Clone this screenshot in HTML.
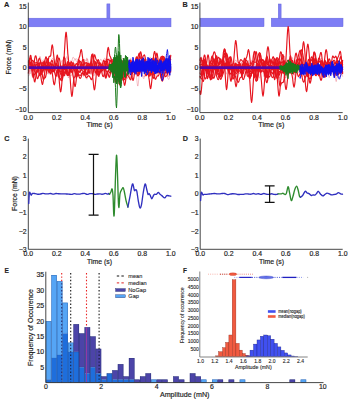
<!DOCTYPE html><html><head><meta charset="utf-8"><style>html,body{margin:0;padding:0;background:#fff;}svg{display:block;}</style></head><body><svg width="349" height="400" viewBox="0 0 349 400" font-family='"Liberation Sans", sans-serif'>
<rect width="349" height="400" fill="#fff"/>
<rect x="106.9" y="3.9" width="3.0" height="14.4" fill="#7d7df5" stroke="#6464dc" stroke-width="0.5"/>
<rect x="28.5" y="18.2" width="142.5" height="8.6" fill="#7d7df5" stroke="#6464dc" stroke-width="0.5"/>
<polyline points="28.3,75.8 28.8,75.9 29.3,74.8 29.8,72.6 30.3,70.2 30.8,68.5 31.3,67.6 31.8,67.4 32.3,67.8 32.8,68.6 33.3,69.3 33.8,69.8 34.3,69.6 34.8,68.7 35.3,67.7 35.8,67.1 36.3,66.3 36.8,64.9 37.3,63.3 37.8,62.7 38.3,63.7 38.8,65.5 39.3,66.3 39.8,65.9 40.3,64.9 40.8,63.7 41.3,62.7 41.8,62.3 42.3,63.2 42.8,65.3 43.3,67.9 43.8,70.2 44.3,71.9 44.8,72.3 45.3,71 45.8,68.5 46.3,66.9 46.8,67.5 47.3,70 47.8,72.6 48.3,74.1 48.8,73.9 49.3,71.6 49.8,68 50.3,65.2 50.8,64.6 51.3,65.6 51.8,66.3 52.3,66 52.8,65.7 53.3,66.1 53.8,67.2 54.3,68.4 54.8,69.7 55.3,70.9 55.8,71.1 56.3,69.5 56.8,66.8 57.3,64.1 57.8,62.8 58.3,62.8 58.8,63.2 59.3,63.6 59.8,64.2 60.3,65.8 60.8,68.7 61.3,72.4 61.8,76.3 62.3,79.1 62.8,79.4 63.3,76.7 63.8,72 64.3,67.6 64.8,65.6 65.3,66 65.8,67 66.3,67.3 66.8,66.9 67.3,66.4 67.8,66.1 68.3,66.4 68.8,67.6 69.3,69.2 69.8,70.6 70.3,71.3 70.8,71.2 71.3,70.2 71.8,68.5 72.3,67.2 72.8,67.3 73.3,69.2 73.8,72.4 74.3,75.8 74.8,78 75.3,78.4 75.8,77.6 76.3,76.2 76.8,74.6 77.3,72.8 77.8,70.9 78.3,69.3 78.8,68.2 79.3,67.4 79.8,65.9 80.3,64 80.8,63.3 81.3,64.7 81.8,67.1 82.3,68.8 82.8,69.3 83.3,69.3 83.8,70.1 84.3,71.6 84.8,72.9 85.3,72.8 85.8,70.7 86.3,67.7 86.8,65.7 87.3,65.7 87.8,67.5 88.3,69.8 88.8,71.3 89.3,71.9 89.8,72.3 90.3,72.9 90.8,73.6 91.3,73.2 91.8,71.6 92.3,70 92.8,69.2 93.3,68.8 93.8,68.5 94.3,69.1 94.8,71.1 95.3,73.4 95.8,74.4 96.3,73.6 96.8,71.5 97.3,69.9 97.8,69.3 98.3,69.6 98.8,70.5 99.3,71.7 99.8,72.9 100.3,73.1 100.8,71.7 101.3,69.6 101.8,68.1 102.3,68 102.8,68.7 103.3,69.2 103.8,69 104.3,68.3 104.8,67.4 105.3,65.9 105.8,64.1 106.3,62.8 106.8,63.4 107.3,65.7 107.8,67.8 108.3,67.8 108.8,65.9 109.3,63.6 109.8,62 110.3,60.8 110.8,60 111.3,59.9 111.8,60.8 112.3,62.2 112.8,63.3 113.3,63.4 113.8,61.9 114.3,59.3 114.8,57.3 115.3,58 115.8,61.9 116.3,67.3 116.8,71 117.3,72.1 117.8,71.7 118.3,72 118.8,73.7 119.3,75.7 119.8,76.2 120.3,74.5 120.8,72.4 121.3,71.9 121.8,73.2 122.3,75.4 122.8,77.1 123.3,77.7 123.8,77 124.3,75 124.8,72.5 125.3,71 125.8,71.5 126.3,73.3 126.8,75.2 127.3,75.6 127.8,74.5 128.3,72.1 128.8,69.1 129.3,65.9 129.8,63.6 130.3,63.1 130.8,64.4 131.3,66.4 131.8,68.7 132.3,70.8 132.8,71.6 133.3,70.7 133.8,68.8 134.3,67.3 134.8,66.6 135.3,67 135.8,69.2 136.3,73.7 136.8,79.4 137.3,84.2 137.8,86.1 138.3,83.9 138.8,78.6 139.3,73.6 139.8,71.2 140.3,70.5 140.8,69.5 141.3,67.7 141.8,66.2 142.3,65.6 142.8,65.2 143.3,64.5 143.8,64.1 144.3,64.8 144.8,66.5 145.3,68 145.8,68.7 146.3,69 146.8,69.5 147.3,70.3 147.8,70.4 148.3,69 148.8,66 149.3,62.9 149.8,61.5 150.3,62.9 150.8,66.3 151.3,70.1 151.8,72.6 152.3,73 152.8,72.3 153.3,71.7 153.8,71 154.3,69.4 154.8,66.7 155.3,64 155.8,62.6 156.3,62.9 156.8,64.7 157.3,67.4 157.8,68.8 158.3,67.5 158.8,63.9 159.3,60.6 159.8,59.6 160.3,60.9 160.8,63.2 161.3,65.3 161.8,66.2 162.3,65.5 162.8,63.7 163.3,62.7 163.8,63.4 164.3,65.3 164.8,66.4 165.3,65.6 165.8,64.4 166.3,64.6 166.8,66.7 167.3,69.1 167.8,70.1 168.3,69.5 168.8,68.6 169.3,68.7 169.8,69.7 170.3,71.3 170.8,72.9" fill="none" stroke="#e03048" stroke-width="0.9" stroke-opacity="0.35" stroke-linejoin="round" />
<polyline points="28.3,64.9 28.8,69 29.3,72.2 29.8,73.5 30.3,73.5 30.8,72.8 31.3,70.9 31.8,67.6 32.3,63.8 32.8,61.4 33.3,61.5 33.8,63.5 34.3,66.2 34.8,69.1 35.3,71.9 35.8,74.3 36.3,75.2 36.8,73.9 37.3,71 37.8,68.6 38.3,68.2 38.8,69.6 39.3,71.3 39.8,71.5 40.3,69.9 40.8,67.7 41.3,66.4 41.8,66.9 42.3,68.6 42.8,70.3 43.3,70.6 43.8,69.7 44.3,68.4 44.8,66.6 45.3,64.2 45.8,62.6 46.3,62.9 46.8,64.6 47.3,65.5 47.8,64.2 48.3,61.9 48.8,61.1 49.3,62.9 49.8,66.6 50.3,70.2 50.8,71.9 51.3,71.4 51.8,69.7 52.3,68.2 52.8,67.9 53.3,69.1 53.8,71 54.3,72.4 54.8,73 55.3,73.3 55.8,74 56.3,75.1 56.8,75.9 57.3,76 57.8,74.9 58.3,73.2 58.8,72.3 59.3,72.5 59.8,73 60.3,72.5 60.8,70.7 61.3,68.3 61.8,66.3 62.3,65.7 62.8,66.4 63.3,67.7 63.8,68.5 64.3,68.4 64.8,67.7 65.3,67.2 65.8,67.7 66.3,68.9 66.8,69.7 67.3,69.4 67.8,68.7 68.3,69 68.8,70.7 69.3,72.9 69.8,74.7 70.3,75.8 70.8,76.1 71.3,75.5 71.8,74.4 72.3,74.1 72.8,75.4 73.3,76.9 73.8,77 74.3,75.9 74.8,74.3 75.3,72.9 75.8,71.8 76.3,71.2 76.8,71.5 77.3,73.1 77.8,74.9 78.3,75.2 78.8,73 79.3,69.6 79.8,67 80.3,65.9 80.8,65.3 81.3,64.8 81.8,65.1 82.3,67.5 82.8,71.8 83.3,75.6 83.8,76.6 84.3,74.5 84.8,71.9 85.3,71 85.8,72.1 86.3,73.2 86.8,73.6 87.3,73.7 87.8,73.9 88.3,73.5 88.8,72.6 89.3,72.3 89.8,73.3 90.3,74.4 90.8,73.8 91.3,71 91.8,68.3 92.3,68.1 92.8,71 93.3,74.6 93.8,76.2 94.3,75.3 94.8,73.3 95.3,71.9 95.8,71.4 96.3,70.4 96.8,67.7 97.3,63.9 97.8,61 98.3,61.1 98.8,64.1 99.3,68.1 99.8,71.2 100.3,72.8 100.8,73.1 101.3,72.4 101.8,71 102.3,69.4 102.8,68.6 103.3,69.3 103.8,71 104.3,72.8 104.8,73.6 105.3,73.1 105.8,72.2 106.3,71.8 106.8,72.6 107.3,74.2 107.8,75.7 108.3,76.8 108.8,77.3 109.3,77.2 109.8,76 110.3,73.9 110.8,72 111.3,71.4 111.8,72.1 112.3,73.2 112.8,73.8 113.3,73.7 113.8,73.1 114.3,72.5 114.8,71.5 115.3,70.4 115.8,69.5 116.3,69.4 116.8,69.9 117.3,70.4 117.8,70.1 118.3,68.7 118.8,67.2 119.3,66.6 119.8,66.9 120.3,67.3 120.8,67.1 121.3,66.5 121.8,66.6 122.3,67.2 122.8,66.7 123.3,64.8 123.8,62.9 124.3,63.2 124.8,65.7 125.3,68.8 125.8,71.8 126.3,74.6 126.8,77.1 127.3,78.5 127.8,78.2 128.3,75.9 128.8,72 129.3,67.5 129.8,63.3 130.3,60 130.8,58.4 131.3,59.9 131.8,64 132.3,68.7 132.8,71.3 133.3,70.8 133.8,68.4 134.3,66.1 134.8,65 135.3,65.1 135.8,65.3 136.3,64.5 136.8,62.8 137.3,61.4 137.8,61.6 138.3,63.7 138.8,67 139.3,70.4 139.8,72.8 140.3,73.2 140.8,72.2 141.3,71.7 141.8,72.7 142.3,74.8 142.8,76.8 143.3,78.2 143.8,78.7 144.3,77.1 144.8,73.6 145.3,70 145.8,68.1 146.3,68.6 146.8,70.4 147.3,72.3 147.8,72.6 148.3,69.9 148.8,64.9 149.3,59.9 149.8,57.2 150.3,57.2 150.8,59.1 151.3,61.5 151.8,63.3 152.3,63.6 152.8,62.4 153.3,60.6 153.8,59.9 154.3,60.8 154.8,61.8 155.3,61.8 155.8,61.4 156.3,62 156.8,63.8 157.3,65.9 157.8,67 158.3,66.7 158.8,66.7 159.3,68.3 159.8,70.9 160.3,72.9 160.8,73.4 161.3,72.6 161.8,70.4 162.3,67.5 162.8,65.2 163.3,64.1 163.8,64 164.3,64.3 164.8,65.2 165.3,67.2 165.8,69.4 166.3,70.7 166.8,70.5 167.3,69.4 167.8,68.5 168.3,68.6 168.8,69 169.3,68.9 169.8,68.2 170.3,67.1 170.8,65.1" fill="none" stroke="#e03048" stroke-width="0.9" stroke-opacity="0.35" stroke-linejoin="round" />
<polyline points="28.3,71.3 28.8,67.3 29.3,63.2 29.8,61.2 30.3,62.8 30.8,67.4 31.3,72.5 31.8,75.7 32.3,76.5 32.8,76 33.3,75.5 33.8,75.1 34.3,74.4 34.8,73.1 35.3,71.6 35.8,70.6 36.3,70.6 36.8,71.5 37.3,72.6 37.8,72.6 38.3,70.1 38.8,65 39.3,59.5 39.8,56.4 40.3,56.7 40.8,59.1 41.3,61.7 41.8,63.7 42.3,65.4 42.8,67 43.3,68.4 43.8,69.5 44.3,70.2 44.8,70.2 45.3,68.9 45.8,66.5 46.3,64.3 46.8,63.7 47.3,64.4 47.8,65.6 48.3,66.7 48.8,67.2 49.3,66.6 49.8,65.2 50.3,63.9 50.8,63.4 51.3,64.1 51.8,65.6 52.3,67.1 52.8,68.5 53.3,70.1 53.8,71.5 54.3,71.4 54.8,69.4 55.3,66.5 55.8,64.8 56.3,65.1 56.8,66.7 57.3,68.2 57.8,69.5 58.3,70.9 58.8,73 59.3,75.5 59.8,77.4 60.3,77.6 60.8,75.7 61.3,72.2 61.8,68.4 62.3,65.9 62.8,66.3 63.3,69.3 63.8,73 64.3,75.4 64.8,76 65.3,75.3 65.8,74.5 66.3,73.9 66.8,72.6 67.3,70.5 67.8,68 68.3,66 68.8,64.5 69.3,63.4 69.8,62.4 70.3,62.2 70.8,63 71.3,65.2 71.8,67.9 72.3,70.1 72.8,70.9 73.3,70.6 73.8,69.6 74.3,68.7 74.8,68.8 75.3,70.6 75.8,73.2 76.3,74.7 76.8,74.3 77.3,72.9 77.8,71.6 78.3,70.5 78.8,69.6 79.3,68.5 79.8,66.7 80.3,64.2 80.8,62.3 81.3,62.7 81.8,65.4 82.3,68.5 82.8,70.5 83.3,71.4 83.8,72.1 84.3,72.9 84.8,74 85.3,75.4 85.8,77.2 86.3,78.8 86.8,79.3 87.3,78.1 87.8,75.9 88.3,74.1 88.8,73.3 89.3,72.5 89.8,70.6 90.3,68.4 90.8,67.3 91.3,67.8 91.8,69.1 92.3,70.5 92.8,71.3 93.3,70.9 93.8,68.6 94.3,65.6 94.8,63.5 95.3,63.1 95.8,63.8 96.3,64.3 96.8,63.7 97.3,62.1 97.8,61 98.3,61.6 98.8,63.4 99.3,64.8 99.8,65.9 100.3,67.5 100.8,69.9 101.3,71.5 101.8,70.8 102.3,68.2 102.8,65.2 103.3,63.2 103.8,62.8 104.3,63 104.8,62.4 105.3,60.6 105.8,59.1 106.3,59 106.8,60.2 107.3,61.7 107.8,63.4 108.3,64.8 108.8,65.6 109.3,65.7 109.8,65.8 110.3,66.4 110.8,67.3 111.3,68.3 111.8,69.2 112.3,70 112.8,70.2 113.3,69.7 113.8,69.2 114.3,69.1 114.8,69.3 115.3,69.6 115.8,69.4 116.3,67.9 116.8,64.4 117.3,59.8 117.8,56.5 118.3,56.2 118.8,58.4 119.3,61 119.8,62.7 120.3,63.6 120.8,64.1 121.3,64.3 121.8,63.9 122.3,63.4 122.8,63.5 123.3,64.4 123.8,65.3 124.3,65.5 124.8,65.6 125.3,66.6 125.8,68.5 126.3,70.3 126.8,70.2 127.3,68.3 127.8,66.1 128.3,64.8 128.8,64.9 129.3,66 129.8,67.5 130.3,68.3 130.8,68.3 131.3,67.9 131.8,68 132.3,68.4 132.8,68.8 133.3,69 133.8,69 134.3,69.3 134.8,69 135.3,67.5 135.8,65.3 136.3,63.9 136.8,63.9 137.3,64.7 137.8,65.7 138.3,66.8 138.8,68 139.3,69 139.8,69.8 140.3,70 140.8,69.8 141.3,69.3 141.8,68.3 142.3,66.5 142.8,64 143.3,61.4 143.8,59.4 144.3,58.1 144.8,57.9 145.3,59 145.8,60.6 146.3,61.5 146.8,61.4 147.3,62 147.8,64.3 148.3,67.1 148.8,68 149.3,66.5 149.8,64.4 150.3,63.3 150.8,63.2 151.3,63.7 151.8,64.6 152.3,66.2 152.8,68.5 153.3,70.2 153.8,70.6 154.3,69.9 154.8,69.3 155.3,69.7 155.8,70.8 156.3,72.5 156.8,74.1 157.3,74.7 157.8,73.3 158.3,70.2 158.8,66.6 159.3,64.1 159.8,63.2 160.3,63.3 160.8,63.8 161.3,64 161.8,64.1 162.3,64.8 162.8,66.3 163.3,67.8 163.8,68.7 164.3,68.8 164.8,68.2 165.3,67.6 165.8,67.4 166.3,67.5 166.8,67.3 167.3,66.3 167.8,64.4 168.3,61.8 168.8,59.4 169.3,58.2 169.8,58.9 170.3,61.5 170.8,64.6" fill="none" stroke="#e03048" stroke-width="0.9" stroke-opacity="0.35" stroke-linejoin="round" />
<polyline points="28.3,63.6 28.8,61.7 29.3,61.8 29.8,63.1 30.3,64.6 30.8,66.6 31.3,69 31.8,71.3 32.3,72.7 32.8,73.4 33.3,74.2 33.8,75 34.3,74.6 34.8,72.8 35.3,70.4 35.8,68.4 36.3,67.6 36.8,68.1 37.3,69.6 37.8,71.2 38.3,71.7 38.8,71.3 39.3,70.5 39.8,70.1 40.3,69.7 40.8,68.6 41.3,66.7 41.8,64.3 42.3,61.9 42.8,60.2 43.3,59.9 43.8,60.3 44.3,60.1 44.8,59.9 45.3,61 45.8,63.8 46.3,66.8 46.8,68.9 47.3,69.5 47.8,69.4 48.3,69.5 48.8,70.4 49.3,71.7 49.8,72.5 50.3,72 50.8,70.3 51.3,67.7 51.8,65.4 52.3,64.1 52.8,64.1 53.3,65 53.8,66.2 54.3,67 54.8,67.3 55.3,67.1 55.8,66.9 56.3,67.1 56.8,68.3 57.3,69.9 57.8,70.9 58.3,71 58.8,70.4 59.3,70.3 59.8,71.6 60.3,74.4 60.8,77 61.3,77.5 61.8,75.3 62.3,71.7 62.8,68.9 63.3,67.9 63.8,67.7 64.3,66.6 64.8,64.4 65.3,62.1 65.8,59.7 66.3,57.6 66.8,56.6 67.3,57.6 67.8,60.3 68.3,63.6 68.8,66.8 69.3,69.5 69.8,71.1 70.3,71.4 70.8,70 71.3,67.7 71.8,65.3 72.3,64.5 72.8,65.1 73.3,66.1 73.8,66.3 74.3,66.4 74.8,67.6 75.3,70.3 75.8,73 76.3,74.2 76.8,73.5 77.3,71.9 77.8,70.9 78.3,70.5 78.8,70.1 79.3,69.6 79.8,69.9 80.3,71.4 80.8,73.2 81.3,74.2 81.8,73.9 82.3,73.2 82.8,72.6 83.3,72.1 83.8,71.5 84.3,71.1 84.8,70.9 85.3,71 85.8,71.5 86.3,72.7 86.8,73.8 87.3,73.8 87.8,72.4 88.3,70.1 88.8,67.3 89.3,65 89.8,63.5 90.3,62.2 90.8,60.7 91.3,59.3 91.8,59.2 92.3,60.6 92.8,63.2 93.3,65.8 93.8,68.1 94.3,69.9 94.8,71.4 95.3,72.9 95.8,74.1 96.3,74.1 96.8,72.2 97.3,68.9 97.8,66.1 98.3,65.2 98.8,66.2 99.3,67.7 99.8,68.2 100.3,67.3 100.8,65.5 101.3,64.3 101.8,65.3 102.3,68.5 102.8,72.5 103.3,75.1 103.8,75 104.3,72.8 104.8,70.2 105.3,68.6 105.8,67.5 106.3,66.7 106.8,66.6 107.3,67.3 107.8,67.9 108.3,67.2 108.8,64.8 109.3,61.7 109.8,59.1 110.3,57.7 110.8,58.1 111.3,60.6 111.8,64.1 112.3,67.2 112.8,68.5 113.3,68.3 113.8,67.5 114.3,67.1 114.8,66.7 115.3,65.6 115.8,63.9 116.3,62.4 116.8,61.8 117.3,62.6 117.8,65.3 118.3,69.3 118.8,73 119.3,74.5 119.8,73.6 120.3,71.3 120.8,68.9 121.3,67.5 121.8,67 122.3,67 122.8,67.3 123.3,68.1 123.8,68.8 124.3,68.8 124.8,68.4 125.3,68.2 125.8,68.6 126.3,69.1 126.8,69 127.3,68.2 127.8,67.2 128.3,65.9 128.8,64.2 129.3,62.2 129.8,60.9 130.3,61 130.8,62.1 131.3,63.1 131.8,63 132.3,62.2 132.8,61.6 133.3,62.4 133.8,64.3 134.3,66.1 134.8,66.2 135.3,64.5 135.8,62.1 136.3,60.2 136.8,59.4 137.3,60.2 137.8,63 138.3,67.3 138.8,71.4 139.3,73.1 139.8,71.6 140.3,68.4 140.8,64.9 141.3,61.9 141.8,59.9 142.3,59.6 142.8,61.1 143.3,63.6 143.8,65.9 144.3,67.2 144.8,67.6 145.3,67.5 145.8,67.4 146.3,67.9 146.8,69 147.3,69.6 147.8,69 148.3,67.5 148.8,66.4 149.3,66.3 149.8,67 150.3,67.7 150.8,67.9 151.3,68.4 151.8,69.8 152.3,71.9 152.8,72.9 153.3,71.4 153.8,68.1 154.3,65.4 154.8,64.6 155.3,64.8 155.8,64.3 156.3,63.1 156.8,62.9 157.3,64.4 157.8,65.8 158.3,65 158.8,61.8 159.3,58.6 159.8,57.8 160.3,59.5 160.8,62.5 161.3,65.3 161.8,67.2 162.3,68 162.8,67.4 163.3,66 163.8,65.1 164.3,65.8 164.8,68 165.3,70.7 165.8,72.9 166.3,74.4 166.8,75.7 167.3,77 167.8,78.3 168.3,79.2 168.8,79.5 169.3,78.3 169.8,75.1 170.3,70.8 170.8,67.4" fill="none" stroke="#e03048" stroke-width="0.9" stroke-opacity="0.35" stroke-linejoin="round" />
<polyline points="28.3,69.8 28.8,71.2 29.3,71.6 29.8,70.6 30.3,68.6 30.8,67.5 31.3,68.2 31.8,70.3 32.3,71.9 32.8,71.3 33.3,67.9 33.8,63.5 34.3,61 34.8,61.5 35.3,63.4 35.8,64.7 36.3,64.9 36.8,64.6 37.3,64.6 37.8,65.5 38.3,67.6 38.8,70.6 39.3,73.6 39.8,75.7 40.3,76.3 40.8,75.7 41.3,74.2 41.8,72.7 42.3,71.8 42.8,72 43.3,72.6 43.8,71.8 44.3,68.9 44.8,65 45.3,62.1 45.8,61.5 46.3,62.7 46.8,64.7 47.3,66.7 47.8,68.3 48.3,68.8 48.8,67.5 49.3,65.2 49.8,64.2 50.3,65.4 50.8,67.6 51.3,69.7 51.8,71.2 52.3,71.6 52.8,70.2 53.3,67.3 53.8,64.1 54.3,61.8 54.8,61.1 55.3,62.6 55.8,66.1 56.3,70.1 56.8,72.4 57.3,72.3 57.8,70.7 58.3,69.4 58.8,69.3 59.3,70.3 59.8,71.3 60.3,71.5 60.8,70.6 61.3,68.9 61.8,67.7 62.3,67.6 62.8,68.3 63.3,68.3 63.8,66.3 64.3,62.8 64.8,59.3 65.3,58.1 65.8,60 66.3,64.3 66.8,68.9 67.3,72.3 67.8,74 68.3,73.9 68.8,72.4 69.3,70.5 69.8,69.3 70.3,68.8 70.8,68.1 71.3,65.9 71.8,62.6 72.3,59.4 72.8,57.5 73.3,57.3 73.8,58.1 74.3,58.7 74.8,58.9 75.3,59 75.8,59.1 76.3,59 76.8,58.8 77.3,59.1 77.8,60.5 78.3,62.9 78.8,65.9 79.3,68.8 79.8,71 80.3,71.9 80.8,71.4 81.3,70 81.8,68.4 82.3,66.5 82.8,64.3 83.3,62 83.8,61.2 84.3,62.2 84.8,64.1 85.3,65.7 85.8,66.6 86.3,66.8 86.8,65.8 87.3,64.2 87.8,63.1 88.3,63.3 88.8,64 89.3,64.4 89.8,64.7 90.3,65.1 90.8,65.4 91.3,65.3 91.8,65.3 92.3,66 92.8,66.8 93.3,67 93.8,66.5 94.3,66.2 94.8,66.7 95.3,67.9 95.8,69.5 96.3,71.4 96.8,73.6 97.3,75.2 97.8,75 98.3,73.2 98.8,70.9 99.3,69.4 99.8,68.4 100.3,67 100.8,64.8 101.3,62.9 101.8,62.8 102.3,63.9 102.8,64.9 103.3,64.5 103.8,63.5 104.3,63.3 104.8,64.3 105.3,65.6 105.8,66 106.3,65.7 106.8,65.7 107.3,66.8 107.8,68 108.3,68 108.8,67.2 109.3,67.2 109.8,68.7 110.3,71.1 110.8,73.3 111.3,74.2 111.8,73 112.3,70.3 112.8,67 113.3,64 113.8,61.7 114.3,60.2 114.8,59.3 115.3,59.5 115.8,60.7 116.3,62.7 116.8,64.8 117.3,66.9 117.8,69.1 118.3,71.3 118.8,73.2 119.3,74.3 119.8,74.5 120.3,74.4 120.8,74.5 121.3,74.2 121.8,73.2 122.3,71.9 122.8,71.1 123.3,70.9 123.8,70.6 124.3,69.9 124.8,68.8 125.3,67.8 125.8,67.4 126.3,67.3 126.8,67.2 127.3,67.3 127.8,67.8 128.3,69 128.8,71.4 129.3,74.5 129.8,76.8 130.3,77.7 130.8,77.2 131.3,75.8 131.8,74 132.3,72.1 132.8,70.5 133.3,69.2 133.8,67.9 134.3,66.5 134.8,65 135.3,64.4 135.8,65.5 136.3,67.5 136.8,68.9 137.3,69.1 137.8,68.3 138.3,67.7 138.8,67.3 139.3,67.2 139.8,67.4 140.3,68.5 140.8,70 141.3,71 141.8,70.2 142.3,68.3 142.8,66.9 143.3,67.2 143.8,68.3 144.3,68.5 144.8,66.9 145.3,64.1 145.8,61.2 146.3,59.4 146.8,59.1 147.3,60.5 147.8,63.3 148.3,66.6 148.8,69.3 149.3,71.1 149.8,72.1 150.3,72.7 150.8,72.5 151.3,71.7 151.8,70.9 152.3,70.4 152.8,70.3 153.3,70.5 153.8,71.2 154.3,71.8 154.8,71.6 155.3,70.8 155.8,70.4 156.3,70.6 156.8,70.8 157.3,70 157.8,68.3 158.3,66.2 158.8,64.5 159.3,63.7 159.8,64.4 160.3,66.9 160.8,70.8 161.3,74.7 161.8,77.1 162.3,77.1 162.8,75.6 163.3,74 163.8,73.5 164.3,73.9 164.8,74.6 165.3,75.1 165.8,75.4 166.3,75.7 166.8,76.3 167.3,76.6 167.8,75.9 168.3,73.7 168.8,70.9 169.3,69.2 169.8,69.4 170.3,71.1 170.8,72.7" fill="none" stroke="#e03048" stroke-width="0.9" stroke-opacity="0.35" stroke-linejoin="round" />
<polyline points="28.3,62 28.8,61.6 29.3,61.7 29.8,63 30.3,64.6 30.8,65.4 31.3,65.7 31.8,66.4 32.3,67.1 32.8,68 33.3,69.4 33.8,70.9 34.3,71.3 34.8,70.1 35.3,67.7 35.8,65.4 36.3,64.7 36.8,65.3 37.3,65.9 37.8,65.2 38.3,63.9 38.8,63.6 39.3,65 39.8,67.4 40.3,70 40.8,72.1 41.3,73.6 41.8,74.2 42.3,74 42.8,74.3 43.3,75.7 43.8,77.4 44.3,78.1 44.8,77.3 45.3,75.9 45.8,75 46.3,74.7 46.8,74.4 47.3,73.7 47.8,72.5 48.3,71.1 48.8,69.7 49.3,68.5 49.8,67.3 50.3,66.2 50.8,65 51.3,63.9 51.8,63.3 52.3,63.6 52.8,64.5 53.3,65.4 53.8,65.9 54.3,65.4 54.8,63.8 55.3,61.7 55.8,60 56.3,59.3 56.8,60.1 57.3,62.3 57.8,64.8 58.3,66.1 58.8,65.8 59.3,65.1 59.8,65.3 60.3,66.8 60.8,68.5 61.3,69.8 61.8,70.8 62.3,72.2 62.8,73.7 63.3,74.6 63.8,74.3 64.3,73 64.8,71.7 65.3,70.8 65.8,70.5 66.3,71 66.8,72.3 67.3,74.1 67.8,75.3 68.3,74.8 68.8,72.7 69.3,69.4 69.8,65.5 70.3,62.1 70.8,60.5 71.3,61.4 71.8,63.5 72.3,64.7 72.8,64.1 73.3,62.4 73.8,60.9 74.3,59.9 74.8,59.4 75.3,59.4 75.8,60.1 76.3,61.3 76.8,62.3 77.3,62.9 77.8,62.9 78.3,62.5 78.8,61.9 79.3,61.6 79.8,61.8 80.3,62.5 80.8,63.1 81.3,63.7 81.8,65.2 82.3,67.6 82.8,69.6 83.3,69 83.8,66.1 84.3,63.2 84.8,62.3 85.3,63.2 85.8,64 86.3,63.5 86.8,62.3 87.3,62.1 87.8,63.4 88.3,65.6 88.8,68.1 89.3,70.5 89.8,72.5 90.3,73.5 90.8,73.2 91.3,71.6 91.8,70 92.3,68.7 92.8,66.9 93.3,64.2 93.8,61.6 94.3,60.4 94.8,60.9 95.3,62.7 95.8,64.6 96.3,66.1 96.8,66.7 97.3,66.3 97.8,65.4 98.3,65 98.8,65.6 99.3,67 99.8,68.6 100.3,70 100.8,71.1 101.3,71.6 101.8,71.2 102.3,69.9 102.8,67.4 103.3,63.8 103.8,60.4 104.3,58.5 104.8,58.2 105.3,58.6 105.8,59.4 106.3,60.7 106.8,62 107.3,62.3 107.8,61.4 108.3,60.4 108.8,60.2 109.3,61.3 109.8,63.2 110.3,64.5 110.8,64.8 111.3,64.3 111.8,63.8 112.3,63.6 112.8,64.1 113.3,66 113.8,69.1 114.3,71.7 114.8,72.7 115.3,72.4 115.8,71.9 116.3,71.8 116.8,71.8 117.3,71.1 117.8,69.5 118.3,68.3 118.8,68.5 119.3,69.8 119.8,70.8 120.3,71 120.8,71 121.3,71.2 121.8,71.1 122.3,70.1 122.8,68.7 123.3,67.8 123.8,67.9 124.3,68.9 124.8,69.9 125.3,69.9 125.8,68.4 126.3,66.2 126.8,64.4 127.3,63.9 127.8,64.6 128.3,65.4 128.8,65.2 129.3,64.6 129.8,65.7 130.3,69 130.8,72.7 131.3,75.3 131.8,76.4 132.3,76.7 132.8,76.3 133.3,75.3 133.8,73.4 134.3,71 134.8,68.7 135.3,66.8 135.8,65.5 136.3,65.3 136.8,65.9 137.3,66 137.8,65.4 138.3,64.7 138.8,65 139.3,65.5 139.8,64.7 140.3,62.3 140.8,59.8 141.3,59 141.8,61 142.3,64.7 142.8,67.8 143.3,68.3 143.8,66.2 144.3,63.8 144.8,63.8 145.3,67 145.8,71.3 146.3,74.2 146.8,75.1 147.3,74.9 147.8,73.8 148.3,72.2 148.8,70.7 149.3,69.9 149.8,69.8 150.3,70.5 150.8,71.9 151.3,73.6 151.8,74.5 152.3,74.2 152.8,73.2 153.3,71.8 153.8,70.2 154.3,68.8 154.8,68 155.3,67.2 155.8,66 156.3,64.9 156.8,65.5 157.3,67.8 157.8,69.4 158.3,68.1 158.8,64.5 159.3,61.5 159.8,60.9 160.3,62.7 160.8,65.3 161.3,67.3 161.8,68.3 162.3,68.4 162.8,67.9 163.3,67.5 163.8,68.3 164.3,70.6 164.8,72.9 165.3,74.5 165.8,74.8 166.3,73.6 166.8,70.7 167.3,67.3 167.8,64.6 168.3,63.9 168.8,65.4 169.3,68.2 169.8,70.8 170.3,72.1 170.8,71.9" fill="none" stroke="#e03048" stroke-width="0.9" stroke-opacity="0.35" stroke-linejoin="round" />
<polyline points="28.3,68.2 28.8,68.2 29.3,67.4 29.8,66 30.3,65 30.8,65.1 31.3,66.3 31.8,67.3 32.3,66.8 32.8,65.2 33.3,63.7 33.8,63.5 34.3,64.8 34.8,67.1 35.3,68.9 35.8,69.4 36.3,68.4 36.8,67 37.3,66.5 37.8,67.6 38.3,70.4 38.8,72.9 39.3,72.6 39.8,69.1 40.3,64.7 40.8,62.3 41.3,62.7 41.8,64.2 42.3,64.8 42.8,64 43.3,63.1 43.8,62.9 44.3,63.6 44.8,64.3 45.3,64.5 45.8,64.3 46.3,64.6 46.8,66.4 47.3,68.9 47.8,70.5 48.3,70.2 48.8,68.9 49.3,67.6 49.8,66.6 50.3,65.1 50.8,63.1 51.3,61 51.8,59.4 52.3,58.5 52.8,58.3 53.3,58.9 53.8,60.4 54.3,62.6 54.8,65.1 55.3,67.4 55.8,70 56.3,73 56.8,75.7 57.3,76.8 57.8,75.8 58.3,73.5 58.8,71 59.3,68.7 59.8,67.4 60.3,67.8 60.8,70 61.3,72.7 61.8,74.6 62.3,75 62.8,74.3 63.3,73.7 63.8,73.7 64.3,73.6 64.8,72.4 65.3,69.5 65.8,66 66.3,64.4 66.8,66.4 67.3,71.1 67.8,75.8 68.3,77.9 68.8,76.9 69.3,74.4 69.8,71.9 70.3,70.1 70.8,68.5 71.3,67.2 71.8,67 72.3,68.1 72.8,69.7 73.3,71.1 73.8,72.7 74.3,74.8 74.8,76.5 75.3,75.9 75.8,72.3 76.3,67.3 76.8,63.8 77.3,63.3 77.8,65 78.3,67.6 78.8,69.8 79.3,70.6 79.8,70 80.3,68.9 80.8,68.4 81.3,68.5 81.8,68.5 82.3,68 82.8,66.9 83.3,65.6 83.8,64.5 84.3,64.3 84.8,64.8 85.3,65 85.8,63.4 86.3,60.2 86.8,57.9 87.3,58.9 87.8,62.9 88.3,67.7 88.8,70.8 89.3,71.6 89.8,71.1 90.3,71 90.8,72 91.3,73.5 91.8,74.3 92.3,73.7 92.8,72.3 93.3,70.7 93.8,69.6 94.3,69.6 94.8,70.3 95.3,69.9 95.8,67.1 96.3,63.4 96.8,61.6 97.3,62.8 97.8,65 98.3,66.1 98.8,65.2 99.3,63 99.8,60.8 100.3,59.6 100.8,59.3 101.3,59.6 101.8,60.3 102.3,61.7 102.8,63.7 103.3,66 103.8,68.2 104.3,70.2 104.8,71.9 105.3,73.6 105.8,74.6 106.3,73.1 106.8,68.6 107.3,62.8 107.8,58.9 108.3,58.5 108.8,61 109.3,64.6 109.8,67.9 110.3,70.6 110.8,72.4 111.3,73.1 111.8,72.9 112.3,72 112.8,70.7 113.3,68.8 113.8,67 114.3,66.1 114.8,66.4 115.3,67.5 115.8,68.7 116.3,69.4 116.8,69 117.3,67.4 117.8,65.5 118.3,65 118.8,66.7 119.3,69.4 119.8,71.2 120.3,71.4 120.8,70.6 121.3,69.6 121.8,68.5 122.3,67.5 122.8,66.6 123.3,65.4 123.8,64.2 124.3,63.7 124.8,64.2 125.3,65.1 125.8,66 126.3,67.2 126.8,69 127.3,70.7 127.8,71.5 128.3,71.1 128.8,70.5 129.3,71.2 129.8,74 130.3,77.9 130.8,80.3 131.3,79.4 131.8,75.6 132.3,70.8 132.8,67.5 133.3,66.7 133.8,67.8 134.3,69.5 134.8,70.9 135.3,71.5 135.8,71 136.3,69 136.8,66.6 137.3,64.9 137.8,64.6 138.3,65.2 138.8,65.7 139.3,65.4 139.8,64.9 140.3,65.1 140.8,66.2 141.3,67.1 141.8,66.7 142.3,65.5 142.8,63.9 143.3,62.2 143.8,60.5 144.3,59.6 144.8,59.2 145.3,59.1 145.8,59.4 146.3,61.4 146.8,65.2 147.3,69.6 147.8,72.6 148.3,73 148.8,71.9 149.3,71.5 149.8,72.9 150.3,75.1 150.8,75.9 151.3,74.1 151.8,69.4 152.3,63.2 152.8,58.3 153.3,57.5 153.8,61.9 154.3,69.5 154.8,76.4 155.3,79.1 155.8,76.7 156.3,71.3 156.8,66.1 157.3,62.9 157.8,61.7 158.3,61.7 158.8,62.7 159.3,65 159.8,67.6 160.3,68.7 160.8,67.1 161.3,64.2 161.8,62.8 162.3,64 162.8,66.5 163.3,68.2 163.8,68.5 164.3,68 164.8,67.1 165.3,66.3 165.8,65.7 166.3,65.6 166.8,66.2 167.3,67.2 167.8,67.7 168.3,67.6 168.8,67.4 169.3,67.9 169.8,69.2 170.3,70.5 170.8,71" fill="none" stroke="#e03048" stroke-width="0.9" stroke-opacity="0.35" stroke-linejoin="round" />
<polyline points="28.3,70.1 28.8,66.5 29.3,62.8 29.8,59.9 30.3,58.7 30.8,59.3 31.3,60.9 31.8,62.1 32.3,62.8 32.8,63.9 33.3,66.2 33.8,69.4 34.3,72.3 34.8,74.1 35.3,75 35.8,75.3 36.3,74.7 36.8,73.2 37.3,71.5 37.8,71.1 38.3,72.4 38.8,74.1 39.3,74.5 39.8,73.2 40.3,70.9 40.8,68.6 41.3,67 41.8,66.2 42.3,65.9 42.8,65.5 43.3,64.8 43.8,64 44.3,63.4 44.8,63.2 45.3,63.2 45.8,62.7 46.3,61.6 46.8,60.4 47.3,59.9 47.8,60.2 48.3,61 48.8,62.4 49.3,64.6 49.8,67 50.3,68.7 50.8,69.4 51.3,69.9 51.8,70.1 52.3,69.2 52.8,67.2 53.3,65.7 53.8,65.9 54.3,66.8 54.8,67.2 55.3,67.5 55.8,69 56.3,71.8 56.8,74.2 57.3,75.1 57.8,74.9 58.3,74.2 58.8,72.6 59.3,70.3 59.8,68 60.3,66.4 60.8,64.5 61.3,62.3 61.8,60.6 62.3,60.4 62.8,61.3 63.3,62.6 63.8,64.3 64.3,66.2 64.8,68.1 65.3,69.1 65.8,69 66.3,68.4 66.8,68.8 67.3,70.6 67.8,73.3 68.3,75.4 68.8,75.9 69.3,74.3 69.8,71.2 70.3,68.1 70.8,66.1 71.3,65.5 71.8,66.1 72.3,67.4 72.8,68.5 73.3,68.7 73.8,67.8 74.3,66.9 74.8,67.2 75.3,68.8 75.8,70.3 76.3,70.7 76.8,69.9 77.3,68.8 77.8,67.7 78.3,66.7 78.8,65.5 79.3,64.8 79.8,64.9 80.3,65.7 80.8,67.1 81.3,68.6 81.8,69.7 82.3,69.6 82.8,67.8 83.3,64.5 83.8,61.2 84.3,59.4 84.8,59.3 85.3,60.1 85.8,60.7 86.3,60.6 86.8,59.7 87.3,59 87.8,59.7 88.3,62 88.8,64.9 89.3,67.9 89.8,70.7 90.3,72.6 90.8,71.9 91.3,68.2 91.8,63.5 92.3,59.8 92.8,58.2 93.3,58.8 93.8,61 94.3,63.7 94.8,65.6 95.3,66.4 95.8,66.8 96.3,67.7 96.8,69 97.3,69.9 97.8,70.4 98.3,71 98.8,71.9 99.3,73 99.8,73.3 100.3,72.2 100.8,70.4 101.3,68.7 101.8,67.5 102.3,67.2 102.8,67.9 103.3,68.8 103.8,69.1 104.3,68.7 104.8,68.4 105.3,68.2 105.8,67.1 106.3,65.3 106.8,64.1 107.3,64.3 107.8,65.2 108.3,66 108.8,66.6 109.3,67.8 109.8,69.3 110.3,70.5 110.8,71.1 111.3,70.9 111.8,70.3 112.3,69.9 112.8,70 113.3,70.3 113.8,70.1 114.3,68.9 114.8,67.3 115.3,66.9 115.8,68.2 116.3,70 116.8,69.9 117.3,67.1 117.8,63.4 118.3,61.5 118.8,62.5 119.3,65.1 119.8,67.4 120.3,67.7 120.8,65.7 121.3,62.6 121.8,60 122.3,58.6 122.8,58.1 123.3,58.7 123.8,60.8 124.3,63.9 124.8,66.1 125.3,65.8 125.8,63.4 126.3,61.5 126.8,61.5 127.3,62.9 127.8,63.8 128.3,63.4 128.8,62.1 129.3,60.9 129.8,60.5 130.3,60.6 130.8,61.2 131.3,62.3 131.8,63.5 132.3,63.8 132.8,63.1 133.3,62.4 133.8,62.5 134.3,62.7 134.8,62.9 135.3,64 135.8,66.5 136.3,69.5 136.8,71.6 137.3,72 137.8,70.5 138.3,67.1 138.8,62.4 139.3,58 139.8,56.1 140.3,58 140.8,63 141.3,68.6 141.8,73 142.3,75.3 142.8,76.1 143.3,76.2 143.8,76.1 144.3,76.4 144.8,76.9 145.3,76.4 145.8,74 146.3,69.9 146.8,65.8 147.3,63.3 147.8,62.9 148.3,63.7 148.8,64 149.3,63.2 149.8,62.3 150.3,63.3 150.8,66.5 151.3,70.3 151.8,73 152.3,73.6 152.8,72.3 153.3,70 153.8,68.3 154.3,67.8 154.8,68.2 155.3,69.2 155.8,70.2 156.3,70.6 156.8,70.1 157.3,68.5 157.8,66.2 158.3,64.1 158.8,63.3 159.3,64.3 159.8,66.9 160.3,70 160.8,72.2 161.3,72.4 161.8,71.2 162.3,69.6 162.8,68.5 163.3,67.9 163.8,67.5 164.3,67.2 164.8,67 165.3,66.9 165.8,66.7 166.3,66.7 166.8,68.2 167.3,71.5 167.8,75.1 168.3,76.8 168.8,76.2 169.3,74.4 169.8,72.7 170.3,71 170.8,69" fill="none" stroke="#e03048" stroke-width="0.9" stroke-opacity="0.35" stroke-linejoin="round" />
<polyline points="28.3,65.5 28.8,63.4 29.3,62.3 29.8,62.6 30.3,63.7 30.8,65.1 31.3,66.2 31.8,66.9 32.3,67.7 32.8,69.6 33.3,73.1 33.8,77.5 34.3,81.1 34.8,82 35.3,80.1 35.8,76.8 36.3,73.8 36.8,72.1 37.3,71.5 37.8,71 38.3,69.6 38.8,67.4 39.3,65.7 39.8,66.6 40.3,70.7 40.8,76.1 41.3,79.6 41.8,82.7 42.3,84.4 42.4,84.5 42.8,83.7 43.3,80.9 43.8,79 44.3,78 44.8,77.9 45.3,77.8 45.8,76.3 46.3,73.4 46.8,69.9 47.3,67.1 47.8,65.9 48.3,66.7 48.8,68.9 49.3,71.3 49.8,72.2 50.3,70.8 50.8,67.8 51.3,64.8 51.8,63.6 52.3,64.2 52.8,65.7 53.3,66.8 53.8,67 54.3,66.6 54.8,66.2 55.3,65.9 55.8,65.6 56.3,64.9 56.8,63.7 57.3,62.1 57.8,60.4 58.3,58.9 58.8,58 59.3,58.4 59.8,60.5 60.3,64.2 60.8,68.8 61.3,73.3 61.8,76.3 62.3,77 62.8,75.2 63.3,70.8 63.8,63.3 64.3,53.8 64.8,45.8 65.3,37.9 65.8,32.9 66.1,32.2 66.3,32.8 66.8,37.6 67.3,45.4 67.8,53.6 68.3,58.1 68.8,62.7 69.3,68.5 69.8,74.4 70.3,80.6 70.8,87.5 71.3,93.4 71.8,96.3 71.9,96.4 72.3,95.1 72.8,90.2 73.3,83.6 73.8,78.8 74.3,77.4 74.8,76.9 75.3,76.4 75.8,75.2 76.3,73 76.8,70 77.3,66.8 77.8,63.7 78.3,61.1 78.8,59.8 79.3,60.3 79.8,62.4 80.3,65.2 80.8,67.7 81.3,69.4 81.8,70.3 82.3,70.8 82.8,71.2 83.3,71.5 83.8,71.7 84.3,71.5 84.8,71.1 85.3,71.1 85.8,71.9 86.3,73.2 86.8,74.3 87.3,74.5 87.8,73.6 88.3,71.8 88.8,69.6 89.3,67.5 89.8,65.9 90.3,65.1 90.8,65.5 91.3,66.7 91.8,67.9 92.3,67.8 92.8,65.6 93.3,61.5 93.8,57.4 94.3,54.9 94.8,54.9 95.3,56.6 95.8,58.6 96.3,59.9 96.8,60.5 97.3,61.1 97.8,62 98.3,63 98.8,63.6 99.3,63.5 99.8,63.5 100.3,64.2 100.8,66.1 101.3,68.9 101.8,72.1 102.3,74.7 102.8,76.3 103.3,76.6 103.8,75.9 104.3,74.5 104.8,72.6 105.3,70.6 105.8,68.2 106.3,64.3 106.8,57.9 107.3,52.2 107.8,48.6 108.2,47.4 108.3,47.4 108.8,49.2 109.3,53.2 109.8,55.9 110.3,56.6 110.8,57.7 111.3,59.2 111.8,60.4 112.3,61.1 112.8,61.4 113.3,61.4 113.8,61.5 114.3,62 114.8,63.4 115.3,65.4 115.8,67.2 116.3,68.3 116.8,69.1 117.3,70.5 117.8,73.2 118.3,77.1 118.8,81.2 119.3,84.2 119.8,84.8 120.3,82.6 120.8,78.8 121.3,75 121.8,72.7 122.3,72.6 122.8,74.3 123.3,76.7 123.8,78.7 124.3,79.6 124.8,79.4 125.3,78.4 125.8,77.1 126.3,75.6 126.8,74.1 127.3,72.8 127.8,72 128.3,71.6 128.8,71.1 129.3,70.2 129.8,69.3 130.3,69.1 130.8,69.8 131.3,71.3 131.8,72.6 132.3,72.8 132.8,71.4 133.3,68.7 133.8,65.7 134.3,63.4 134.8,62.6 135.3,63.5 135.8,65.9 136.3,69.3 136.8,72.7 137.3,75 137.8,76 138.3,75.7 138.8,74.8 139.3,73.5 139.8,72.1 140.3,70.5 140.8,68.5 141.3,65.8 141.8,62.8 142.3,60.2 142.8,58.8 143.3,58.7 143.8,59.8 144.3,61.5 144.8,63.4 145.3,64.8 145.8,65.3 146.3,65.4 146.8,65.9 147.3,67.5 147.8,70.3 148.3,73.8 148.8,77.3 149.3,80.5 149.8,85.2 150.3,88.2 150.6,88.6 150.8,88.3 151.3,85.4 151.8,80.8 152.3,76.3 152.8,72.5 153.3,69.7 153.8,67.8 154.3,66.8 154.8,66.5 155.3,66.4 155.8,66.7 156.3,67.2 156.8,68.3 157.3,69.8 157.8,70.9 158.3,71 158.8,69.5 159.3,66.5 159.8,62.6 160.3,59.2 160.8,57.2 161.3,56.6 161.8,56.9 162.3,57.2 162.8,57.5 163.3,57.7 163.8,58.2 164.3,58.9 164.8,60 165.3,61.8 165.8,64.4 166.3,67.5 166.8,70.2 167.3,72.2 167.8,73.1 168.3,72.8 168.8,71.1 169.3,67.9 169.8,63.7 170.3,59.1 170.8,54.9" fill="none" stroke="#e6141e" stroke-width="1.15" stroke-linejoin="round" />
<polyline points="28.3,60.4 28.8,60.8 29.3,61.6 29.8,62.2 30.3,62.6 30.8,63.4 31.3,65.3 31.8,67.9 32.3,70.3 32.8,70.9 33.3,69.1 33.8,65.5 34.3,61.2 34.8,57.8 35.3,56 35.8,55.8 36.3,57.3 36.8,60.1 37.3,63.4 37.8,66 38.3,67.1 38.8,66.5 39.3,64.8 39.8,62.9 40.3,62 40.8,62.5 41.3,64.1 41.8,66.1 42.3,67 42.8,66.4 43.3,64.3 43.8,62 44.3,60.9 44.8,61.8 45.3,64.6 45.8,67.9 46.3,70.2 46.8,70.1 47.3,67.8 47.8,64 48.3,60.1 48.8,57.3 49.3,56.2 49.8,56.3 50.3,56.3 50.8,55.3 51.3,50.3 51.8,46.2 52.2,44.9 52.3,45 52.8,47 53.3,51.5 53.8,56.2 54.3,60.5 54.8,64.8 55.3,66.3 55.8,64.3 56.3,60.3 56.8,56.5 57.3,55 57.8,57.2 58.3,63.3 58.8,72.5 59.3,81.6 59.8,87.1 60.3,91 60.6,91.9 60.8,91.7 61.3,89 61.8,83.8 62.3,76.3 62.8,66.6 63.3,60.3 63.8,57.3 64.3,56.9 64.8,58.6 65.3,62 65.8,66.2 66.3,70.2 66.8,73 67.3,74.5 67.8,74.9 68.3,74.5 68.8,73.5 69.3,71.9 69.8,70.4 70.3,69.5 70.8,69.8 71.3,71.1 71.8,72.6 72.3,73 72.8,71.6 73.3,69 73.8,66.9 74.3,66.7 74.8,68.9 75.3,72.4 75.8,75.6 76.3,77.3 76.8,77.1 77.3,75.5 77.8,73.2 78.3,71.5 78.8,71.1 79.3,71.8 79.8,72.5 80.3,71.9 80.8,69.4 81.3,66 81.8,62.8 82.3,60.7 82.8,59.6 83.3,59.5 83.8,60.4 84.3,62.4 84.8,65.5 85.3,69.2 85.8,72.6 86.3,74.7 86.8,74.9 87.3,73.5 87.8,71.1 88.3,68.7 88.8,66.7 89.3,65.1 89.8,63.9 90.3,63.1 90.8,63.3 91.3,65.3 91.8,69 92.3,73.4 92.8,77.8 93.3,82.8 93.8,87.4 94.3,89.8 94.4,89.8 94.8,88.9 95.3,85.2 95.8,80.1 96.3,74 96.8,70.5 97.3,70.6 97.8,73.2 98.3,75.9 98.8,76.5 99.3,74.6 99.8,70.9 100.3,67.3 100.8,65.5 101.3,65.5 101.8,66.4 102.3,66.8 102.8,66.3 103.3,66 103.8,67.1 104.3,70.1 104.8,74 105.3,77.2 105.8,78.2 106.3,77.2 106.8,75 107.3,72.8 107.8,71.1 108.3,70.5 108.8,70.8 109.3,71.9 109.8,72.9 110.3,73 110.8,71.8 111.3,69.9 111.8,68.4 112.3,67.9 112.8,68.5 113.3,69.2 113.8,69.5 114.3,69.2 114.8,68.5 115.3,67.9 115.8,67.5 116.3,67.3 116.8,67.2 117.3,66.7 117.8,66 118.3,65.4 118.8,65.4 119.3,66.7 119.8,69.1 120.3,72.1 120.8,74.9 121.3,76.8 121.8,77.3 122.3,76.8 122.8,75.6 123.3,74 123.8,72 124.3,69.8 124.8,67.6 125.3,65.5 125.8,63.8 126.3,62.7 126.8,62.3 127.3,62.3 127.8,62.8 128.3,63.7 128.8,64.9 129.3,66.1 129.8,66.5 130.3,65.9 130.8,64.4 131.3,62.8 131.8,62.1 132.3,62.6 132.8,64.2 133.3,65.9 133.8,67 134.3,66.9 134.8,65.4 135.3,62.9 135.8,60.4 136.3,58.9 136.8,58.8 137.3,59.3 137.8,58.5 138.3,56.1 138.8,53.8 139.2,53.2 139.3,53.3 139.8,54.8 140.3,57.4 140.8,58.6 141.3,58.2 141.8,57.6 142.3,57.9 142.8,59 143.3,60.2 143.8,61.3 144.3,62.8 144.8,64.8 145.3,66.8 145.8,68.3 146.3,68.8 146.8,68.1 147.3,66.6 147.8,64.7 148.3,63 148.8,62.1 149.3,62.3 149.8,63.3 150.3,64.5 150.8,65.5 151.3,66.3 151.8,67.3 152.3,68.8 152.8,70.9 153.3,73.2 153.8,75.3 154.3,77 154.8,78.4 155.3,79.2 155.8,79.1 156.3,77.9 156.8,76.6 157.3,75.8 157.8,75.8 158.3,75.9 158.8,75 159.3,72.9 159.8,70.1 160.3,67.7 160.8,66.2 161.3,65.4 161.8,64.5 162.3,63.1 162.8,61.6 163.3,61 163.8,62 164.3,64.2 164.8,66.8 165.3,69 165.8,70.6 166.3,71.6 166.8,71.8 167.3,71.4 167.8,70.6 168.3,70.2 168.8,70.3 169.3,70.5 169.8,70.5 170.3,70 170.8,69" fill="none" stroke="#e6141e" stroke-width="1.15" stroke-linejoin="round" />
<polyline points="28.3,73.6 28.8,69.6 29.3,67 29.8,66 30.3,66.1 30.8,66.6 31.3,67 31.8,67.5 32.3,68 32.8,68.2 33.3,67.7 33.8,66.3 34.3,64.7 34.8,64.1 35.3,65.5 35.8,68.9 36.3,73.1 36.8,76.7 37.3,78.6 37.8,78.6 38.3,77.2 38.8,75.4 39.3,73.9 39.8,73.2 40.3,73 40.8,72.6 41.3,71.4 41.8,69.4 42.3,67.1 42.8,65.3 43.3,64.9 43.8,66.1 44.3,68 44.8,69.5 45.3,69.8 45.8,69 46.3,67.5 46.8,66.5 47.3,66.8 47.8,68.7 48.3,71.1 48.8,72.4 49.3,71.9 49.8,70.2 50.3,69 50.8,69.1 51.3,70.3 51.8,71.4 52.3,71.8 52.8,71.2 53.3,70.4 53.8,70.2 54.3,71.1 54.8,73 55.3,75.1 55.8,76.3 56.3,76 56.8,74.6 57.3,73 57.8,71.5 58.3,70.5 58.8,70 59.3,70.3 59.8,71.4 60.3,73 60.8,74.3 61.3,74.9 61.8,74.4 62.3,72.3 62.8,69.2 63.3,66 63.8,64.2 64.3,64.4 64.8,66.2 65.3,68 65.8,68.5 66.3,67.1 66.8,64.7 67.3,62.5 67.8,61.6 68.3,61.8 68.8,62.7 69.3,63.3 69.8,63.4 70.3,63.4 70.8,64.1 71.3,65.8 71.8,68.4 72.3,71.5 72.8,74.4 73.3,77 73.8,79.6 74.3,83.6 74.8,86.2 75,86.6 75.3,86.2 75.8,83.5 76.3,79.2 76.8,73.9 77.3,68.9 77.8,64.5 78.3,61 78.8,58.9 79.3,57.2 79.8,56 80.3,53.2 80.8,50.2 81.2,49.5 81.3,49.6 81.8,51.5 82.3,55.3 82.8,59.1 83.3,63.2 83.8,67.3 84.3,70.7 84.8,73.4 85.3,75.5 85.8,76.9 86.3,77.6 86.8,77.5 87.3,76.9 87.8,76.2 88.3,75.8 88.8,75.7 89.3,76.1 89.8,76.8 90.3,77.8 90.8,78.9 91.3,79.7 91.8,79.5 92.3,77.9 92.8,75.2 93.3,72.1 93.8,69 94.3,66.1 94.8,63.4 95.3,61.8 95.8,61.9 96.3,63.8 96.8,66.2 97.3,68 97.8,68.9 98.3,69 98.8,69 99.3,68.9 99.8,68.5 100.3,67.8 100.8,67.2 101.3,66.7 101.8,66.1 102.3,64.9 102.8,63 103.3,61.1 103.8,60.2 104.3,61 104.8,63.6 105.3,66.9 105.8,69.7 106.3,71.3 106.8,72 107.3,72.3 107.8,72.3 108.3,71.5 108.8,69.8 109.3,67.9 109.8,66.3 110.3,65.4 110.8,64.6 111.3,63.7 111.8,62.6 112.3,61.9 112.8,61.6 113.3,61.4 113.8,61.3 114.3,61.2 114.8,61.3 115.3,61.8 115.8,62.8 116.3,63.9 116.8,64.5 117.3,63.4 117.8,60.5 118.3,57 118.8,54.8 119.3,55.4 119.8,58.8 120.3,63.9 120.8,69.2 121.3,73.6 121.8,76.4 122.3,77.3 122.8,77.2 123.3,78.3 123.8,82 124.3,84.7 124.6,85.3 124.8,85.2 125.3,83.1 125.8,79.3 126.3,76.8 126.8,75.4 127.3,73.7 127.8,71.3 128.3,69 128.8,67.3 129.3,66.1 129.8,65.5 130.3,65.9 130.8,67 131.3,68.3 131.8,69.3 132.3,69.7 132.8,69.7 133.3,69.5 133.8,68.7 134.3,67.1 134.8,64.5 135.3,61.5 135.8,58.7 136.3,57 136.8,56.9 137.3,58.4 137.8,60.6 138.3,61.9 138.8,61 139.3,58.1 139.8,54.5 140.3,52.1 140.8,51.9 141.3,53.9 141.8,57.2 142.3,60.8 142.8,64.1 143.3,66.8 143.8,68.7 144.3,69.9 144.8,70.5 145.3,70.8 145.8,70.9 146.3,71 146.8,71.2 147.3,71.4 147.8,71.5 148.3,71.4 148.8,71.5 149.3,72.4 149.8,73.7 150.3,74.9 150.8,75 151.3,73.8 151.8,71.4 152.3,68.2 152.8,63.9 153.3,58.6 153.8,54.1 154.3,51.8 154.6,51.5 154.8,51.8 155.3,54 155.8,57.5 156.3,62 156.8,67 157.3,71.1 157.8,73 158.3,72.4 158.8,70.8 159.3,69.9 159.8,71.1 160.3,73.9 160.8,76.9 161.3,78.4 161.8,77.7 162.3,75.2 162.8,71.8 163.3,68.3 163.8,65.3 164.3,63.4 164.8,63.4 165.3,65.4 165.8,68.6 166.3,71.5 166.8,73.2 167.3,73.2 167.8,71.8 168.3,69.8 168.8,68 169.3,67.1 169.8,67.6 170.3,69.6 170.8,72.1" fill="none" stroke="#e6141e" stroke-width="1.15" stroke-linejoin="round" />
<polyline points="28.3,67.2 28.8,66.2 29.3,62.7 29.8,58.4 30.3,55.5 30.8,55.4 31.3,57.9 31.8,61.5 32.3,64.8 32.8,67 33.3,68.3 33.8,69.2 34.3,69.5 34.8,68.6 35.3,66.5 35.8,64.7 36,64.3 36.3,64.4 36.8,65.2 37.3,65.2 37.8,63.6 38.3,61.2 38.8,59.2 39.3,58.2 39.8,58.6 40.3,60.2 40.8,62.7 41.3,66 41.8,69.2 42.3,71.3 42.8,71.8 43.3,70.5 43.8,68.1 44.3,64.9 44.8,61.5 45.3,58.6 45.8,56.9 46.3,57.1 46.8,59.1 47.3,62 47.8,64.6 48.3,66 48.8,66.3 49.3,65.8 49.8,65 50.3,64.1 50.8,62.7 51.3,61.2 51.8,60.2 52.3,60.6 52.8,62.5 53.3,65.1 53.8,66.9 54.3,67.3 54.8,66.4 55.3,65.3 55.8,64.6 56.3,64.7 56.8,64.9 57.3,65.2 57.8,65.5 58.3,66.4 58.8,67.5 59.3,68 59.8,67.4 60.3,66.2 60.8,65.5 61.3,66.5 61.8,68.9 62.3,71.4 62.8,72.6 63.3,72.2 63.8,70.8 64.3,69.5 64.8,69 65.3,69.5 65.8,70.6 66.3,72.4 66.8,74.2 67.3,75.5 67.8,75.5 68.3,74.1 68.8,71.9 69.3,69.2 69.8,66.6 70.3,64.2 70.8,62.3 71.3,61.7 71.8,62.5 72.3,64.4 72.8,66.6 73.3,68.1 73.8,68.9 74.3,69.9 74.8,71.3 75.3,73.1 75.8,74.2 76.3,73.8 76.8,71.7 77.3,69.1 77.8,67.4 78.3,67.1 78.8,67.7 79.3,68.2 79.8,67.6 80.3,66.1 80.8,64.6 81.3,63.9 81.8,64.2 82.3,64.8 82.8,65.1 83.3,64.7 83.8,64.1 84.3,63.7 84.8,63.5 85.3,63.2 85.8,62.7 86.3,62.5 86.8,63.4 87.3,65.6 87.8,68.6 88.3,71.2 88.8,72.8 89.3,73.2 89.8,71.8 90.3,67.9 90.8,62.2 91.3,56.9 91.8,54.6 92,54.4 92.3,54.8 92.8,56.7 93.3,58.8 93.8,60.4 94.3,61.3 94.8,61.8 95.3,62.6 95.8,64.4 96.3,67.2 96.8,69.6 97.3,70.4 97.8,69.4 98.3,67.2 98.8,64.9 99.3,63.2 99.8,62.6 100.3,63 100.8,63.8 101.3,64.4 101.8,64.9 102.3,65.3 102.8,66.1 103.3,67.3 103.8,68.6 104.3,69.7 104.8,69.6 105.3,67.9 105.8,64.9 106.3,61.9 106.8,60.4 107.3,61 107.8,63.2 108.3,65.5 108.8,66.8 109.3,66.6 109.8,65.5 110.3,64.4 110.8,64.2 111.3,65.5 111.8,67.9 112.3,70.7 112.8,73.2 113.3,74.4 113.8,74.1 114.3,72.5 114.8,70.7 115.3,69.6 115.8,69.7 116.3,71 116.8,72.8 117.3,74.5 117.8,75.4 118.3,75.7 118.8,75.9 119.3,76.5 119.8,77.3 120.3,77.4 120.8,75.8 121.3,72.3 121.8,67.5 122.3,63.2 122.8,60.8 123.3,61 123.8,63.6 124.3,67.4 124.8,70.7 125.3,72.3 125.8,71.9 126.3,70.2 126.8,68.2 127.3,66.5 127.8,65.3 128.3,64.8 128.8,65.1 129.3,66.3 129.8,68 130.3,69.9 130.8,71.4 131.3,73 131.8,75.3 132.3,78.1 132.8,80.2 133,80.4 133.3,80.1 133.8,78 134.3,75 134.8,71.9 135.3,68.2 135.8,63.8 136.3,59.8 136.8,57.5 137.3,57.1 137.8,58.2 138.3,60 138.8,61.9 139.3,63.4 139.8,64 140.3,64 140.8,63.5 141.3,62.8 141.8,61.4 142.3,59.1 142.8,57 143.3,55.9 143.8,55.4 144.3,54.8 144.3,54.8 144.8,55.7 145.3,58.2 145.8,61.5 146.3,63.6 146.8,64.7 147.3,65.9 147.8,68.1 148.3,71.1 148.8,74.1 149.3,76 149.8,76.2 150.3,74.5 150.8,71.5 151.3,67.6 151.8,63.6 152.3,60.2 152.8,58.4 153.3,58.8 153.8,60.7 154.3,62.7 154.8,63.2 155.3,61.4 155.8,58 156.3,54.7 156.8,53.1 157.3,54.2 157.8,57.9 158.3,63.2 158.8,68.2 159.3,71.3 159.8,71.5 160.3,69 160.8,64.9 161.3,60.4 161.8,57.2 162.3,56 162.8,56.9 163.3,59 163.8,61.2 164.3,62.8 164.8,63.1 165.3,62.1 165.8,60.5 166.3,59.2 166.8,59.2 167.3,61 167.8,63.8 168.3,66.3 168.8,67.6 169.3,67.4 169.8,66 170.3,64.5 170.8,63.6" fill="none" stroke="#e6141e" stroke-width="1.15" stroke-linejoin="round" />
<polyline points="28.3,63.2 28.8,61.9 29.3,59.9 29.8,58.4 30.3,58.1 30.8,59.3 31.3,61.3 31.8,63.3 32.3,64.8 32.8,65.7 33.3,66.7 33.8,68.1 34.3,70.1 34.8,71.9 35.3,72.8 35.8,72.6 36.3,71.8 36.8,70.7 37.3,69.5 37.8,68 38.3,66.6 38.8,65.8 39.3,65.9 39.8,66.8 40.3,67.8 40.8,68.7 41.3,69.7 41.8,71.5 42.3,74.5 42.8,77.8 43.3,79.7 43.8,78.9 44.3,75.6 44.8,71.4 45.3,67.7 45.8,65.6 46.3,65 46.8,65.6 47.3,67.1 47.8,68.9 48.3,70.6 48.8,71.3 49.3,71 49.8,70.3 50.3,69.7 50.8,69.6 51.3,70.1 51.8,71.1 52.3,73.3 52.8,76.8 53.3,80.8 53.8,83.9 54.3,84.8 54.8,83.3 55.3,80 55.8,76.2 56.3,72.9 56.8,70.8 57.3,69.9 57.8,70.3 58.3,71.9 58.8,74.5 59.3,77.2 59.8,79.1 60.3,79.7 60.8,79.2 61.3,78.3 61.8,77.4 62.3,76.4 62.8,75 63.3,73.3 63.8,72.2 64.3,72.1 64.8,72.7 65.3,73.3 65.8,72.9 66.3,71.3 66.8,69 67.3,66.5 67.8,64.9 68.3,64.4 68.8,65.3 69.3,67.1 69.8,69.1 70.3,70.4 70.8,70.3 71.3,69 71.8,67.1 72.3,65.4 72.8,64.4 73.3,64.5 73.8,65.4 74.3,66.6 74.8,67.6 75.3,68.5 75.8,69.6 76.3,71.3 76.8,73.4 77.3,75.1 77.8,75.9 78.3,75.7 78.8,75.2 79.3,75 79.8,75.2 80.3,75.4 80.8,75.1 81.3,74.2 81.8,73.1 82.3,72.6 82.8,73 83.3,74.1 83.8,75.1 84.3,75.2 84.8,74 85.3,71.9 85.8,69.3 86.3,66.9 86.8,65.1 87.3,63.9 87.8,63.3 88.3,63.4 88.8,64.2 89.3,65.2 89.8,65.9 90.3,65.9 90.8,65.4 91.3,64.8 91.8,64.9 92.3,66.1 92.8,67.8 93.3,69.1 93.8,69.3 94.3,68.6 94.8,67.7 95.3,66.9 95.8,66.3 96.3,65.3 96.8,63.6 97.3,61.6 97.8,59.9 98.3,59.6 98.8,60.9 99.3,63.2 99.8,65.4 100.3,66.9 100.8,67.8 101.3,68.2 101.8,68.2 102.3,67.6 102.8,66.9 103.3,66.9 103.8,68.3 104.3,71.2 104.8,74.5 105.3,76.9 105.8,77.1 106.3,75.6 106.8,73.6 107.3,72.4 107.8,72.7 108.3,74.4 108.8,76.3 109.3,77.3 109.8,76.5 110.3,74 110.8,70.6 111.3,67.3 111.8,65.2 112.3,64.6 112.8,65.3 113.3,66.3 113.8,66.7 114.3,66 114.8,64.4 115.3,62.5 115.8,61.3 116.3,61.1 116.8,62.1 117.3,64 117.8,66 118.3,67.7 118.8,68.5 119.3,68.5 119.8,68.2 120.3,68.2 120.8,69.2 121.3,71.4 121.8,74.3 122.3,77.4 122.8,79.6 123.3,80.3 123.8,79 124.3,75.8 124.8,71.2 125.3,66.4 125.8,62.5 126.3,60.4 126.8,60.1 127.3,61.2 127.8,62.7 128.3,63.9 128.8,64.1 129.3,63.5 129.8,62.4 130.3,61.9 130.8,62.4 131.3,64.3 131.8,67.1 132.3,69.9 132.8,71.7 133.3,72 133.8,70.9 134.3,69.4 134.8,68.4 135.3,68.6 135.8,69.7 136.3,70.9 136.8,71.6 137.3,71.8 137.8,71.9 138.3,72 138.8,71.7 139.3,70.7 139.8,69.2 140.3,68 140.8,67.6 141.3,67.9 141.8,68.2 142.3,68.2 142.8,67.9 143.3,67.9 143.8,68.8 144.3,70.5 144.8,72.7 145.3,74.4 145.8,75.4 146.3,75.6 146.8,75.1 147.3,73.6 147.8,71 148.3,67.9 148.8,65.4 149.3,64.7 149.8,65.5 150.3,66.8 150.8,67.2 151.3,66.3 151.8,64.5 152.3,62.5 152.8,60.8 153.3,59.9 153.8,60 154.3,60.6 154.8,61 155.3,60.9 155.8,60.6 156.3,60.6 156.8,61.5 157.3,62.9 157.8,63.8 158.3,63.6 158.8,62.3 159.3,60.7 159.8,59.6 160.3,59.6 160.8,60.5 161.3,61.8 161.8,63.1 162.3,64.4 162.8,66.2 163.3,68.7 163.8,71.6 164.3,74.3 164.8,76 165.3,76.6 165.8,76.4 166.3,76 166.8,75.6 167.3,74.8 167.8,72.9 168.3,69.7 168.8,66.2 169.3,63.8 169.8,63.7 170.3,65.7 170.8,68.5" fill="none" stroke="#e6141e" stroke-width="1.15" stroke-linejoin="round" />
<polyline points="28.3,67.9 28.8,66 29.3,64.3 29.8,62.8 30.3,62 30.8,62.5 31.3,64.8 31.8,68.8 32.3,73.3 32.8,76.7 33.3,77.8 33.8,76.8 34.3,74.9 34.8,73.7 35.3,73.5 35.8,73.9 36.3,73.5 36.8,71.8 37.3,69.2 37.8,66.3 38.3,63.9 38.8,62.9 39.3,63.7 39.8,66.5 40.3,70.2 40.8,73.2 41.3,74.4 41.8,73.7 42.3,71.9 42.8,69.9 43.3,67.8 43.8,66 44.3,64.7 44.8,64.2 45.3,64.2 45.8,64 46.3,62.8 46.8,60.9 47.3,59.2 47.8,58.8 48.3,60.3 48.8,63.8 49.3,68.2 49.8,72 50.3,74 50.8,73.8 51.3,72.3 51.8,70.4 52.3,69.3 52.8,69.2 53.3,69.9 53.8,70.6 54.3,70.5 54.8,69.2 55.3,67.1 55.8,64.8 56.3,63.5 56.8,63.9 57.3,66.5 57.8,70.4 58.3,74.3 58.8,77 59.3,78.1 59.8,78.3 60.3,78.7 60.8,79.7 61.3,80.7 61.8,80.7 62.3,79.3 62.8,77.2 63.3,75.2 63.8,73.8 64.3,72.9 64.8,72.3 65.3,71.7 65.8,70.8 66.3,69.1 66.8,66.7 67.3,64.3 67.8,62.7 68.3,62.2 68.8,62.7 69.3,63.7 69.8,64.6 70.3,65.5 70.8,66 71.3,65.9 71.8,65 72.3,63.7 72.8,62.7 73.3,62.7 73.8,63.6 74.3,65 74.8,66.2 75.3,67.1 75.8,67.7 76.3,68.1 76.8,68.6 77.3,69.5 77.8,71.2 78.3,73.4 78.8,75.6 79.3,77.3 79.8,78.1 80.3,78.3 80.8,77.8 81.3,76.6 81.8,75 82.3,73.3 82.8,72.5 83.3,72.8 83.8,73.7 84.3,74 84.8,72.7 85.3,69.9 85.8,67.1 86.3,65.3 86.8,65 87.3,65.4 87.8,65.8 88.3,65.6 88.8,65.2 89.3,65 89.8,65.4 90.3,65.9 90.8,65.4 91.3,63.1 91.8,59.2 92.3,55.4 92.8,53.9 93.3,55.8 93.8,60.4 94.3,65.8 94.8,70.2 95.3,72.6 95.8,72.8 96.3,71.3 96.8,69.1 97.3,67.9 97.8,68.5 98.3,70.8 98.8,73.4 99.3,74.7 99.8,73.9 100.3,71.6 100.8,69.2 101.3,68 101.8,68.1 102.3,68.8 102.8,69 103.3,67.9 103.8,65.8 104.3,63.4 104.8,61.9 105.3,61.2 105.8,61.4 106.3,62.2 106.8,63.6 107.3,65.2 107.8,66.2 108.3,66.2 108.8,65.4 109.3,63.9 109.8,62.3 110.3,60.8 110.8,60.2 111.3,60.6 111.8,61.9 112.3,63.6 112.8,65.7 113.3,68.4 113.8,71.8 114.3,75.5 114.8,78.9 115.3,81.3 115.8,82.2 116.3,81.3 116.8,78.9 117.3,75.7 117.8,72.9 118.3,71.7 118.8,72.4 119.3,74.2 119.8,76.1 120.3,76.5 120.8,75 121.3,72.3 121.8,69.9 122.3,69.1 122.8,70.1 123.3,71.9 123.8,73.8 124.3,75.4 124.8,76.7 125.3,77.5 125.8,77.4 126.3,76.4 126.8,75.3 127.3,74.9 127.8,75.3 128.3,76 128.8,76.8 129.3,77.6 129.8,78.7 130.3,79.6 130.8,79.4 131.3,77.9 131.8,75.7 132.3,73.7 132.8,72.3 133.3,71.4 133.8,70.5 134.3,69.1 134.8,67.4 135.3,65.5 135.8,64.1 136.3,63.9 136.8,65.2 137.3,67.8 137.8,70.8 138.3,73.2 138.8,74.4 139.3,74.1 139.8,72.6 140.3,70.4 140.8,68 141.3,65.9 141.8,64.2 142.3,63.1 142.8,62.7 143.3,63 143.8,63.4 144.3,63.4 144.8,63.3 145.3,63.6 145.8,64.9 146.3,67 146.8,68.5 147.3,68.6 147.8,67.4 148.3,65.8 148.8,64.9 149.3,65.1 149.8,66.2 150.3,67.6 150.8,68.9 151.3,69.6 151.8,69.5 152.3,68.7 152.8,67.4 153.3,65.7 153.8,63.5 154.3,61.1 154.8,58.9 155.3,57.5 155.8,57.3 156.3,58.2 156.8,59.9 157.3,61.5 157.8,62.4 158.3,62.8 158.8,63.3 159.3,64.5 159.8,66.2 160.3,67.4 160.8,67.1 161.3,65.3 161.8,62.5 162.3,59.7 162.8,57.7 163.3,56.6 163.8,56.6 164.3,57.5 164.8,59.5 165.3,62.2 165.8,64.9 166.3,66.5 166.8,66.6 167.3,66.1 167.8,66.1 168.3,67.6 168.8,70 169.3,71.9 169.8,72.3 170.3,71.1 170.8,69.3" fill="none" stroke="#e6141e" stroke-width="1.15" stroke-linejoin="round" />
<polyline points="28.3,62.3 28.8,61.3 29.3,61.4 29.8,62.3 30.3,63.2 30.8,63.2 31.3,62.2 31.8,61 32.3,60.3 32.8,60.5 33.3,61.2 33.8,61.9 34.3,62.6 34.8,63 35.3,63.1 35.8,62.8 36.3,62.5 36.8,62.7 37.3,63.6 37.8,65.5 38.3,68.4 38.8,71.9 39.3,74.8 39.8,75.7 40.3,74.3 40.8,71.2 41.3,67.8 41.8,65.1 42.3,63.4 42.8,62.5 43.3,62.1 43.8,62 44.3,62.2 44.8,63.1 45.3,64.7 45.8,66.7 46.3,68.3 46.8,68.8 47.3,67.9 47.8,66.3 48.3,64.6 48.8,63.5 49.3,62.9 49.8,62.9 50.3,63.4 50.8,64.3 51.3,65.7 51.8,67.4 52.3,69.2 52.8,70.7 53.3,71.7 53.8,71.7 54.3,70.9 54.8,69.7 55.3,68.6 55.8,68.1 56.3,68 56.8,68.1 57.3,68.2 57.8,68.3 58.3,68.5 58.8,69 59.3,69.9 59.8,71 60.3,71.8 60.8,71.9 61.3,71.5 61.8,71.2 62.3,71.7 62.8,72.8 63.3,74.4 63.8,75.6 64.3,75.7 64.8,74.3 65.3,71.9 65.8,69.4 66.3,68 66.8,68.4 67.3,70.4 67.8,73.1 68.3,75 68.8,75.4 69.3,74.5 69.8,73.2 70.3,72 70.8,70.6 71.3,68.8 71.8,66.9 72.3,65.9 72.8,66.3 73.3,67.6 73.8,68.8 74.3,68.8 74.8,67.5 75.3,65.6 75.8,64.1 76.3,63.5 76.8,63.9 77.3,64.8 77.8,65.3 78.3,65 78.8,63.9 79.3,62.5 79.8,61.6 80.3,61.4 80.8,61.9 81.3,62.6 81.8,63.6 82.3,64.6 82.8,65.8 83.3,67 83.8,68.2 84.3,69.2 84.8,69.9 85.3,70.3 85.8,70.1 86.3,69.2 86.8,67.7 87.3,66.2 87.8,65.1 88.3,64.9 88.8,65.3 89.3,65.7 89.8,65.4 90.3,64.3 90.8,63.2 91.3,62.7 91.8,63.3 92.3,64.7 92.8,66.3 93.3,67.3 93.8,67.5 94.3,67.1 94.8,66.6 95.3,66.8 95.8,67.9 96.3,69.8 96.8,72 97.3,73.9 97.8,74.8 98.3,74.8 98.8,73.9 99.3,72.8 99.8,71.8 100.3,71.1 100.8,71 101.3,71.1 101.8,71.2 102.3,70.7 102.8,69.7 103.3,68.7 103.8,67.9 104.3,67.3 104.8,66.5 105.3,65 105.8,63.2 106.3,61.3 106.8,60.1 107.3,59.5 107.8,59.4 108.3,59.5 108.8,59.7 109.3,60.2 109.8,61 110.3,61.7 110.8,61.9 111.3,61.4 111.8,60.6 112.3,59.9 112.8,59.7 113.3,59.7 113.8,59.3 114.3,58.5 114.8,57.9 115.3,58.2 115.8,59.8 116.3,62.7 116.8,65.6 117.3,67.6 117.8,67.8 118.3,66.9 118.8,66 119.3,65.7 119.8,66.2 120.3,66.9 120.8,67.6 121.3,68.3 121.8,69 122.3,69.3 122.8,69.2 123.3,68.9 123.8,68.8 124.3,69.4 124.8,70.2 125.3,70.5 125.8,69.5 126.3,67.3 126.8,64.6 127.3,62.2 127.8,60.9 128.3,60.8 128.8,61.2 129.3,61.4 129.8,60.9 130.3,60.2 130.8,60.3 131.3,61.7 131.8,64.3 132.3,67.4 132.8,70 133.3,71.5 133.8,71.8 134.3,71.3 134.8,70.8 135.3,70.8 135.8,71.4 136.3,72.4 136.8,73.3 137.3,73.9 137.8,74 138.3,73.3 138.8,71.8 139.3,70 139.8,68.4 140.3,67.7 140.8,67.7 141.3,67.9 141.8,67.4 142.3,66.1 142.8,63.9 143.3,61.7 143.8,60.1 144.3,59.7 144.8,60.8 145.3,62.8 145.8,64.9 146.3,66.5 146.8,67 147.3,66.9 147.8,66.6 148.3,66.7 148.8,67.1 149.3,67.9 149.8,68.7 150.3,69.7 150.8,70.9 151.3,72.4 151.8,74.2 152.3,76 152.8,77.6 153.3,78.3 153.8,77.7 154.3,75.8 154.8,73.1 155.3,70.1 155.8,66.8 156.3,63.5 156.8,60.9 157.3,59.9 157.8,60.6 158.3,62.6 158.8,65 159.3,67.4 159.8,69.9 160.3,72.8 160.8,75.9 161.3,78.7 161.8,80.6 162.3,81.1 162.8,80.4 163.3,78.9 163.8,76.9 164.3,75.1 164.8,73.8 165.3,72.9 165.8,72.1 166.3,70.8 166.8,69 167.3,66.5 167.8,63.8 168.3,61.3 168.8,59.2 169.3,57.8 169.8,57.4 170.3,58.2 170.8,60" fill="none" stroke="#e6141e" stroke-width="1.15" stroke-linejoin="round" />
<line x1="28.3" y1="67.6" x2="109.1" y2="67.6" stroke="#5a06a6" stroke-width="2.8"/>
<polyline points="109.1,64.8 109.4,65.8 109.8,64.1 110.1,64.5 110.4,66.2 110.8,66 111.1,67.9 111.4,70.4 111.8,70.6 112.1,70.8 112.5,66.7 112.8,65.6 113.1,63.1 113.5,68.2 113.8,82.8 114.1,76.1 114.5,78.1 114.8,76.2 115.1,80.4 115.5,87.5 115.8,97.1 116.1,105 116.5,107.9 116.8,103.7 117.2,93 117.5,78.1 117.8,61.8 118.2,47.8 118.5,38.1 118.8,34.5 119.2,37 119.5,43.6 119.8,51.9 120.2,60.6 120.5,65.5 120.8,68.6 121.2,71.7 121.5,67.6 121.9,70.9 122.2,75.1 122.5,73.5 122.9,69.2 123.2,64.1 123.5,64.9 123.9,68.2 124.2,67.5 124.5,63.8 124.9,59.8 125.2,66.4 125.5,65.5 125.9,65.4 126.2,70.1 126.6,68 126.9,67.4 127.2,68.4 127.6,64.4 127.9,60.9 128.2,61.7 128.6,66.2 128.9,63.6" fill="none" stroke="#1a7a1a" stroke-width="1.0" stroke-linejoin="round" />
<polyline points="109.1,67.4 109.4,66.3 109.8,67.8 110.1,68 110.4,66.3 110.8,64.9 111.1,65.7 111.4,65.9 111.8,67.6 112.1,70.4 112.5,71.9 112.8,68.4 113.1,68.8 113.5,66.5 113.8,60 114.1,57.8 114.5,56.6 114.8,53.6 115.1,48.8 115.5,47 115.8,48.2 116.1,52.2 116.5,54.5 116.8,57.8 117.2,68.1 117.5,73.4 117.8,70.2 118.2,67.2 118.5,63.4 118.8,77.4 119.2,82.1 119.5,78.7 119.8,81 120.2,85.4 120.5,88 120.8,87.6 121.2,84.4 121.5,81.6 121.9,79.3 122.2,71.9 122.5,66.3 122.9,66.4 123.2,63.2 123.5,63.5 123.9,60.7 124.2,65.6 124.5,72.5 124.9,74.2 125.2,77.6 125.5,76.7 125.9,67.8 126.2,60.8 126.6,58.2 126.9,65.3 127.2,70.1 127.6,71.1 127.9,64.6 128.2,65.4 128.6,68.4 128.9,64.9" fill="none" stroke="#1a7a1a" stroke-width="1.0" stroke-linejoin="round" />
<polyline points="109.1,68.2 109.4,67 109.8,67 110.1,66.7 110.4,67.1 110.8,66.8 111.1,72.4 111.4,72.1 111.8,69 112.1,71.7 112.5,68.6 112.8,72.1 113.1,71 113.5,73.2 113.8,71.3 114.1,67.8 114.5,68.4 114.8,65.7 115.1,57 115.5,65.3 115.8,70.7 116.1,62.9 116.5,59.1 116.8,56.2 117.2,57.5 117.5,66.9 117.8,61.5 118.2,59.6 118.5,65.1 118.8,72 119.2,83.9 119.5,73.1 119.8,63 120.2,74.7 120.5,73.1 120.8,66 121.2,61.1 121.5,61.2 121.9,72 122.2,68.7 122.5,66.2 122.9,71.4 123.2,66.8 123.5,58.6 123.9,59.3 124.2,67.2 124.5,77 124.9,71.2 125.2,66.9 125.5,68.2 125.9,64 126.2,56.1 126.6,65.5 126.9,71.1 127.2,68.5 127.6,69 127.9,69.3 128.2,67.3 128.6,64.5 128.9,67.3" fill="none" stroke="#1a7a1a" stroke-width="1.0" stroke-linejoin="round" />
<polyline points="109.1,66.5 109.4,69.4 109.8,69.9 110.1,68.6 110.4,67.3 110.8,65.5 111.1,65.2 111.4,68 111.8,69.2 112.1,66.8 112.5,62.7 112.8,63.7 113.1,73 113.5,76 113.8,57.5 114.1,57.2 114.5,63.2 114.8,66.2 115.1,72 115.5,75.2 115.8,72.2 116.1,71.1 116.5,74.8 116.8,78 117.2,71.4 117.5,66.1 117.8,69.5 118.2,72.8 118.5,80.1 118.8,73.5 119.2,71.7 119.5,78.6 119.8,79.4 120.2,70.6 120.5,70.6 120.8,67.2 121.2,67.8 121.5,65.7 121.9,70.4 122.2,74.6 122.5,70.8 122.9,68.3 123.2,66 123.5,69.1 123.9,68.5 124.2,62.7 124.5,60.1 124.9,60.9 125.2,61.2 125.5,62.8 125.9,62.2 126.2,62 126.6,64.4 126.9,66.3 127.2,63.2 127.6,57.1 127.9,64.2 128.2,69 128.6,69.5 128.9,68" fill="none" stroke="#1a7a1a" stroke-width="1.0" stroke-linejoin="round" />
<polyline points="109.1,67 109.4,68.1 109.8,64.7 110.1,65.6 110.4,67 110.8,65.3 111.1,65.5 111.4,65.1 111.8,67.2 112.1,70.1 112.5,64.5 112.8,67 113.1,74.7 113.5,72.4 113.8,64.3 114.1,67.7 114.5,66.6 114.8,63.4 115.1,68.7 115.5,75.1 115.8,64.9 116.1,58.5 116.5,56.6 116.8,54.8 117.2,59.8 117.5,58.4 117.8,56.6 118.2,61.8 118.5,53.5 118.8,51.3 119.2,54.7 119.5,52.6 119.8,60.1 120.2,68.4 120.5,61.7 120.8,62.3 121.2,63.8 121.5,62.7 121.9,60.4 122.2,64 122.5,68.9 122.9,65.4 123.2,64.8 123.5,70.4 123.9,71.3 124.2,71 124.5,70.3 124.9,65.3 125.2,59.4 125.5,55.4 125.9,57.3 126.2,59 126.6,58.6 126.9,60.2 127.2,65.9 127.6,64.5 127.9,65.3 128.2,68.4 128.6,70.7 128.9,71.1" fill="none" stroke="#1a7a1a" stroke-width="1.0" stroke-linejoin="round" />
<polyline points="109.1,69.8 109.4,67.9 109.8,66.7 110.1,67.4 110.4,69.4 110.8,69.7 111.1,71 111.4,67.7 111.8,70.3 112.1,70.6 112.5,70.9 112.8,73.1 113.1,77.7 113.5,76 113.8,60.7 114.1,61.8 114.5,60.9 114.8,55 115.1,62.4 115.5,64 115.8,63.6 116.1,59.4 116.5,61.4 116.8,64.9 117.2,67.4 117.5,64 117.8,64.4 118.2,76.9 118.5,73 118.8,70.9 119.2,73.8 119.5,77.7 119.8,68.9 120.2,71.3 120.5,71.4 120.8,74.1 121.2,78.9 121.5,77.1 121.9,77.2 122.2,74.5 122.5,70.2 122.9,67.8 123.2,67.2 123.5,64.6 123.9,58.1 124.2,64.2 124.5,72.6 124.9,72.7 125.2,71.4 125.5,70.1 125.9,71.3 126.2,69.4 126.6,61.8 126.9,65.3 127.2,69 127.6,69.1 127.9,66.5 128.2,61.1 128.6,61.8 128.9,66.5" fill="none" stroke="#1a7a1a" stroke-width="1.0" stroke-linejoin="round" />
<polyline points="109.1,67.5 109.4,70.2 109.8,69 110.1,66.4 110.4,64.1 110.8,65.5 111.1,66.2 111.4,64 111.8,66.2 112.1,67.3 112.5,68.9 112.8,72.6 113.1,63.9 113.5,63.5 113.8,70 114.1,73.5 114.5,65.4 114.8,60.2 115.1,70 115.5,73.6 115.8,70.4 116.1,80 116.5,83.9 116.8,75.7 117.2,72.7 117.5,71.2 117.8,70.2 118.2,66.8 118.5,68.9 118.8,71.8 119.2,69.5 119.5,62.4 119.8,58.4 120.2,58.7 120.5,68 120.8,86.4 121.2,80.1 121.5,70.9 121.9,69.2 122.2,71.5 122.5,63.2 122.9,64.8 123.2,69 123.5,68 123.9,69.5 124.2,70.1 124.5,67 124.9,70.5 125.2,74.7 125.5,72.2 125.9,70.2 126.2,70.1 126.6,65 126.9,67.2 127.2,60.1 127.6,62.2 127.9,69.3 128.2,66.2 128.6,62.4 128.9,67.9" fill="none" stroke="#1a7a1a" stroke-width="1.0" stroke-linejoin="round" />
<polyline points="109.1,69.3 109.4,69.5 109.8,68 110.1,66.6 110.4,65 110.8,64.9 111.1,65.8 111.4,66.1 111.8,66.1 112.1,64.2 112.5,63.6 112.8,77.5 113.1,72.2 113.5,63.1 113.8,61.6 114.1,70.1 114.5,65.1 114.8,62 115.1,71.8 115.5,80.2 115.8,75.8 116.1,73.7 116.5,67.2 116.8,66.7 117.2,57.5 117.5,63.9 117.8,72.4 118.2,74 118.5,73.6 118.8,63.6 119.2,57.3 119.5,62.8 119.8,63.5 120.2,69.6 120.5,62 120.8,55.1 121.2,67.4 121.5,59.7 121.9,63 122.2,75.8 122.5,77.9 122.9,72.3 123.2,65 123.5,67.6 123.9,67.2 124.2,63.9 124.5,65 124.9,66.2 125.2,66.3 125.5,63.6 125.9,66 126.2,61.3 126.6,67.1 126.9,69.9 127.2,64.8 127.6,67.2 127.9,74.8 128.2,71.4 128.6,74.1 128.9,71.7" fill="none" stroke="#1a7a1a" stroke-width="1.0" stroke-linejoin="round" />
<polyline points="128.9,66.2 129.2,66.7 129.6,67.9 129.9,69.9 130.2,73.4 130.6,75.1 130.9,73.4 131.3,72.6 131.6,72.1 131.9,70.2 132.3,68.4 132.6,68.2 132.9,68.2 133.3,69.5 133.6,71.5 133.9,70.7 134.3,66.9 134.6,63.6 134.9,61.2 135.3,60.5 135.6,62.4 135.9,64.7 136.3,65.9 136.6,66.8 136.9,67.5 137.3,66.5 137.6,65.7 138,67.4 138.3,67 138.6,65.7 139,66.7 139.3,68.5 139.6,69 140,69.4 140.3,69.6 140.6,68.8 141,68.2 141.3,67.6 141.6,67.1 142,67.5 142.3,67.3 142.6,66.8 143,66 143.3,65.9 143.7,67.3 144,69.5 144.3,70.4 144.7,69.1 145,66.1 145.3,63.5 145.7,63.7 146,66.3 146.3,69.6 146.7,73.4 147,75 147.3,73.5 147.7,72.7 148,73.4 148.3,72.3 148.7,69.9 149,69.6 149.3,67.8 149.7,63.8 150,63.7 150.4,65.4 150.7,65.8 151,65.7 151.4,66.4 151.7,69.8 152,71.3 152.4,69.7 152.7,67.5 153,67 153.4,69.2 153.7,69.3 154,66.4 154.4,63.7 154.7,62.3 155,61.3 155.4,61.4 155.7,63.8 156.1,64.9 156.4,65.1 156.7,66.6 157.1,68.2 157.4,69.4 157.7,70.5 158.1,71.4 158.4,71.7 158.7,71.1 159.1,69.6 159.4,66.7 159.7,61.7 160.1,59.7 160.4,63.1 160.7,68.4 161.1,71.8 161.4,73.6 161.8,76.7 162.1,79.9 162.4,80.6 162.8,78.7 163.1,76.8 163.4,75.5 163.8,74.4 164.1,71.4 164.4,68.4 164.8,67.8 165.1,67 165.4,65.4 165.8,65 166.1,66.9 166.4,69.3 166.8,68.2 167.1,68.1 167.4,70.7 167.8,70.6 168.1,68.8 168.5,69 168.8,68.5 169.1,66.9 169.5,66.5 169.8,67 170.1,67.2 170.5,65.5 170.8,64.5" fill="none" stroke="#1010ee" stroke-width="1.0" stroke-linejoin="round" />
<polyline points="128.9,64.3 129.2,65.6 129.6,70.9 129.9,71.6 130.2,68.1 130.6,67.1 130.9,67.7 131.3,68.4 131.6,70.6 131.9,71.5 132.3,69.6 132.6,70.1 132.9,72.3 133.3,72 133.6,69.8 133.9,68.1 134.3,66.4 134.6,65.2 134.9,65.2 135.3,68 135.6,72.3 135.9,74.4 136.3,70.7 136.6,63.1 136.9,60.7 137.3,66.3 137.6,69.4 138,67.5 138.3,66.6 138.6,68.2 139,70.2 139.3,71.1 139.6,68 140,63 140.3,61.6 140.6,64.3 141,65.7 141.3,64 141.6,62.8 142,64.5 142.3,66.4 142.6,65.6 143,65.7 143.3,68.8 143.7,69.9 144,66.9 144.3,64 144.7,63.6 145,66 145.3,69 145.7,70.9 146,72.2 146.3,72.1 146.7,70.6 147,68 147.3,67 147.7,68.5 148,68.7 148.3,66.2 148.7,63.6 149,64.1 149.3,65.3 149.7,65.1 150,65.4 150.4,64.6 150.7,61.5 151,59.2 151.4,58.2 151.7,59.2 152,62.2 152.4,66 152.7,67.7 153,66.1 153.4,64.7 153.7,64.9 154,67.1 154.4,69.5 154.7,68.7 155,64.8 155.4,62.9 155.7,63.8 156.1,63.5 156.4,64 156.7,67.3 157.1,69.6 157.4,68.4 157.7,65.5 158.1,66 158.4,69.7 158.7,71.4 159.1,68.5 159.4,65.7 159.7,66.4 160.1,67.3 160.4,67.7 160.7,68.7 161.1,67.7 161.4,67.1 161.8,69 162.1,69.4 162.4,67.9 162.8,67.2 163.1,66.9 163.4,66.6 163.8,67.6 164.1,69.4 164.4,68.4 164.8,64.4 165.1,60.9 165.4,60.7 165.8,61.2 166.1,58.3 166.4,55.2 166.8,53.5 167.1,51.2 167.4,49.6 167.8,52.2 168.1,58.1 168.5,61.9 168.8,63.9 169.1,63.9 169.5,62.7 169.8,64.3 170.1,67.8 170.5,68.8 170.8,68.8" fill="none" stroke="#1010ee" stroke-width="1.0" stroke-linejoin="round" />
<polyline points="128.9,67.8 129.2,67.3 129.6,67.2 129.9,67.6 130.2,69.9 130.6,72.2 130.9,71.2 131.3,69.8 131.6,68.8 131.9,67.4 132.3,66.2 132.6,64.4 132.9,63.9 133.3,66.9 133.6,69.9 133.9,69 134.3,66.7 134.6,67.2 134.9,68.2 135.3,67 135.6,65.3 135.9,64.7 136.3,65.8 136.6,67.7 136.9,68.4 137.3,68.4 137.6,70 138,71.8 138.3,71.1 138.6,67.9 139,62.8 139.3,59.2 139.6,59.4 140,62.2 140.3,64.5 140.6,64.8 141,65.2 141.3,66.5 141.6,68.2 142,67.5 142.3,64.1 142.6,61.4 143,60 143.3,57.7 143.7,59.2 144,65 144.3,68.6 144.7,69.3 145,68.8 145.3,67.9 145.7,65.8 146,63.3 146.3,62.8 146.7,64.2 147,65.5 147.3,65.7 147.7,65.2 148,64.9 148.3,65.4 148.7,66.6 149,66.9 149.3,64 149.7,62.3 150,64.9 150.4,67 150.7,66.8 151,69.9 151.4,73 151.7,70 152,65.5 152.4,63.1 152.7,62.2 153,63.8 153.4,68 153.7,71.7 154,71 154.4,67.7 154.7,66.8 155,68.4 155.4,69 155.7,69.9 156.1,72.9 156.4,73.3 156.7,70.1 157.1,68.4 157.4,70.4 157.7,72.3 158.1,71.3 158.4,69.2 158.7,66.9 159.1,65.7 159.4,65.1 159.7,65.1 160.1,65 160.4,63.3 160.7,61.8 161.1,62 161.4,63.1 161.8,64.5 162.1,64.8 162.4,66.2 162.8,68.2 163.1,68.7 163.4,68.7 163.8,67.9 164.1,65.8 164.4,64.7 164.8,66 165.1,68.1 165.4,68.9 165.8,66.3 166.1,63.1 166.4,62.7 166.8,64.9 167.1,67.7 167.4,68.9 167.8,68.6 168.1,67.8 168.5,64.4 168.8,59.4 169.1,56.2 169.5,55.5 169.8,58.4 170.1,61.7 170.5,64.5 170.8,66.5" fill="none" stroke="#1010ee" stroke-width="1.0" stroke-linejoin="round" />
<polyline points="128.9,73.4 129.2,68.9 129.6,64 129.9,63.4 130.2,65.5 130.6,66.4 130.9,66.7 131.3,66.1 131.6,65.1 131.9,65.5 132.3,67.3 132.6,67.5 132.9,66.6 133.3,66.7 133.6,65.5 133.9,63.2 134.3,63.3 134.6,63.3 134.9,63.1 135.3,65.3 135.6,67 135.9,64.9 136.3,66.5 136.6,68.6 136.9,63.9 137.3,59.4 137.6,63.1 138,68.7 138.3,68.2 138.6,66.8 139,69.1 139.3,68.9 139.6,64.3 140,60.4 140.3,61 140.6,63.6 141,67.2 141.3,67.6 141.6,64.9 142,66.2 142.3,68.8 142.6,66.7 143,65.2 143.3,66.5 143.7,66.5 144,66.9 144.3,69.1 144.7,70.9 145,71.5 145.3,72 145.7,72.7 146,72.7 146.3,72.2 146.7,70.2 147,69.1 147.3,67.4 147.7,61.5 148,57.2 148.3,60.2 148.7,64.6 149,64.2 149.3,64.4 149.7,66.9 150,67.7 150.4,64.8 150.7,61.7 151,63.3 151.4,67.7 151.7,69.7 152,67.4 152.4,62.7 152.7,61.9 153,66.2 153.4,69 153.7,69.6 154,68.9 154.4,66.8 154.7,67.9 155,71.4 155.4,69.9 155.7,64.8 156.1,63 156.4,65 156.7,67.5 157.1,68 157.4,67.8 157.7,69.7 158.1,70.6 158.4,67.8 158.7,65.9 159.1,65.7 159.4,63.9 159.7,64.5 160.1,67.5 160.4,67.7 160.7,65.6 161.1,64.2 161.4,66.6 161.8,71.3 162.1,71.1 162.4,66.3 162.8,63.9 163.1,63.2 163.4,62.1 163.8,62.8 164.1,65.4 164.4,66 164.8,65.5 165.1,63.5 165.4,63.9 165.8,67.4 166.1,68.1 166.4,68 166.8,68.5 167.1,69.8 167.4,71.7 167.8,70.1 168.1,65.7 168.5,65 168.8,68.1 169.1,66.7 169.5,60.1 169.8,59.1 170.1,64.5 170.5,69.6 170.8,70.3" fill="none" stroke="#1010ee" stroke-width="1.0" stroke-linejoin="round" />
<polyline points="128.9,67 129.2,67.3 129.6,66.7 129.9,67.5 130.2,69 130.6,68.6 130.9,67.1 131.3,68.3 131.6,70 131.9,67.6 132.3,65.3 132.6,66.4 132.9,68.2 133.3,68.8 133.6,68.7 133.9,70.1 134.3,70.2 134.6,66.3 134.9,63.6 135.3,66.3 135.6,68.5 135.9,66.6 136.3,64.1 136.6,64.8 136.9,69.2 137.3,71.4 137.6,69.1 138,65.9 138.3,64.5 138.6,65.9 139,69.3 139.3,69.8 139.6,67.1 140,64.8 140.3,65.3 140.6,67.6 141,67.5 141.3,63.9 141.6,59.9 142,58.8 142.3,61.1 142.6,64.2 143,67.9 143.3,69.9 143.7,70.1 144,70.1 144.3,70.1 144.7,69.3 145,68.1 145.3,66.9 145.7,65.8 146,65.4 146.3,64.3 146.7,62.9 147,63.6 147.3,65.2 147.7,65.9 148,65.8 148.3,65.9 148.7,65.3 149,62.4 149.3,60.5 149.7,62.8 150,67.8 150.4,70.7 150.7,69.3 151,66.3 151.4,65.1 151.7,65.7 152,65.3 152.4,64.2 152.7,64.3 153,63.8 153.4,65 153.7,67.7 154,68.6 154.4,69.8 154.7,72.4 155,74 155.4,72.4 155.7,68.9 156.1,67.4 156.4,68 156.7,69.2 157.1,69.6 157.4,70.6 157.7,72.5 158.1,71.7 158.4,68.5 158.7,67.5 159.1,68.1 159.4,66.4 159.7,63.3 160.1,62.7 160.4,64.1 160.7,62.8 161.1,60.8 161.4,62.1 161.8,65.5 162.1,68.1 162.4,67.1 162.8,67.7 163.1,68.7 163.4,65.5 163.8,61.8 164.1,60.7 164.4,62.2 164.8,65.7 165.1,68.4 165.4,68.4 165.8,67.1 166.1,66.5 166.4,66.7 166.8,65.5 167.1,63.4 167.4,60.8 167.8,58.3 168.1,60.4 168.5,66.5 168.8,70.7 169.1,71.9 169.5,70.7 169.8,69.2 170.1,69.9 170.5,70.1 170.8,67.9" fill="none" stroke="#1010ee" stroke-width="1.0" stroke-linejoin="round" />
<polyline points="128.9,62.8 129.2,59.7 129.6,61.5 129.9,66.7 130.2,69.9 130.6,69.5 130.9,68.1 131.3,66.8 131.6,63.6 131.9,62.7 132.3,67.2 132.6,72 132.9,71.2 133.3,69.2 133.6,69.9 133.9,69.1 134.3,66.2 134.6,64 134.9,64.1 135.3,65.7 135.6,67.2 135.9,67.1 136.3,65.9 136.6,64.8 136.9,64.8 137.3,66.2 137.6,67.4 138,65.6 138.3,63.7 138.6,62.8 139,62.4 139.3,61.3 139.6,61.9 140,65.1 140.3,66.9 140.6,67.4 141,69.2 141.3,71.1 141.6,70.5 142,69.8 142.3,70.2 142.6,70.6 143,68.8 143.3,64 143.7,60.9 144,62.2 144.3,67.4 144.7,70.6 145,70.9 145.3,71.1 145.7,70.1 146,69.3 146.3,68.1 146.7,65.9 147,62.8 147.3,60.9 147.7,63.5 148,67.1 148.3,68.1 148.7,69.5 149,70.7 149.3,71.2 149.7,69 150,66.3 150.4,67.6 150.7,69.8 151,69.4 151.4,66.8 151.7,66.1 152,69.4 152.4,71.1 152.7,70.5 153,70.7 153.4,68.2 153.7,65.1 154,66.1 154.4,69.1 154.7,71.1 155,71.4 155.4,69.3 155.7,65.2 156.1,62 156.4,63.2 156.7,67 157.1,68.8 157.4,69.6 157.7,71.7 158.1,71.8 158.4,71.4 158.7,72.1 159.1,71.6 159.4,71.2 159.7,72.9 160.1,73 160.4,71.1 160.7,70 161.1,68.9 161.4,66.8 161.8,67 162.1,68.5 162.4,69.8 162.8,70.5 163.1,68.7 163.4,65.3 163.8,64.5 164.1,64.9 164.4,65.1 164.8,66 165.1,66.2 165.4,67.2 165.8,68.3 166.1,68.6 166.4,69.2 166.8,68.6 167.1,67.4 167.4,64.5 167.8,62.1 168.1,63.9 168.5,67.2 168.8,68.8 169.1,70.6 169.5,72.5 169.8,71.8 170.1,69 170.5,68.9 170.8,70.6" fill="none" stroke="#1010ee" stroke-width="1.0" stroke-linejoin="round" />
<polyline points="128.9,64.2 129.2,64.3 129.6,65.7 129.9,65.6 130.2,65.7 130.6,67.8 130.9,70.8 131.3,70.3 131.6,67.5 131.9,65.7 132.3,63.5 132.6,62.4 132.9,64.6 133.3,67.2 133.6,69 133.9,69.9 134.3,71.2 134.6,73.3 134.9,72.1 135.3,67.2 135.6,64.4 135.9,63.8 136.3,64.5 136.6,64.8 136.9,64.5 137.3,65.6 137.6,67 138,66.9 138.3,66.6 138.6,63.7 139,60.3 139.3,60.6 139.6,62.3 140,64.3 140.3,65.2 140.6,65.8 141,67.3 141.3,69.6 141.6,70.3 142,70.5 142.3,71.5 142.6,70.5 143,68.6 143.3,69.6 143.7,71.3 144,71 144.3,69.1 144.7,67.8 145,66.8 145.3,64.8 145.7,64.3 146,68.2 146.3,71.3 146.7,69.7 147,67.9 147.3,68.6 147.7,68.8 148,66.8 148.3,66.6 148.7,68.9 149,70 149.3,67.8 149.7,65.2 150,64.9 150.4,67.8 150.7,70.1 151,69.8 151.4,69.2 151.7,69 152,69.5 152.4,69.1 152.7,68.4 153,68.5 153.4,69.5 153.7,69.9 154,69.3 154.4,68.7 154.7,68.8 155,70.9 155.4,72.1 155.7,68.3 156.1,64 156.4,63.3 156.7,64.2 157.1,66 157.4,68.8 157.7,68.9 158.1,65.4 158.4,62.9 158.7,63.1 159.1,64.2 159.4,65.1 159.7,65.9 160.1,66.1 160.4,66.4 160.7,67.7 161.1,69.4 161.4,69.1 161.8,68.3 162.1,70.8 162.4,73.4 162.8,72.9 163.1,69.9 163.4,64.7 163.8,62.7 164.1,65.1 164.4,68.9 164.8,70.6 165.1,69.6 165.4,68.7 165.8,68.3 166.1,66.5 166.4,65 166.8,66.9 167.1,71.4 167.4,73.4 167.8,71.2 168.1,68 168.5,64 168.8,60.3 169.1,59.8 169.5,61.1 169.8,60.9 170.1,61.2 170.5,63.3 170.8,64.4" fill="none" stroke="#1010ee" stroke-width="1.0" stroke-linejoin="round" />
<polyline points="128.9,65.1 129.2,63 129.6,62.1 129.9,62.6 130.2,65.6 130.6,67.6 130.9,66 131.3,65.7 131.6,68.5 131.9,67.7 132.3,64.5 132.6,60.8 132.9,57.2 133.3,58 133.6,62.6 133.9,66.4 134.3,67 134.6,67 134.9,66.8 135.3,66.6 135.6,65.6 135.9,62.1 136.3,59.1 136.6,60.9 136.9,66.2 137.3,68.6 137.6,65 138,62.9 138.3,65.3 138.6,66.8 139,66.7 139.3,67 139.6,67.8 140,70.2 140.3,71.4 140.6,71.2 141,70.9 141.3,68.7 141.6,67.6 142,67.9 142.3,66.7 142.6,65.9 143,65.4 143.3,66.2 143.7,68.9 144,72 144.3,73.9 144.7,72.3 145,67.3 145.3,62.3 145.7,63.1 146,66.2 146.3,65.8 146.7,65.4 147,65.6 147.3,64.5 147.7,64.7 148,66.9 148.3,68 148.7,68.4 149,68.8 149.3,68.1 149.7,68.3 150,69.8 150.4,69.1 150.7,65.7 151,63.6 151.4,65 151.7,66.4 152,65 152.4,63.4 152.7,62.5 153,63.7 153.4,67.1 153.7,69.2 154,69.3 154.4,66.1 154.7,61.7 155,63.6 155.4,68.2 155.7,68.3 156.1,65.9 156.4,64 156.7,64.6 157.1,65.8 157.4,65.5 157.7,65.2 158.1,66 158.4,66.8 158.7,66.7 159.1,67.3 159.4,68.8 159.7,68.6 160.1,67.8 160.4,67.3 160.7,67.7 161.1,69.9 161.4,70.7 161.8,69.2 162.1,67.4 162.4,66.9 162.8,66.9 163.1,68.1 163.4,69.7 163.8,69.2 164.1,68.8 164.4,68.1 164.8,65.6 165.1,62.3 165.4,59.7 165.8,59.6 166.1,63.4 166.4,67.1 166.8,66.5 167.1,62.6 167.4,60.6 167.8,63.2 168.1,66 168.5,66 168.8,65.8 169.1,68.2 169.5,73 169.8,75.3 170.1,70.9 170.5,66.2 170.8,68.3" fill="none" stroke="#1010ee" stroke-width="1.0" stroke-linejoin="round" />
<polyline points="128.9,66 129.2,68 129.6,68.5 129.9,69.5 130.2,69.1 130.6,66.4 130.9,64.8 131.3,64 131.6,63.8 131.9,65.6 132.3,66.5 132.6,66.6 132.9,66.9 133.3,66 133.6,64.5 133.9,63.7 134.3,64.2 134.6,66.4 134.9,68.6 135.3,69.9 135.6,69.1 135.9,66.4 136.3,63.1 136.6,61.6 136.9,60.5 137.3,58.9 137.6,59.5 138,63.5 138.3,68.4 138.6,70.5 139,69.5 139.3,68.9 139.6,69.4 140,69.9 140.3,69.1 140.6,67.4 141,68.2 141.3,68.8 141.6,68.4 142,67.9 142.3,65.2 142.6,64.4 143,67.2 143.3,70.2 143.7,71.2 144,69.6 144.3,66.3 144.7,66.3 145,68.5 145.3,68.1 145.7,65 146,64.6 146.3,68.4 146.7,71.2 147,70.5 147.3,66.6 147.7,62.5 148,61.2 148.3,64.2 148.7,67.5 149,67.9 149.3,67.7 149.7,68 150,66.6 150.4,66.3 150.7,67.8 151,66.8 151.4,62.9 151.7,61.4 152,63 152.4,62.8 152.7,62.8 153,65.9 153.4,69 153.7,69.9 154,68.9 154.4,68.2 154.7,69.2 155,71.5 155.4,73.5 155.7,73.2 156.1,70.4 156.4,67.9 156.7,68 157.1,67.7 157.4,65.8 157.7,65.8 158.1,67.7 158.4,67.6 158.7,65.8 159.1,66 159.4,67.1 159.7,66.5 160.1,65.1 160.4,64.7 160.7,65.3 161.1,64.9 161.4,65.4 161.8,65.9 162.1,64.3 162.4,64.3 162.8,65.3 163.1,65.4 163.4,68 163.8,69.6 164.1,67.5 164.4,64.6 164.8,63.7 165.1,63.3 165.4,61.9 165.8,60.4 166.1,58 166.4,58.4 166.8,65.2 167.1,71.9 167.4,72.5 167.8,70.3 168.1,68.3 168.5,68.7 168.8,70.8 169.1,71.3 169.5,70.3 169.8,71.1 170.1,71.3 170.5,68 170.8,65.8" fill="none" stroke="#1010ee" stroke-width="1.0" stroke-linejoin="round" />
<polyline points="128.9,65.4 129.2,62.7 129.6,63.8 129.9,65.4 130.2,66.6 130.6,68 130.9,69.1 131.3,68.9 131.6,67.5 131.9,65.6 132.3,63.7 132.6,63.8 132.9,64.4 133.3,64.3 133.6,65.3 133.9,64.2 134.3,62.1 134.6,64.3 134.9,67.2 135.3,64.4 135.6,61.2 135.9,64.3 136.3,70.2 136.6,71.2 136.9,68.7 137.3,66.1 137.6,64.3 138,64 138.3,63.6 138.6,66 139,70.4 139.3,71.6 139.6,69.1 140,65.8 140.3,63.9 140.6,64.5 141,67.7 141.3,73.9 141.6,76.5 142,72.1 142.3,68 142.6,68.2 143,67.9 143.3,64 143.7,61.8 144,64.8 144.3,68.1 144.7,66.5 145,62.8 145.3,62.2 145.7,61.8 146,60.9 146.3,62.5 146.7,64.5 147,63.3 147.3,61.9 147.7,62.1 148,63.6 148.3,66.2 148.7,67.6 149,67 149.3,66.3 149.7,66.8 150,67.9 150.4,69.1 150.7,68.9 151,68 151.4,67.2 151.7,66.8 152,67.8 152.4,70 152.7,70.5 153,68.1 153.4,67.7 153.7,68.6 154,67.8 154.4,66.5 154.7,66 155,63.6 155.4,59.8 155.7,58.1 156.1,59.7 156.4,63.5 156.7,65.2 157.1,62.4 157.4,60.1 157.7,60.6 158.1,62.5 158.4,64.8 158.7,64.9 159.1,62.7 159.4,62.9 159.7,64.9 160.1,64.4 160.4,63 160.7,62.4 161.1,61.8 161.4,60.8 161.8,60.9 162.1,63.8 162.4,66.6 162.8,66.4 163.1,66.9 163.4,68.1 163.8,68 164.1,66.9 164.4,63.4 164.8,61.5 165.1,62.8 165.4,63.1 165.8,63.3 166.1,65.4 166.4,67.3 166.8,66.1 167.1,64.2 167.4,63.5 167.8,63.1 168.1,62.4 168.5,62.1 168.8,61.3 169.1,60.9 169.5,61.6 169.8,62.3 170.1,63.3 170.5,64.6 170.8,64.8" fill="none" stroke="#1010ee" stroke-width="1.0" stroke-linejoin="round" />
<polyline points="128.9,64.4 129.2,63.5 129.6,62.6 129.9,65.5 130.2,69.3 130.6,70.1 130.9,67.4 131.3,64 131.6,62.1 131.9,62.5 132.3,62 132.6,60.8 132.9,61.9 133.3,64 133.6,63.8 133.9,64.5 134.3,66.4 134.6,67.8 134.9,69 135.3,70.9 135.6,71.5 135.9,68.8 136.3,67.5 136.6,67.4 136.9,64.1 137.3,60.7 137.6,61.8 138,63.4 138.3,63.7 138.6,66 139,67.9 139.3,68 139.6,66.3 140,64.4 140.3,64.9 140.6,66.9 141,67.3 141.3,67 141.6,67.4 142,68.2 142.3,69.2 142.6,69.3 143,68.8 143.3,68.3 143.7,67.4 144,68 144.3,69.6 144.7,69.8 145,68.8 145.3,67.5 145.7,66.9 146,67.3 146.3,66 146.7,62.8 147,61.7 147.3,62.5 147.7,63 148,64.2 148.3,64.7 148.7,61.8 149,58.1 149.3,58.5 149.7,61.5 150,63.3 150.4,61.4 150.7,59 151,59.5 151.4,60 151.7,59.8 152,60 152.4,60.5 152.7,62.4 153,64 153.4,62.7 153.7,60.2 154,61.1 154.4,62.6 154.7,63.3 155,65.5 155.4,67.5 155.7,68.2 156.1,67.7 156.4,66.6 156.7,65.9 157.1,66.8 157.4,68.1 157.7,68.1 158.1,67.5 158.4,66 158.7,63.8 159.1,63.7 159.4,66.1 159.7,68.2 160.1,68.5 160.4,68.6 160.7,67.7 161.1,67.5 161.4,68.9 161.8,69.2 162.1,66.3 162.4,63.2 162.8,64 163.1,64.7 163.4,63.3 163.8,62.8 164.1,64.9 164.4,67.6 164.8,65.2 165.1,60.7 165.4,62.2 165.8,65.1 166.1,65.1 166.4,65.4 166.8,67 167.1,66.7 167.4,65.2 167.8,64.6 168.1,66 168.5,69.1 168.8,72.2 169.1,72.4 169.5,70.1 169.8,69.1 170.1,66.7 170.5,63.9 170.8,64.1" fill="none" stroke="#1010ee" stroke-width="1.0" stroke-linejoin="round" />
<rect x="278.3" y="4.0" width="2.8" height="14.4" fill="#7d7df5" stroke="#6464dc" stroke-width="0.5"/>
<rect x="200.1" y="18.2" width="63.9" height="8.5" fill="#7d7df5" stroke="#6464dc" stroke-width="0.5"/>
<rect x="271.3" y="18.2" width="71.7" height="8.5" fill="#7d7df5" stroke="#6464dc" stroke-width="0.5"/>
<polyline points="199.9,72.9 200.4,72.3 200.9,69.7 201.4,65.9 201.9,63.1 202.4,63 202.9,66.1 203.4,70.9 203.9,74.6 204.4,75.6 204.9,75.2 205.4,75.2 205.9,75.5 206.4,74.3 206.9,71.4 207.4,68 207.9,66.1 208.4,66.6 208.9,68.9 209.4,71.4 209.9,73 210.4,73.2 210.9,71.6 211.4,68.3 211.9,64.1 212.4,60.3 212.9,57.9 213.4,57.6 213.9,59.6 214.4,62.8 214.9,65.2 215.4,65.8 215.9,65 216.4,64.1 216.9,64.3 217.4,65.6 217.9,66.8 218.4,66.6 218.9,65.4 219.4,63.9 219.9,63.1 220.4,62.5 220.9,61.7 221.4,61 221.9,60.6 222.4,60.8 222.9,62.2 223.4,64.6 224,66.5 224.5,66.1 225,63.7 225.5,61.2 226,60.2 226.5,60.3 227,61.3 227.5,63.2 228,65.9 228.5,68.4 229,70.4 229.5,72 230,73.5 230.5,74.3 231,74 231.5,72.9 232,71.4 232.5,70 233,69.3 233.5,69.6 234,70.3 234.5,70.9 235,71.4 235.5,71.9 236,71.8 236.5,71 237,69.8 237.5,68.4 238,67.2 238.5,66.9 239,68.3 239.5,70.3 240,71.3 240.5,71 241,70.6 241.5,70.9 242,71.3 242.5,70.6 243,68.4 243.5,65.4 244,63.5 244.5,63.5 245,64.6 245.5,65.8 246,66.3 246.5,65.8 247,64.8 247.5,64.3 248,64.8 248.5,66.1 249,67.6 249.5,68.9 250,70.1 250.5,71 251,71.2 251.5,70.1 252,68 252.5,65.9 253,64.5 253.5,64 254,64.6 254.5,66.1 255,67.8 255.5,69.7 256,72.2 256.5,74.6 257,76.1 257.5,76.6 258,76.6 258.5,75.9 259,73.9 259.5,70.5 260,67.1 260.5,64.6 261,63.7 261.5,63.8 262,64.3 262.5,65.3 263,66.6 263.5,67.4 264,66.6 264.5,64.5 265,62.5 265.5,61.8 266,62.1 266.5,63.3 267,65 267.5,66.7 268,67.1 268.5,65.6 269,62.9 269.5,61 270,61.2 270.5,63.8 271,67.6 271.6,71.6 272.1,74.4 272.6,75.3 273.1,74.6 273.6,73.2 274.1,71.3 274.6,69.3 275.1,67.6 275.6,66.6 276.1,66.7 276.6,67.7 277.1,69 277.6,69.7 278.1,69.2 278.6,67.5 279.1,64.5 279.6,60.6 280.1,56.7 280.6,54.7 281.1,55.4 281.6,59 282.1,63.5 282.6,66.7 283.1,67.4 283.6,65.9 284.1,63.6 284.6,61.8 285.1,61.6 285.6,63.4 286.1,66.8 286.6,70.9 287.1,74.4 287.6,76.1 288.1,75.6 288.6,73.2 289.1,70.1 289.6,67.8 290.1,66.4 290.6,65.3 291.1,64.2 291.6,63.7 292.1,64.2 292.6,65.3 293.1,67.6 293.6,71.7 294.1,76.7 294.6,79.7 295.1,78.6 295.6,74 296.1,69 296.6,66.1 297.1,65.8 297.6,66.5 298.1,66.9 298.6,67.1 299.1,67.6 299.6,68.4 300.1,69.5 300.6,70.4 301.1,70.7 301.6,70.6 302.1,70.9 302.6,71.2 303.1,69.9 303.6,66.7 304.1,63 304.6,60.6 305.1,60 305.6,60.8 306.1,62.4 306.6,64.1 307.1,65.6 307.6,66.8 308.1,67.2 308.6,67.2 309.1,67.8 309.6,69.5 310.1,71.2 310.6,71.4 311.1,69.9 311.6,68.3 312.1,68.1 312.6,69.1 313.1,70.3 313.6,70.6 314.1,69.6 314.6,68 315.1,67.1 315.6,67.8 316.1,69.6 316.6,71.4 317.1,72.2 317.6,71.6 318.1,70.4 318.6,69.5 319.2,69.3 319.7,69.5 320.2,69.9 320.7,70.1 321.2,69.9 321.7,68.8 322.2,66.9 322.7,64.9 323.2,63.8 323.7,64 324.2,65.2 324.7,66.7 325.2,68.6 325.7,70 326.2,69.8 326.7,67.7 327.2,65 327.7,63 328.2,62 328.7,62.1 329.2,62.9 329.7,64.1 330.2,65.5 330.7,67 331.2,67.8 331.7,67.3 332.2,66.4 332.7,66.4 333.2,67.7 333.7,69.4 334.2,70.2 334.7,70.4 335.2,70.9 335.7,72.4 336.2,74.1 336.7,74.9 337.2,74.6 337.7,74.4 338.2,75.1 338.7,76.4 339.2,77.3 339.7,77.5 340.2,76.9 340.7,75.7 341.2,74.5 341.7,74.3 342.2,75.2 342.7,76.7" fill="none" stroke="#e03048" stroke-width="0.9" stroke-opacity="0.35" stroke-linejoin="round" />
<polyline points="199.9,61.2 200.4,59 200.9,57.1 201.4,56.9 201.9,58.2 202.4,59.1 202.9,58.9 203.4,59 203.9,60.4 204.4,62.3 204.9,63.4 205.4,64 205.9,65.4 206.4,67.8 206.9,70.6 207.4,72.9 207.9,73.5 208.4,72.2 208.9,69.4 209.4,66.5 209.9,65 210.4,65.4 210.9,67.3 211.4,69.4 211.9,70.8 212.4,71.3 212.9,72 213.4,73 213.9,72.9 214.4,70.8 214.9,67.2 215.4,63.6 215.9,60.9 216.4,59.3 216.9,59.7 217.4,62.9 217.9,68.1 218.4,71.9 218.9,71.6 219.4,68.2 219.9,64.8 220.4,63.6 220.9,64.2 221.4,65.2 221.9,65.7 222.4,65.9 222.9,66.3 223.4,66.6 224,66.4 224.5,65.5 225,64.5 225.5,64.2 226,64.3 226.5,64.2 227,63.7 227.5,63.4 228,63.3 228.5,62.5 229,60.9 229.5,59.7 230,60.4 230.5,63.2 231,67 231.5,70.2 232,71.8 232.5,71.8 233,70.7 233.5,68.5 234,65.7 234.5,63.3 235,62.7 235.5,63.7 236,64.8 236.5,65 237,64.6 237.5,64.3 238,64.7 238.5,66.2 239,68.4 239.5,69.9 240,69.7 240.5,67.5 241,64.3 241.5,62.2 242,62.3 242.5,63.9 243,65.1 243.5,65.1 244,65.5 244.5,67.1 245,69.3 245.5,70 246,68.3 246.5,65.4 247,63.5 247.5,63.4 248,64.5 248.5,65.2 249,64.8 249.5,63.7 250,62.9 250.5,62.5 251,62.4 251.5,62.2 252,62.1 252.5,62.6 253,64.1 253.5,66.4 254,68.4 254.5,69.1 255,68.2 255.5,66.4 256,65.2 256.5,65.4 257,66.4 257.5,67.3 258,67.5 258.5,67.3 259,67.5 259.5,68.6 260,70.2 260.5,71.8 261,72.9 261.5,72.8 262,71.1 262.5,69 263,68.2 263.5,69.3 264,71 264.5,71.5 265,70 265.5,67.6 266,65.9 266.5,65.2 267,65 267.5,65 268,65 268.5,64.8 269,64.1 269.5,63.2 270,63.1 270.5,64.4 271,66.6 271.6,68.4 272.1,69.2 272.6,69.3 273.1,69.2 273.6,69.2 274.1,68.9 274.6,67.4 275.1,64.7 275.6,62 276.1,60.8 276.6,61.3 277.1,62.4 277.6,62.4 278.1,61 278.6,59.4 279.1,59.3 279.6,61.3 280.1,64.2 280.6,66.7 281.1,68.3 281.6,68.8 282.1,67.4 282.6,64.3 283.1,60.8 283.6,58 284.1,56.2 284.6,56.2 285.1,59.1 285.6,63.8 286.1,67.5 286.6,68.3 287.1,67.5 287.6,67.2 288.1,67.9 288.6,68.4 289.1,68 289.6,67.1 290.1,66.6 290.6,67 291.1,68.1 291.6,69.1 292.1,69.4 292.6,69.4 293.1,70 293.6,71.6 294.1,73.7 294.6,75.2 295.1,75.1 295.6,73.2 296.1,70.8 296.6,69 297.1,68.4 297.6,68.8 298.1,69.3 298.6,68.7 299.1,67.2 299.6,66.1 300.1,66.9 300.6,69.6 301.1,73.1 301.6,75.9 302.1,76.6 302.6,75.2 303.1,72.9 303.6,71.5 304.1,71.3 304.6,71.2 305.1,70.5 305.6,69.5 306.1,68.6 306.6,68.3 307.1,69 307.6,70.3 308.1,72.3 308.6,75.2 309.1,78.7 309.6,81.3 310.1,81.9 310.6,80.9 311.1,79.4 311.6,77.8 312.1,76.3 312.6,75.5 313.1,75.5 313.6,75.6 314.1,74.9 314.6,72.7 315.1,69.1 315.6,65.2 316.1,62.8 316.6,63.3 317.1,65.6 317.6,67.6 318.1,67.7 318.6,66.5 319.2,65.8 319.7,66.4 320.2,67.5 320.7,67.6 321.2,66 321.7,63.5 322.2,61.4 322.7,60.9 323.2,62.6 323.7,66.2 324.2,70.1 324.7,72.4 325.2,72.4 325.7,71.2 326.2,70 326.7,69 327.2,67.4 327.7,65.9 328.2,66 328.7,68.3 329.2,71.6 329.7,73.3 330.2,72.2 330.7,69.2 331.2,66.4 331.7,64.9 332.2,64.3 332.7,64.1 333.2,63.5 333.7,62.2 334.2,60.5 334.7,59.6 335.2,60.3 335.7,62 336.2,63.3 336.7,64 337.2,64.6 337.7,65.6 338.2,66.3 338.7,66.2 339.2,66.2 339.7,67.3 340.2,69.7 340.7,71.9 341.2,72.7 341.7,72 342.2,70.7 342.7,70.1" fill="none" stroke="#e03048" stroke-width="0.9" stroke-opacity="0.35" stroke-linejoin="round" />
<polyline points="199.9,69.4 200.4,69.4 200.9,70.2 201.4,71.6 201.9,73 202.4,73.9 202.9,74.2 203.4,73.6 203.9,71.5 204.4,69 204.9,67.7 205.4,68.1 205.9,69.7 206.4,71.1 206.9,71.8 207.4,71.7 207.9,71.4 208.4,71.5 208.9,71.5 209.4,71.2 209.9,71.4 210.4,72.3 210.9,72.7 211.4,71.4 211.9,69.3 212.4,67.8 212.9,67.6 213.4,67.8 213.9,67.7 214.4,67.7 214.9,68.5 215.4,70.1 215.9,71.1 216.4,70.3 216.9,67.7 217.4,64.8 217.9,62.6 218.4,60.9 218.9,59.4 219.4,58.3 219.9,58.4 220.4,59.2 220.9,59.6 221.4,59.5 221.9,59.8 222.4,61.1 222.9,62.7 223.4,63.7 224,63.1 224.5,61.1 225,58.9 225.5,58.1 226,59.7 226.5,63.3 227,67.5 227.5,70.6 228,71.6 228.5,70.5 229,68.4 229.5,67.5 230,69 230.5,72.5 231,75.9 231.5,77.1 232,75.5 232.5,72.1 233,68.7 233.5,66 234,64.7 234.5,65.1 235,67.1 235.5,70.4 236,74.3 236.5,78.1 237,80.5 237.5,80 238,77.2 238.5,74.1 239,72.7 239.5,72.8 240,73 240.5,72.5 241,71.7 241.5,70.8 242,69.1 242.5,66.3 243,63 243.5,60.6 244,60.2 244.5,61.7 245,64.2 245.5,66.9 246,69 246.5,69.8 247,69.8 247.5,70 248,70.7 248.5,71.9 249,73.2 249.5,74.7 250,76.5 250.5,77.5 251,76.8 251.5,74.4 252,71.6 252.5,69.3 253,67.1 253.5,64.8 254,63.4 254.5,63.8 255,65.3 255.5,66.6 256,67.2 256.5,67.1 257,67.1 257.5,67.6 258,68.2 258.5,68.2 259,67.6 259.5,66.9 260,66.2 260.5,64.7 261,62.8 261.5,62.2 262,63.5 262.5,65.5 263,66.9 263.5,67.5 264,68.1 264.5,69.5 265,70.9 265.5,71.7 266,71.9 266.5,72.1 267,72.3 267.5,72.1 268,71 268.5,69.2 269,67.3 269.5,66.2 270,66.8 270.5,69.2 271,72.5 271.6,75 272.1,75.2 272.6,73.4 273.1,71.2 273.6,70.2 274.1,71.2 274.6,73.2 275.1,74.7 275.6,75.4 276.1,76 276.6,76.4 277.1,75.9 277.6,74.3 278.1,72.9 278.6,72.7 279.1,73.5 279.6,74.1 280.1,74.1 280.6,73.3 281.1,71.8 281.6,69.6 282.1,66.9 282.6,64.2 283.1,62 283.6,61 284.1,61.1 284.6,61.8 285.1,62.8 285.6,63.8 286.1,64.4 286.6,65 287.1,66.4 287.6,69.3 288.1,72.6 288.6,74.4 289.1,74.1 289.6,72.8 290.1,72.1 290.6,71.7 291.1,70.6 291.6,68.9 292.1,67.2 292.6,65.8 293.1,64.8 293.6,64.2 294.1,64.2 294.6,64.8 295.1,66 295.6,67.6 296.1,68.9 296.6,68.9 297.1,68 297.6,67.4 298.1,68 298.6,69.2 299.1,70 299.6,69.7 300.1,68.6 300.6,66.9 301.1,65 301.6,63.5 302.1,63.3 302.6,64.4 303.1,66 303.6,67.4 304.1,68.2 304.6,67.9 305.1,65.9 305.6,62.5 306.1,59.4 306.6,58.5 307.1,59.8 307.6,62.3 308.1,65.2 308.6,68.1 309.1,70.2 309.6,70.9 310.1,69.9 310.6,68.2 311.1,66.4 311.6,65.3 312.1,65.1 312.6,66.2 313.1,68.8 313.6,72.2 314.1,74.7 314.6,75.1 315.1,74.3 315.6,73.3 316.1,72.2 316.6,70.5 317.1,68.3 317.6,66.9 318.1,67.1 318.6,68.7 319.2,70.8 319.7,72.2 320.2,72.4 320.7,71.6 321.2,70.5 321.7,69.3 322.2,68.5 322.7,68.9 323.2,70.8 323.7,73.4 324.2,75.8 324.7,77.1 325.2,77.2 325.7,76 326.2,74 326.7,72.7 327.2,72.8 327.7,72.7 328.2,70.9 328.7,67.8 329.2,66.1 329.7,67.2 330.2,70.3 330.7,72.8 331.2,73.4 331.7,73 332.2,73.3 332.7,74.4 333.2,75 333.7,73.8 334.2,70.9 334.7,67.5 335.2,65.4 335.7,65.5 336.2,67.3 336.7,69.7 337.2,71.1 337.7,70.5 338.2,68 338.7,64.8 339.2,62.3 339.7,61.7 340.2,62.9 340.7,64.6 341.2,65.2 341.7,64.4 342.2,63.7 342.7,64.5" fill="none" stroke="#e03048" stroke-width="0.9" stroke-opacity="0.35" stroke-linejoin="round" />
<polyline points="199.9,62.8 200.4,60.7 200.9,60.4 201.4,61.4 201.9,63.4 202.4,66.1 202.9,68.8 203.4,71.4 203.9,73.4 204.4,74.3 204.9,73.6 205.4,71.7 205.9,69.8 206.4,69.4 206.9,70.7 207.4,72.4 207.9,73.6 208.4,73.6 208.9,73.1 209.4,73.2 209.9,74.1 210.4,74.5 210.9,72.6 211.4,68.9 211.9,65.1 212.4,62.3 212.9,60.8 213.4,60.8 213.9,62.8 214.4,65.6 214.9,67.3 215.4,67 215.9,66.2 216.4,66.7 216.9,67.8 217.4,67.8 217.9,66.7 218.4,66.5 218.9,67.8 219.4,69.6 219.9,70.4 220.4,70 220.9,69 221.4,67.8 221.9,66.7 222.4,66.5 222.9,67.3 223.4,67.6 224,66 224.5,62.7 225,59.8 225.5,59.4 226,61.7 226.5,64.8 227,66.5 227.5,66.3 228,65.5 228.5,66 229,68.9 229.5,72.8 230,74.8 230.5,74 231,72.9 231.5,73.4 232,74.6 232.5,74.3 233,71.9 233.5,68.4 234,65 234.5,62.4 235,60.8 235.5,60 236,60 236.5,61.1 237,63.2 237.5,65.8 238,68 238.5,69.3 239,69.6 239.5,68.9 240,67.2 240.5,65.3 241,64.2 241.5,64 242,64.1 242.5,64.5 243,65.9 243.5,68 244,69.4 244.5,69 245,66.9 245.5,64.9 246,64.1 246.5,64.5 247,64.8 247.5,63.6 248,61.4 248.5,60.4 249,62.1 249.5,65.7 250,69.3 250.5,71.7 251,72.6 251.5,72.3 252,71.6 252.5,71 253,70.7 253.5,71 254,71.9 254.5,73 255,73.3 255.5,72.1 256,70.3 256.5,69.4 257,70.2 257.5,72 258,73.8 258.5,75.6 259,77.4 259.5,78.2 260,76.8 260.5,73.4 261,69.5 261.5,66.1 262,63.3 262.5,61 263,60 263.5,61.2 264,64.9 264.5,69.6 265,72.9 265.5,73.6 266,72 266.5,70.1 267,69 267.5,68.9 268,69.5 268.5,70.5 269,71.4 269.5,71.4 270,70.5 270.5,69.5 271,69 271.6,68.8 272.1,68.4 272.6,68.2 273.1,68.8 273.6,70.8 274.1,73.3 274.6,74.4 275.1,73.7 275.6,72.4 276.1,72.3 276.6,73.3 277.1,74.1 277.6,74.4 278.1,74.7 278.6,75.1 279.1,74.6 279.6,73.1 280.1,71.4 280.6,70.2 281.1,69.1 281.6,68 282.1,67.2 282.6,66.7 283.1,66.6 283.6,67 284.1,68.5 284.6,71.4 285.1,74.9 285.6,77.5 286.1,77.7 286.6,75.9 287.1,73.3 287.6,71 288.1,69.4 288.6,68.6 289.1,68.1 289.6,67.4 290.1,66.4 290.6,65.5 291.1,64.8 291.6,64.6 292.1,65.3 292.6,66.5 293.1,67.5 293.6,67.3 294.1,66.3 294.6,65.2 295.1,64.9 295.6,65.4 296.1,66 296.6,65.9 297.1,65 297.6,63.3 298.1,61.8 298.6,62.1 299.1,64.3 299.6,66.4 300.1,66.1 300.6,63.3 301.1,59.7 301.6,57.1 302.1,56 302.6,56.7 303.1,59.7 303.6,64.5 304.1,69 304.6,70.7 305.1,69.1 305.6,65.7 306.1,62.8 306.6,61.6 307.1,61.7 307.6,62.1 308.1,63 308.6,65.5 309.1,70 309.6,74.7 310.1,77.2 310.6,76.5 311.1,73.8 311.6,71 312.1,69.6 312.6,70 313.1,70.9 313.6,70.5 314.1,68.3 314.6,66 315.1,65.6 315.6,67.4 316.1,69.9 316.6,71.4 317.1,71.6 317.6,71.5 318.1,71.6 318.6,71.1 319.2,69.7 319.7,68.2 320.2,66.8 320.7,66.1 321.2,66.2 321.7,67 322.2,68 322.7,69 323.2,70.4 323.7,72.3 324.2,73.5 324.7,73 325.2,71.2 325.7,69.4 326.2,67.5 326.7,64.9 327.2,61.9 327.7,59.6 328.2,59.8 328.7,63 329.2,68.1 329.7,72.3 330.2,73.2 330.7,71.2 331.2,68.6 331.7,66.5 332.2,64.8 332.7,63.4 333.2,62.4 333.7,62.6 334.2,64.6 334.7,68.9 335.2,74.7 335.7,79.8 336.2,81.6 336.7,79.3 337.2,74.3 337.7,69.6 338.2,67.6 338.7,67.9 339.2,68.1 339.7,67.2 340.2,66.2 340.7,66.5 341.2,67.7 341.7,68.2 342.2,67.2 342.7,65.4" fill="none" stroke="#e03048" stroke-width="0.9" stroke-opacity="0.35" stroke-linejoin="round" />
<polyline points="199.9,69.3 200.4,72.2 200.9,74.6 201.4,74.8 201.9,72.8 202.4,70.5 202.9,69.3 203.4,69.3 203.9,69.9 204.4,70.9 204.9,72 205.4,72.8 205.9,73.5 206.4,74.8 206.9,76.5 207.4,77.2 207.9,75.3 208.4,70.8 208.9,65.7 209.4,62.5 209.9,61.8 210.4,62.3 210.9,63.3 211.4,64.7 211.9,67.1 212.4,70.1 212.9,72.7 213.4,74.2 213.9,74.8 214.4,74.6 214.9,73.9 215.4,72.3 215.9,70.2 216.4,68.2 216.9,67.5 217.4,68.4 217.9,70.2 218.4,71.3 218.9,70.7 219.4,69.2 219.9,68.2 220.4,68.5 220.9,69.5 221.4,70.5 221.9,71 222.4,70.8 222.9,69.6 223.4,67.6 224,65.7 224.5,65.3 225,67.3 225.5,70.8 226,73.6 226.5,74.2 227,72.9 227.5,71.2 228,69.9 228.5,69.1 229,68.6 229.5,68.7 230,69.6 230.5,70.4 231,70.7 231.5,70.7 232,70.9 232.5,71.2 233,70.7 233.5,69.1 234,67.7 234.5,67.9 235,70.1 235.5,72.9 236,75.4 236.5,76.6 237,76.3 237.5,74.7 238,73.4 238.5,73.2 239,73.5 239.5,73.6 240,73.3 240.5,72.3 241,70.8 241.5,68.8 242,66.9 242.5,66.4 243,68.1 243.5,71.8 244,75.6 244.5,77.4 245,76.5 245.5,74 246,72.2 246.5,72.2 247,73.3 247.5,74.5 248,74.4 248.5,72.6 249,69.5 249.5,66.3 250,63.5 250.5,61.5 251,60.6 251.5,60.8 252,60.6 252.5,58.9 253,56.1 253.5,54.1 254,53.8 254.5,54.4 255,55 255.5,56.2 256,58.9 256.5,63.2 257,68.1 257.5,71.7 258,72.7 258.5,70.7 259,66.7 259.5,62.7 260,60.3 260.5,60 261,61.2 261.5,62.7 262,63.2 262.5,62.9 263,62.9 263.5,63.9 264,65.7 264.5,67.5 265,68.2 265.5,67.7 266,66.8 266.5,65.9 267,64.8 267.5,64.4 268,65.7 268.5,68.3 269,70 269.5,69.9 270,68.8 270.5,68.3 271,68.4 271.6,68.3 272.1,67.4 272.6,66 273.1,65 273.6,64.6 274.1,64.5 274.6,64.2 275.1,63.8 275.6,63.8 276.1,64.5 276.6,65.4 277.1,65.8 277.6,65 278.1,63.3 278.6,61.8 279.1,61.4 279.6,62.4 280.1,64.4 280.6,66.6 281.1,68.1 281.6,69.1 282.1,69.8 282.6,70 283.1,69.3 283.6,67.9 284.1,67.1 284.6,67.5 285.1,68.3 285.6,68.2 286.1,66.7 286.6,64.4 287.1,63.1 287.6,63.8 288.1,65.7 288.6,66.9 289.1,66.3 289.6,64.3 290.1,62.3 290.6,60.5 291.1,59.4 291.6,60 292.1,62.5 292.6,64.8 293.1,65.4 293.6,64.2 294.1,62.6 294.6,62.1 295.1,63.4 295.6,65.9 296.1,67.8 296.6,68.6 297.1,69.4 297.6,70.9 298.1,72.2 298.6,72.4 299.1,71.4 299.6,69.8 300.1,68.5 300.6,67.9 301.1,68.2 301.6,69.3 302.1,70.5 302.6,70.7 303.1,69.8 303.6,68.1 304.1,66.4 304.6,65.2 305.1,65.1 305.6,66 306.1,66.6 306.6,66 307.1,64.9 307.6,64.2 308.1,64.2 308.6,64.1 309.1,63.8 309.6,64 310.1,65 310.6,66.5 311.1,67.5 311.6,67.9 312.1,67.9 312.6,67.4 313.1,65.7 313.6,63.3 314.1,61 314.6,59.5 315.1,59.3 315.6,60.4 316.1,62.4 316.6,64.2 317.1,65.5 317.6,66.8 318.1,69 318.6,72 319.2,75.3 319.7,77.8 320.2,78.4 320.7,76.6 321.2,73.6 321.7,70.8 322.2,69.2 322.7,68.2 323.2,67.6 323.7,67.5 324.2,68.1 324.7,68.8 325.2,68.3 325.7,66.6 326.2,65.1 326.7,65.2 327.2,66.5 327.7,67.7 328.2,67.5 328.7,65.9 329.2,64.2 329.7,64.3 330.2,66.8 330.7,69.5 331.2,70.1 331.7,68.2 332.2,65.3 332.7,63 333.2,62.1 333.7,62.1 334.2,62.3 334.7,62.5 335.2,63.1 335.7,64.5 336.2,65.8 336.7,66.7 337.2,67.6 337.7,69 338.2,70.1 338.7,69.7 339.2,68 339.7,67 340.2,68.2 340.7,70.8 341.2,73.2 341.7,74.2 342.2,73.8 342.7,72" fill="none" stroke="#e03048" stroke-width="0.9" stroke-opacity="0.35" stroke-linejoin="round" />
<polyline points="199.9,61.2 200.4,59.9 200.9,60.3 201.4,62.1 201.9,64.7 202.4,67.3 202.9,68.9 203.4,69 203.9,67.9 204.4,66.9 204.9,66.7 205.4,67.4 205.9,68.3 206.4,69 206.9,69.7 207.4,70 207.9,69 208.4,65.9 208.9,62.2 209.4,60.3 209.9,61.2 210.4,64.3 210.9,67.8 211.4,70.1 211.9,70.2 212.4,69 212.9,68.2 213.4,69.3 213.9,71.5 214.4,73.7 214.9,75.1 215.4,75.2 215.9,73.8 216.4,72.3 216.9,71.8 217.4,72 217.9,71.9 218.4,71.4 218.9,70.8 219.4,70.1 219.9,69.5 220.4,69.4 220.9,70.1 221.4,71.1 221.9,72 222.4,72.3 222.9,71.6 223.4,70 224,68.4 224.5,66.8 225,65.4 225.5,64.7 226,65.7 226.5,67.9 227,69.9 227.5,70.5 228,69.3 228.5,66.7 229,64.1 229.5,63.3 230,64.5 230.5,66.1 231,67 231.5,67.2 232,67.3 232.5,68 233,69.3 233.5,70.4 234,70.6 234.5,70.1 235,69 235.5,67.7 236,66.4 236.5,65.4 237,65.2 237.5,65.7 238,66.4 238.5,66.8 239,67.7 239.5,69.8 240,71.8 240.5,71.3 241,68.3 241.5,64.8 242,62.8 242.5,62.5 243,63.4 243.5,64.9 244,66.6 244.5,68 245,68.8 245.5,68.4 246,66.3 246.5,63.3 247,61.1 247.5,60.7 248,61.7 248.5,63.2 249,64.2 249.5,65 250,65.5 250.5,66 251,66.2 251.5,66.7 252,67.8 252.5,68.8 253,68.4 253.5,66.1 254,63.5 254.5,62.4 255,63.3 255.5,65.4 256,66.9 256.5,66 257,63.2 257.5,60.7 258,60.7 258.5,63.3 259,66.5 259.5,68.3 260,68.3 260.5,67.5 261,66.7 261.5,66 262,66 262.5,67.8 263,71.3 263.5,74.9 264,76.6 264.5,75.4 265,72.3 265.5,68.7 266,65.7 266.5,64.4 267,65 267.5,66.7 268,68.6 268.5,69.9 269,70.5 269.5,70.1 270,68.7 270.5,67.2 271,66.3 271.6,65.7 272.1,64.7 272.6,63.6 273.1,63.5 273.6,64.6 274.1,66.2 274.6,67.3 275.1,68.2 275.6,69.7 276.1,72 276.6,74 277.1,74.8 277.6,74.5 278.1,74.7 278.6,76 279.1,77.7 279.6,78.1 280.1,76.8 280.6,74.4 281.1,72 281.6,69.9 282.1,67.8 282.6,66 283.1,65.7 283.6,67.8 284.1,71.7 284.6,76 285.1,78.5 285.6,77.9 286.1,74.8 286.6,71.1 287.1,68.9 287.6,68.7 288.1,69.4 288.6,69.8 289.1,69.7 289.6,69.4 290.1,68.9 290.6,67 291.1,63.5 291.6,59.6 292.1,57.4 292.6,57.9 293.1,60.8 293.6,64 294.1,65 294.6,63.6 295.1,61.4 295.6,60.4 296.1,60.9 296.6,61.8 297.1,62.4 297.6,63.2 298.1,64.7 298.6,67 299.1,69.2 299.6,70.7 300.1,71.8 300.6,73.2 301.1,75 301.6,76.3 302.1,76.4 302.6,76 303.1,75.8 303.6,74.9 304.1,72.8 304.6,70.1 305.1,67.7 305.6,65.9 306.1,64.9 306.6,65.3 307.1,67.6 307.6,71.1 308.1,74.3 308.6,76 309.1,76.1 309.6,75.6 310.1,75 310.6,74.5 311.1,73.1 311.6,70.5 312.1,67.6 312.6,65.7 313.1,65.5 313.6,65.9 314.1,65.8 314.6,65.1 315.1,64.3 315.6,63 316.1,61.3 316.6,60.4 317.1,61 317.6,61.8 318.1,61.8 318.6,61.6 319.2,61.8 319.7,62.1 320.2,61.2 320.7,59.2 321.2,57.9 321.7,58.7 322.2,61.2 322.7,64.8 323.2,69 323.7,73.3 324.2,75.5 324.7,74.7 325.2,71.6 325.7,68.2 326.2,65.9 326.7,64.9 327.2,65.5 327.7,68.1 328.2,72.3 328.7,76.1 329.2,77.6 329.7,76.3 330.2,73.4 330.7,69.6 331.2,65.9 331.7,63 332.2,61.8 332.7,62.2 333.2,64 333.7,66.9 334.2,69.8 334.7,71 335.2,69.9 335.7,68 336.2,67.7 336.7,70 337.2,73.1 337.7,74.8 338.2,74 338.7,71.2 339.2,67.1 339.7,63.4 340.2,62.1 340.7,63.3 341.2,64.9 341.7,64.9 342.2,63.3 342.7,61.4" fill="none" stroke="#e03048" stroke-width="0.9" stroke-opacity="0.35" stroke-linejoin="round" />
<polyline points="199.9,90.7 200.4,94.1 200.6,94.5 200.9,93.8 201.4,89.9 201.9,83.9 202.4,78.4 202.9,74.5 203.4,70.1 203.9,65.1 204.4,60.7 204.9,58.9 205.4,60.8 205.9,65.8 206.4,71.7 206.9,76.5 207.4,78.6 207.9,77.8 208.4,74.8 208.9,70.7 209.4,67 209.9,65.3 210.4,66.3 210.9,69 211.4,71.7 211.9,72.6 212.4,71.4 212.9,69 213.4,66.8 213.9,65.7 214.4,65.8 214.9,67.4 215.4,69.9 215.9,72.8 216.4,75.3 216.9,77.1 217.4,78.4 217.9,79.4 218.4,79.6 218.9,78.4 219.4,75.4 219.9,71.5 220.4,68 220.9,65.9 221.4,64.9 221.9,64.1 222.4,62.8 222.9,61.3 223.4,60.5 224,61.5 224.5,65.1 225,71.4 225.5,79.3 226,86.2 226.5,89.6 227,87.8 227.5,81.7 228,74.4 228.5,68.9 229,66.8 229.5,67.4 230,68.9 230.5,69.5 231,68.7 231.5,67.1 232,65.9 232.5,65.5 233,65.2 233.5,62.9 234,57.5 234.5,51 235,45 235.5,41.1 235.7,40.5 236,41 236.5,44.6 237,50.6 237.5,56.9 238,61.3 238.5,63 239,63.1 239.5,62.9 240,63.9 240.5,67.1 241,71.5 241.5,75.1 242,76 242.5,73.9 243,70.3 243.5,67.4 244,66.2 244.5,66.6 245,67.6 245.5,68.7 246,69.4 246.5,69.2 247,67.7 247.5,65.4 248,63.9 248.5,65 249,69.7 249.5,76.6 250,83.8 250.5,91.9 251,98.9 251.5,102.2 251.6,102.3 252,100.5 252.5,94.5 253,86.5 253.5,78.5 254,70.9 254.5,68.9 255,70.5 255.5,73.5 256,76.3 256.5,77.9 257,77.8 257.5,76.3 258,73.8 258.5,70.9 259,67.9 259.5,65.1 260,62.9 260.5,61.6 261,61 261.5,61.3 262,62.2 262.5,63.5 263,64.7 263.5,65.6 264,65.7 264.5,65.2 265,63.8 265.5,61.5 266,58.8 266.5,56.6 267,56.1 267.5,57.6 268,60.8 268.5,64.6 269,67.8 269.5,69.9 270,70.9 270.5,71.4 271,71.8 271.6,72.4 272.1,73.1 272.6,73.5 273.1,73 273.6,71.4 274.1,69.1 274.6,66.7 275.1,64.4 275.6,62.2 276.1,59.9 276.6,58.3 277.1,58.5 277.6,61.7 278.1,67.8 278.6,75 279.1,81.2 279.6,84.9 280.1,86.1 280.6,85.5 281.1,84 281.6,82.9 282.1,82.5 282.6,82.7 283.1,82.5 283.6,81.3 284.1,78.7 284.6,75.1 285.1,70.4 285.6,64.1 286.1,56.5 286.6,48.1 287.1,38.5 287.6,30.3 288.1,26.6 288.2,26.5 288.6,28.8 289.1,36.1 289.6,45.7 290.1,54.5 290.6,59.8 291.1,64.6 291.6,67.2 292.1,67.2 292.6,65.7 293.1,64.5 293.6,64.6 294.1,65.7 294.6,66.9 295.1,67.3 295.6,66.6 296.1,65.3 296.6,64.3 297.1,64.4 297.6,65.6 298.1,67.2 298.6,68.5 299.1,69.4 299.6,70.3 300.1,71.2 300.6,72.3 301.1,73.5 301.6,75.1 302.1,77.2 302.6,79.5 303.1,81.4 303.6,82.1 304.1,81.7 304.6,80.3 305.1,78.4 305.6,76.6 306.1,75.1 306.6,74.1 307.1,73.6 307.6,73.7 308.1,74.8 308.6,77 309.1,79.8 309.6,82.3 310.1,83.2 310.6,82.1 311.1,79.3 311.6,75.7 312.1,72.1 312.6,69 313.1,66.9 313.6,66.1 314.1,66.9 314.6,69 315.1,71.7 315.6,73.7 316.1,74.3 316.6,72.9 317.1,70 317.6,66.5 318.1,63.2 318.6,60.7 319.2,58.6 319.7,56.5 320.2,54.2 320.7,52.5 321.2,52.6 321.7,55.2 322.2,59.7 322.7,64.9 323.2,69.6 323.7,73.3 324.2,75.9 324.7,77.2 325.2,76.9 325.7,75 326.2,71.7 326.7,68 327.2,64.8 327.7,63.3 328.2,64 328.7,66.5 329.2,69.9 329.7,72.8 330.2,73.5 330.7,71.3 331.2,66.7 331.7,61.6 332.2,57.7 332.7,56 333.2,56.3 333.7,57.4 334.2,58 334.7,57.6 335.2,56.7 335.7,56.2 336.2,56.9 336.7,58.9 337.2,61.8 337.7,64.8 338.2,67.1 338.7,68.2 339.2,67.8 339.7,66.1 340.2,63.8 340.7,62 341.2,61.9 341.7,64.1 342.2,68.2 342.7,72.8" fill="none" stroke="#e6141e" stroke-width="1.15" stroke-linejoin="round" />
<polyline points="199.9,77.4 200.4,77.6 200.9,78 201.4,78.5 201.9,79.2 202.4,80.3 202.9,81.3 203.4,81.3 203.9,79.4 204.4,75.7 204.9,71.1 205.4,67 205.9,64.6 206.4,64.1 206.9,64.9 207.4,65.9 207.9,66.7 208.4,67.3 208.9,67.9 209.4,68.4 209.9,68.2 210.4,67.2 210.9,65.6 211.4,63.9 211.9,62.7 212.4,62 212.9,61.4 213.4,60.7 213.9,60.1 214.4,60.3 214.9,61.5 215.4,63.5 215.9,66.1 216.4,68.9 216.9,71.3 217.4,72.3 217.9,71.6 218.4,69.5 218.9,67.1 219.4,66 219.9,66.8 220.4,69.4 220.9,72.8 221.4,75.7 221.9,76.5 222.4,73.7 222.9,66.8 223.4,58.1 224,52.7 224.5,50 224.7,49.6 225,49.8 225.5,52.1 226,56 226.5,60.5 227,64.8 227.5,67.7 228,69.3 228.5,70.1 229,70.2 229.5,69.5 230,67.9 230.5,66.1 231,64.8 231.5,65 232,66.6 232.5,68.9 233,70.5 233.5,70.4 234,68.6 234.5,66 235,63.9 235.5,63.2 236,64.4 236.5,67.1 237,70 237.5,72.1 238,72.6 238.5,71.1 239,68.4 239.5,65.9 240,64.9 240.5,65.8 241,68 241.5,70.3 242,72.1 242.5,73.2 243,73.7 243.5,73.2 244,70.9 244.5,67.1 245,63.2 245.5,60.6 246,59.9 246.5,60.5 247,61.2 247.5,61.9 248,63.2 248.5,65.6 249,69.1 249.5,72.8 250,75.5 250.5,76.6 251,76 251.5,74.1 252,71 252.5,66.4 253,60.8 253.5,55.4 254,52 254.5,51.3 255,52.9 255.5,55.7 256,59.1 256.5,62.8 257,66.6 257.5,69.9 258,71.6 258.5,71.1 259,68.8 259.5,66.5 260,67 260.5,71.2 261,76.9 261.5,82.2 262,88.9 262.5,94.2 263,96.1 263,96.1 263.5,93.9 264,88.5 264.5,81.8 265,76.4 265.5,69.3 266,62.4 266.5,59 267,60 267.5,62.9 268,64.4 268.5,63.1 269,60.4 269.5,58.5 270,59.1 270.5,61.9 271,65.5 271.6,68.5 272.1,69.6 272.6,68.5 273.1,65.7 273.6,62.2 274.1,59.4 274.6,58.4 275.1,59.3 275.6,61.7 276.1,64.5 276.6,66.7 277.1,67.7 277.6,67.4 278.1,65.8 278.6,63.3 279.1,60.1 279.6,56.8 280.1,53.7 280.6,51.9 281.1,52 281.6,53.9 282.1,56.6 282.6,58.8 283.1,61.1 283.6,64.9 284.1,71.3 284.6,79.1 285.1,84.5 285.6,88.4 286,89.5 286.1,89.5 286.6,87.5 287.1,83.1 287.6,78.4 288.1,73.4 288.6,68 289.1,63.1 289.6,59.2 290.1,56.5 290.6,55.9 291.1,58.1 291.6,62.6 292.1,68 292.6,72.3 293.1,74.2 293.6,73.7 294.1,71.7 294.6,68.9 295.1,66 295.6,63.4 296.1,61.4 296.6,60.2 297.1,59.5 297.6,59.1 298.1,59.1 298.6,59.8 299.1,61.3 299.6,63.4 300.1,65.2 300.6,65.7 301.1,64.1 301.6,59.9 302.1,54.1 302.6,48 303.1,43.3 303.6,41.7 303.6,41.8 304.1,44 304.6,49.1 305.1,55.1 305.6,66.5 306.1,73.6 306.6,75.4 307.1,74 307.6,71.6 308.1,68.7 308.6,65.5 309.1,62.4 309.6,60.6 310.1,61.1 310.6,63.5 311.1,65.8 311.6,66.1 312.1,64.1 312.6,60.9 313.1,58.4 313.6,58.3 314.1,60.9 314.6,65.2 315.1,69.6 315.6,72 316.1,71.5 316.6,68.6 317.1,65.1 317.6,63.3 318.1,64.2 318.6,67.4 319.2,71.6 319.7,75.5 320.2,78.5 320.7,80.2 321.2,80.3 321.7,79 322.2,76.6 322.7,73.9 323.2,71.2 323.7,69 324.2,67.5 324.7,66.9 325.2,67.3 325.7,68.4 326.2,69.4 326.7,69.8 327.2,69.6 327.7,69.4 328.2,69.5 328.7,69.6 329.2,69.3 329.7,68.1 330.2,65.8 330.7,63.3 331.2,61.8 331.7,62.3 332.2,64.6 332.7,68 333.2,71.5 333.7,74.4 334.2,76 334.7,76.1 335.2,74.6 335.7,71.6 336.2,67.5 336.7,63.2 337.2,59.8 337.7,57.8 338.2,56.8 338.7,55.7 339.2,54.1 339.7,52.1 340.2,51.3 340.7,52.8 341.2,56.8 341.7,62.2 342.2,67.1 342.7,70.2" fill="none" stroke="#e6141e" stroke-width="1.15" stroke-linejoin="round" />
<polyline points="199.9,72.6 200.4,73.8 200.9,74.8 201.4,75 201.9,73.7 202.4,71.1 202.9,68 203.4,65.1 203.9,62.7 204.4,61.1 204.9,60.5 205.4,60.8 205.9,62 206.4,63.7 206.9,65.8 207.4,67.9 207.9,69.3 208.4,70.1 208.9,70.6 209.4,71.7 209.9,73.5 210.4,75.7 210.9,77.6 211.4,78.9 211.9,79.1 212.4,78.1 212.9,75.8 213.4,72.5 213.9,68.4 214.4,64.1 214.9,60.4 215.4,58.2 215.9,57.4 216.4,57.7 216.9,59 217.4,60.9 217.9,63.1 218.4,64.6 218.9,65 219.4,64.1 219.9,62.8 220.4,62.6 220.9,63.8 221.4,65.6 221.9,66.3 222.4,65.2 222.9,62.6 223.4,59.8 224,57.8 224.5,56.7 225,55.9 225.5,55.2 226,54.2 226.5,53.6 227,53.9 227.5,55.8 228,59 228.5,63 229,67.5 229.5,72.2 230,76.8 230.5,80.3 231,81.3 231.5,79.1 232,74.7 232.5,70.1 233,67.3 233.5,67.1 234,70 234.5,75.3 235,81.2 235.5,85 236,86.6 236,86.7 236.5,85.5 237,82.1 237.5,77.4 238,73.4 238.5,71.4 239,70.7 239.5,70.7 240,71.3 240.5,72.4 241,73.3 241.5,73.5 242,72.9 242.5,71.7 243,70.1 243.5,68.1 244,65.6 244.5,63 245,61 245.5,59.8 246,58.9 246.5,57.6 247,56.1 247.5,53.9 248,50.7 248.5,49.6 248.5,49.6 249,51.2 249.5,54.7 250,59.7 250.5,63.9 251,65.1 251.5,63.9 252,62.2 252.5,61.2 253,61 253.5,61.3 254,61.8 254.5,62.2 255,62.3 255.5,62.2 256,61.9 256.5,61.4 257,60.2 257.5,58.5 258,56.5 258.5,54.7 259,53.3 259.5,52.6 260,53.1 260.5,54.9 261,57.9 261.5,61.3 262,64.3 262.5,66.1 263,66.7 263.5,66.5 264,66.2 264.5,66.3 265,67.1 265.5,68.6 266,70.6 266.5,73.1 267,75.9 267.5,78 268,78.2 268.5,76 269,72.4 269.5,68.8 270,66.3 270.5,65.1 271,65 271.6,65.7 272.1,67.1 272.6,68.7 273.1,69.6 273.6,69.4 274.1,68 274.6,65.6 275.1,62.6 275.6,60.2 276.1,60.7 276.6,65.9 277.1,74.8 277.6,82.8 278.1,89.4 278.6,94.5 279,96.1 279.1,96.1 279.6,93.6 280.1,88 280.6,81.3 281.1,77 281.6,73.6 282.1,70 282.6,66.1 283.1,62.7 283.6,60.8 284.1,60.7 284.6,62.2 285.1,64.7 285.6,67.5 286.1,69.7 286.6,71 287.1,71.1 287.6,70.3 288.1,69.3 288.6,68.9 289.1,69.6 289.6,70.6 290.1,70.9 290.6,69.7 291.1,67.2 291.6,64.6 292.1,63.2 292.6,63.5 293.1,65.3 293.6,67.8 294.1,70 294.6,71.1 295.1,70.7 295.6,68.8 296.1,66.1 296.6,63.4 297.1,61 297.6,59 298.1,57 298.6,54.9 299.1,52.8 299.6,51.2 300.1,50.4 300.6,51 301.1,53.1 301.6,56.4 302.1,60.3 302.6,64.1 303.1,67.1 303.6,69.2 304.1,70.5 304.6,71 305.1,70.1 305.6,66.6 306.1,60 306.6,52.9 307.1,47.7 307.6,44.6 307.9,44.2 308.1,44.7 308.6,48.1 309.1,53.3 309.6,59.6 310.1,64.4 310.6,67 311.1,68.3 311.6,68.3 312.1,66.6 312.6,63.1 313.1,58.6 313.6,54.6 314.1,52.4 314.6,52.2 315.1,53.4 315.6,55.6 316.1,58.9 316.6,62.9 317.1,67.2 317.6,71.2 318.1,74.3 318.6,75.8 319.2,75 319.7,72.1 320.2,67.9 320.7,64 321.2,61.4 321.7,60.5 322.2,61.3 322.7,63 323.2,64.7 323.7,65.4 324.2,64.8 324.7,63.9 325.2,63.7 325.7,64.6 326.2,66.2 326.7,67.1 327.2,66.4 327.7,64.4 328.2,61.7 328.7,59.6 329.2,58.8 329.7,59.5 330.2,61.2 330.7,63.4 331.2,65.7 331.7,67.7 332.2,69 332.7,69.3 333.2,68.9 333.7,68.2 334.2,67.3 334.7,66.5 335.2,65.9 335.7,65.8 336.2,66.3 336.7,67.6 337.2,69.2 337.7,70.4 338.2,70.4 338.7,69.1 339.2,66.9 339.7,64.8 340.2,63.8 340.7,64 341.2,64.6 341.7,64.6 342.2,63.7 342.7,62.5" fill="none" stroke="#e6141e" stroke-width="1.15" stroke-linejoin="round" />
<polyline points="199.9,64.6 200.4,62.3 200.9,60.6 201.4,59.9 201.9,60.2 202.4,60.9 202.9,61.7 203.4,62.6 203.9,63.7 204.4,65.4 204.9,67.5 205.4,69.5 205.9,70.7 206.4,70.7 206.9,69.5 207.4,67.8 207.9,66.7 208.4,67 208.9,69.3 209.4,73 209.9,77.1 210.4,79.8 210.9,79.7 211.4,76.3 211.9,70.7 212.4,64.9 212.9,60.8 213.4,58.9 213.9,58.9 214.4,60.1 214.9,62.4 215.4,65.6 215.9,69.4 216.4,72.6 216.9,74.2 217.4,74.2 217.9,73.6 218.4,73.5 218.9,74.4 219.4,75.7 219.9,76.7 220.4,76.6 220.9,75.1 221.4,72 221.9,67.6 222.4,62.4 222.9,57 223.4,52.4 224,49.5 224.5,48.8 225,49.8 225.5,51.6 226,53.5 226.5,55.4 227,57.5 227.5,59.6 228,61.5 228.5,63 229,64.1 229.5,65.1 230,65.8 230.5,65.9 231,65.5 231.5,64.8 232,64.4 232.5,64.8 233,66.1 233.5,68.1 234,70.2 234.5,71.9 235,72.6 235.5,72.4 236,71.5 236.5,70.3 237,69.1 237.5,67.9 238,66.7 238.5,65.8 239,65.8 239.5,66.6 240,67.7 240.5,68.2 241,67.9 241.5,66.9 242,65.6 242.5,64.6 243,63.9 243.5,63.6 244,64 244.5,65 245,66.5 245.5,67.8 246,68.8 246.5,69.6 247,70.6 247.5,72 248,73.8 248.5,75.7 249,77.3 249.5,78.4 250,78.5 250.5,77.4 251,75.6 251.5,73.5 252,71.6 252.5,70.5 253,70 253.5,69.8 254,69.4 254.5,68.8 255,68.7 255.5,69.9 256,72.8 256.5,76.8 257,80.2 257.5,80.2 257.7,78.7 258,74.9 258.5,66.9 259,62.3 259.5,56.4 259.7,54.6 260,53.5 260.5,54.3 261,57.9 261.5,60.7 262,61.2 262.5,60.5 263,60 263.5,60.1 264,60.8 264.5,61.5 265,62 265.5,62.3 266,62.5 266.5,63.1 267,64 267.5,64.6 268,64.6 268.5,63.7 269,62.4 269.5,61.2 270,60.5 270.5,60.3 271,60.4 271.6,60 272.1,59 272.6,57.6 273.1,56.7 273.6,57.2 274.1,59.6 274.6,63.7 275.1,68.7 275.6,73.2 276.1,76 276.6,76.4 277.1,74.8 277.6,72.6 278.1,70.8 278.6,69.9 279.1,69.1 279.6,67.7 280.1,65.5 280.6,62.9 281.1,60.5 281.6,58.2 282.1,56 282.6,54.6 283.1,54.8 283.6,57.2 284.1,61.4 284.6,66.1 285.1,69.8 285.6,71.7 286.1,71.7 286.6,70.4 287.1,68.5 287.6,67.2 288.1,67 288.6,68 289.1,69.5 289.6,70.7 290.1,71.4 290.6,72 291.1,72.7 291.6,73.8 292.1,75.4 292.6,78.3 293.1,82.8 293.6,86.1 294,87.1 294.1,87 294.6,85.1 295.1,81.2 295.6,76.2 296.1,72.5 296.6,69.7 297.1,67.3 297.6,65.6 298.1,64.6 298.6,63.6 299.1,61.9 299.6,59 300.1,55.4 300.6,52.1 301.1,50 301.6,49.8 302.1,51.1 302.6,53.3 303.1,56 303.6,59.2 304.1,62.6 304.6,65.9 305.1,68.7 305.6,70.9 306.1,72.7 306.6,73.9 307.1,74.3 307.6,73.6 308.1,72.2 308.6,70.5 309.1,69 309.6,68 310.1,67.1 310.6,66.4 311.1,66.2 311.6,67 312.1,68.7 312.6,70.6 313.1,71.5 313.6,70.7 314.1,68.4 314.6,65.8 315.1,64.2 315.6,64 316.1,64.8 316.6,65.3 317.1,64.4 317.6,62.4 318.1,60.1 318.6,58.5 319.2,58 319.7,58.8 320.2,61 320.7,64.8 321.2,69.6 321.7,74 322.2,76.4 322.7,76 323.2,73 323.7,68.5 324.2,63.5 324.7,58.5 325.2,54.1 325.7,50.7 326.1,49.6 326.2,49.6 326.7,51.1 327.2,54.6 327.7,60.8 328.2,67.5 328.7,71.6 329.2,71.8 329.7,69.1 330.2,65.5 330.7,63 331.2,62.5 331.7,63.9 332.2,66.3 332.7,68.7 333.2,70.2 333.7,71.3 334.2,72.3 334.7,73.2 335.2,73.5 335.7,72.4 336.2,69.7 336.7,66.1 337.2,63 337.7,61.3 338.2,61.3 338.7,61.7 339.2,61.2 339.7,59.5 340.2,57.3 340.7,56.5 341.2,57.9 341.7,61.2 342.2,65.2 342.7,68.3" fill="none" stroke="#e6141e" stroke-width="1.15" stroke-linejoin="round" />
<polyline points="199.9,75.9 200.4,77.5 200.9,77.7 201.4,75.9 201.9,72.4 202.4,67.9 202.9,63.4 203.4,60.2 203.9,59.3 204.4,60.9 204.9,64.2 205.4,67.2 205.9,67.9 206.4,65.5 206.9,61 207.4,56.9 207.9,55 208,54.9 208.4,55.5 208.9,58.7 209.4,63.1 209.9,67 210.4,69.7 210.9,71.2 211.4,72.3 211.9,73.4 212.4,75 212.9,76.7 213.4,78 213.9,78.3 214.4,77.1 214.9,74.9 215.4,72.3 215.9,69.9 216.4,68 216.9,66.8 217.4,66.3 217.9,66 218.4,65.4 218.9,64.3 219.4,63 219.9,61.9 220.4,61.4 220.9,61.5 221.4,62 221.9,62.7 222.4,63.6 222.9,64.5 223.4,65 224,64.8 224.5,64.2 225,63.7 225.5,63.9 226,64.8 226.5,65.8 227,66.4 227.5,66.4 228,66 228.5,65.6 229,65.2 229.5,64.9 230,65 230.5,66.2 231,68.6 231.5,71.7 232,74.4 232.5,75.8 233,75.8 233.5,74.9 234,74.2 234.5,74.3 235,75.3 235.5,76.8 236,78.3 236.5,79.3 237,80.2 237.5,81.2 238,82.1 238.5,82.2 239,81 239.5,79.2 240,77.9 240.5,77.5 241,77.4 241.5,76.6 242,74.7 242.5,72.3 243,70.4 243.5,69.5 244,69.1 244.5,68.7 245,67.9 245.5,66.7 246,65.4 246.5,64.3 247,64.2 247.5,65.4 248,67.9 248.5,70.6 249,72.5 249.5,73.2 250,73.3 250.5,73.5 251,73.8 251.5,73.3 252,71.4 252.5,68.5 253,65.5 253.5,63.3 254,61.6 254.5,59.5 255,56.6 255.5,53.3 256,51.5 256.5,52.4 257,55.6 257.5,59.5 258,62.1 258.5,62.4 259,61.1 259.5,59.5 260,59.1 260.5,60.2 261,62.1 261.5,63.7 262,64.3 262.5,63.9 263,63.1 263.5,62.7 264,63.2 264.5,64.7 265,66.5 265.5,66.7 266,63.7 266.5,57.5 267,51.9 267.5,48.1 268,46.7 268,46.7 268.5,48.4 269,52.5 269.5,58 270,62.9 270.5,64.3 271,63 271.6,60.9 272.1,60.3 272.6,62.4 273.1,67.2 273.6,73.1 274.1,77.9 274.6,79.7 275.1,78.3 275.6,74.7 276.1,70.2 276.6,66.4 277.1,64 277.6,63.1 278.1,63.1 278.6,62.8 279.1,62 279.6,61.6 280.1,62 280.6,63.6 281.1,65.9 281.6,68.4 282.1,70.7 282.6,72.5 283.1,73.3 283.6,73.1 284.1,72.4 284.6,71.7 285.1,71.3 285.6,71 286.1,70.9 286.6,71.6 287.1,73 287.6,74.3 288.1,74.7 288.6,73.6 289.1,71.4 289.6,68.9 290.1,67.1 290.6,66.3 291.1,66.5 291.6,67.2 292.1,67.7 292.6,67.8 293.1,67.7 293.6,68 294.1,68.7 294.6,69.2 295.1,68.5 295.6,66.6 296.1,64 296.6,61.6 297.1,60.2 297.6,59.5 298.1,59.2 298.6,59 299.1,59 299.6,59.3 300.1,59.7 300.6,60 301.1,60.6 301.6,62.4 302.1,65.7 302.6,69.6 303.1,72.8 303.6,74.5 304.1,75.3 304.6,76.9 305.1,80.3 305.6,85.9 306.1,90.2 306.6,91.6 306.6,91.6 307.1,89.5 307.6,84.8 308.1,79.2 308.6,73.6 309.1,68.8 309.6,65.1 310.1,62.1 310.6,59.5 311.1,57.6 311.6,56.8 312.1,57.2 312.6,58.7 313.1,61.1 313.6,64.2 314.1,67.7 314.6,71.2 315.1,74 315.6,75.5 316.1,75.7 316.6,74.7 317.1,73.5 317.6,72.8 318.1,72.7 318.6,72.8 319.2,72.3 319.7,71.2 320.2,70.1 320.7,69.9 321.2,70.6 321.7,71.6 322.2,71.9 322.7,70.9 323.2,69 323.7,66.9 324.2,64.9 324.7,63.2 325.2,62 325.7,61.7 326.2,62.5 326.7,64.4 327.2,66.8 327.7,68.8 328.2,69.7 328.7,69.1 329.2,68.1 329.7,67.8 330.2,68.2 330.7,68.3 331.2,67.1 331.7,64.9 332.2,63.6 332.7,64.4 333.2,67 333.7,70.2 334.2,72.7 334.7,73.8 335.2,73.6 335.7,72.2 336.2,70.5 336.7,69.6 337.2,70.1 337.7,71.8 338.2,73.3 338.7,73.6 339.2,72.4 339.7,70.7 340.2,69.3 340.7,68.8 341.2,69.1 341.7,70 342.2,71.7 342.7,74.2" fill="none" stroke="#e6141e" stroke-width="1.15" stroke-linejoin="round" />
<polyline points="199.9,66.9 200.4,67.8 200.9,68.1 201.4,67.5 201.9,66.3 202.4,65 202.9,64 203.4,63.3 203.9,62.7 204.4,62.1 204.9,61.3 205.4,61 205.9,62.2 206.4,65 206.9,68.4 207.4,71 207.9,71.7 208.4,70.8 208.9,68.7 209.4,66.5 209.9,64.5 210.4,62.7 210.9,60.6 211.4,58.2 211.9,56.2 212.4,55.9 212.9,57.8 213.4,61 213.9,63.6 214.4,64 214.9,62 215.4,59 215.9,56.6 216.4,55.7 216.5,55.7 216.9,56.4 217.4,58.5 217.9,61.4 218.4,63.7 218.9,64.2 219.4,62.7 219.9,60.4 220.4,58.9 220.9,59.1 221.4,60.9 221.9,63 222.4,63.5 222.9,61.5 223.4,57.9 224,54.5 224.5,53.2 225,54.1 225.5,56.3 226,58.9 226.5,61.5 227,64.2 227.5,67.1 228,69.2 228.5,69.4 229,67.1 229.5,62.9 230,58.9 230.5,56.7 231,57.2 231.5,59.7 232,62.6 232.5,65.2 233,67.2 233.5,68.8 234,69.9 234.5,70.3 235,70.3 235.5,69.8 236,68.9 236.5,67.5 237,66 237.5,64.9 238,64.5 238.5,64.7 239,65.6 239.5,66.8 240,68 240.5,68.6 241,68.4 241.5,67.5 242,66.5 242.5,66 243,66 243.5,66.2 244,66.1 244.5,65.7 245,64.8 245.5,63.8 246,63.2 246.5,63.1 247,63.7 247.5,65 248,67 248.5,69.8 249,72.6 249.5,74.8 250,75.8 250.5,75.7 251,74.9 251.5,73.9 252,73 252.5,72.3 253,72.3 253.5,73.5 254,75.4 254.5,77.1 255,77.4 255.5,75.6 256,72.3 256.5,68.8 257,66.3 257.5,65.2 258,64.7 258.5,64.3 259,63.8 259.5,64.2 260,66.1 260.5,68.9 261,71.1 261.5,71.6 262,70.2 262.5,67.9 263,65.7 263.5,64 264,62.9 264.5,62.5 265,63.1 265.5,64.7 266,67.4 266.5,70.9 267,74.4 267.5,76.8 268,77 268.5,75.2 269,72 269.5,69.1 270,67.6 270.5,67.7 271,68.4 271.6,68.8 272.1,68.3 272.6,67.4 273.1,66.7 273.6,66.5 274.1,66.9 274.6,68 275.1,69.8 275.6,72.3 276.1,75.1 276.6,77.4 277.1,78.5 277.6,78 278.1,76.3 278.6,74 279.1,72.2 279.6,71.2 280.1,71.3 280.6,72.1 281.1,72.9 281.6,73.1 282.1,72.5 282.6,71.5 283.1,70.6 283.6,70.1 284.1,70.1 284.6,70 285.1,69.1 285.6,67.2 286.1,65.1 286.6,63.8 287.1,64.1 287.6,65.7 288.1,67.8 288.6,69.3 289.1,69.5 289.6,68.5 290.1,67.1 290.6,66.5 291.1,67.3 291.6,69.4 292.1,71.4 292.6,72.2 293.1,71.1 293.6,68.3 294.1,64.4 294.6,60.4 295.1,56.6 295.6,53.9 296.1,53 296.6,54.4 297.1,57.7 297.6,61.5 298.1,64.7 298.6,66.8 299.1,68.1 299.6,69.2 300.1,70.5 300.6,71.5 301.1,71.6 301.6,70.5 302.1,69 302.6,68 303.1,67.8 303.6,67.7 304.1,67 304.6,65.9 305.1,65.1 305.6,65.3 306.1,66.6 306.6,68.8 307.1,71.3 307.6,73.8 308.1,75.9 308.6,77.3 309.1,78.2 309.6,78.8 310.1,78.9 310.6,78.4 311.1,76.7 311.6,73.6 312.1,69 312.6,63.6 313.1,58.1 313.6,53.9 314.1,52 314.6,53 315.1,56.4 315.6,60.8 316.1,64.2 316.6,65.8 317.1,65.7 317.6,65 318.1,64.8 318.6,65.3 319.2,66.5 319.7,67.6 320.2,67.9 320.7,67.2 321.2,65.8 321.7,64.1 322.2,63.1 322.7,63.3 323.2,65 323.7,67.6 324.2,70.3 324.7,72.1 325.2,72.2 325.7,70.5 326.2,67.6 326.7,64.6 327.2,62.4 327.7,61.4 328.2,61.2 328.7,61.7 329.2,62.6 329.7,63.8 330.2,65.2 330.7,66 331.2,65.8 331.7,64.9 332.2,63.6 332.7,62.3 333.2,61.2 333.7,60.4 334.2,60.3 334.7,61 335.2,62 335.7,62.6 336.2,62.3 336.7,61.3 337.2,60.6 337.7,61 338.2,63 338.7,66.1 339.2,69.3 339.7,72 340.2,73.3 340.7,73 341.2,70.8 341.7,67.2 342.2,63.2 342.7,59.9" fill="none" stroke="#e6141e" stroke-width="1.15" stroke-linejoin="round" />
<polyline points="199.9,60.6 200.4,58.5 200.9,57.6 201.4,58.6 201.9,61.5 202.4,65.4 202.9,69.1 203.4,72.2 203.9,74.8 204.4,76.9 204.9,78.4 205.4,79 205.9,78.3 206.4,76.4 206.9,73.7 207.4,70.7 207.9,68.3 208.4,66.7 208.9,65.7 209.4,64.7 209.9,63.5 210.4,62.3 210.9,61.5 211.4,61 211.9,60.1 212.4,58.4 212.9,56 213.4,53.8 213.9,52.2 214.4,51.8 214.9,52.6 215.4,54.5 215.9,57.3 216.4,60.8 216.9,65 217.4,69.4 217.9,73.4 218.4,76.1 218.9,77.3 219.4,77.5 219.9,77.1 220.4,76.1 220.9,74.4 221.4,71.9 221.9,68.9 222.4,65.9 222.9,63.7 223.4,63 224,63.6 224.5,65.3 225,67.4 225.5,68.7 226,68.7 226.5,67.3 227,65 227.5,62.7 228,60.8 228.5,59.2 229,57.9 229.5,57.2 230,57.9 230.5,60.4 231,64.6 231.5,69.7 232,74.4 232.5,77.7 233,79.2 233.5,78.7 234,76.2 234.5,72.3 235,68.1 235.5,65 236,63.8 236.5,64.1 237,65 237.5,65.4 238,65.2 238.5,64.7 239,64.2 239.5,64.1 240,64.8 240.5,66.5 241,69.2 241.5,72.5 242,75.7 242.5,78.2 243,79.5 243.5,79.5 244,78.4 244.5,76.6 245,74.7 245.5,72.8 246,70.6 246.5,68.2 247,66.1 247.5,64.9 248,65.2 248.5,66.5 249,68.1 249.5,69.2 250,69.4 250.5,69 251,68 251.5,67 252,66.4 252.5,66.8 253,68.4 253.5,70.9 254,73.4 254.5,74.9 255,74.7 255.5,72.8 256,69.7 256.5,66.5 257,64 257.5,63 258,63.8 258.5,66.1 259,68.9 259.5,71 260,71.9 260.5,72 261,71.7 261.5,71.4 262,71.2 262.5,70.9 263,70.8 263.5,71.2 264,72.4 264.5,74.3 265,76.1 265.5,77.1 266,77.2 266.5,76.5 267,75.7 267.5,75.1 268,75.3 268.5,76 269,76.8 269.5,77 270,76 270.5,73.9 271,71.2 271.6,68.8 272.1,67.9 272.6,68.7 273.1,70 273.6,70.2 274.1,68.7 274.6,66 275.1,63.6 275.6,62.6 276.1,63.2 276.6,65 277.1,67.6 277.6,70.7 278.1,73.5 278.6,75.2 279.1,75.4 279.6,74 280.1,72 280.6,70.2 281.1,68.9 281.6,68.2 282.1,67.8 282.6,67.6 283.1,67.7 283.6,67.8 284.1,67.9 284.6,67.9 285.1,67.7 285.6,67.2 286.1,66.4 286.6,65.8 287.1,65.6 287.6,65.8 288.1,66.7 288.6,68.3 289.1,70.4 289.6,72.3 290.1,73.1 290.6,71.8 291.1,68.8 291.6,65.1 292.1,62.5 292.6,62.6 293.1,65 293.6,68.5 294.1,71.1 294.6,72.2 295.1,71.9 295.6,70.9 296.1,69.5 296.6,67.7 297.1,65.8 297.6,64.3 298.1,63.8 298.6,64.7 299.1,66.7 299.6,68.7 300.1,69.9 300.6,70 301.1,69.2 301.6,68 302.1,66.8 302.6,65.8 303.1,65 303.6,64.4 304.1,64.1 304.6,64.5 305.1,65.5 305.6,66.8 306.1,67.6 306.6,67.4 307.1,65.9 307.6,63.5 308.1,61 308.6,59.4 309.1,59.6 309.6,61.9 310.1,65.4 310.6,69.1 311.1,71.5 311.6,72.1 312.1,71.4 312.6,70.1 313.1,68.3 313.6,65.8 314.1,62.7 314.6,59.9 315.1,58.2 315.6,58.1 316.1,59.5 316.6,62.1 317.1,65.4 317.6,68.7 318.1,71.1 318.6,72 319.2,71.1 319.7,69.3 320.2,67.2 320.7,65.9 321.2,65.9 321.7,67.5 322.2,70.3 322.7,73.1 323.2,75 323.7,75.6 324.2,75.2 324.7,74.4 325.2,73.4 325.7,72.3 326.2,70.9 326.7,69.6 327.2,68.1 327.7,66.5 328.2,64.9 328.7,64 329.2,64.3 329.7,65.5 330.2,67 330.7,68.4 331.2,69.4 331.7,70.1 332.2,70.5 332.7,70.2 333.2,69.4 333.7,68.3 334.2,67.6 334.7,67.2 335.2,67 335.7,66.8 336.2,66.6 336.7,66.4 337.2,66 337.7,65.1 338.2,64.1 338.7,63.7 339.2,64.4 339.7,66.2 340.2,68.2 340.7,69.7 341.2,70.5 341.7,70.6 342.2,70.2 342.7,69.3" fill="none" stroke="#e6141e" stroke-width="1.15" stroke-linejoin="round" />
<polyline points="199.9,64.2 200.4,66.7 200.9,69.8 201.4,72.9 201.9,74.9 202.4,75.2 202.9,74 203.4,72 203.9,70.2 204.4,69 204.9,68.8 205.4,69.4 205.9,70.3 206.4,71.2 206.9,72 207.4,72.7 207.9,73.6 208.4,74.7 208.9,76 209.4,77.2 209.9,77.8 210.4,77.6 210.9,76.3 211.4,74.3 211.9,72.1 212.4,70.3 212.9,69.1 213.4,68.6 213.9,68.7 214.4,69.3 214.9,69.6 215.4,69.1 215.9,67.4 216.4,64.7 216.9,61.9 217.4,59.6 217.9,58 218.4,57.3 218.9,57.5 219.4,58.5 219.9,59.9 220.4,61.1 220.9,61.8 221.4,61.7 221.9,61.3 222.4,61.1 222.9,62 223.4,63.8 224,65.9 224.5,67.1 225,67 225.5,65.7 226,64.1 226.5,63.2 227,63.7 227.5,65.7 228,68.5 228.5,71.2 229,73.1 229.5,73.8 230,73.7 230.5,73.4 231,73.4 231.5,73.6 232,73.7 232.5,73.6 233,73.2 233.5,72.9 234,72.9 234.5,73.3 235,73.8 235.5,74.1 236,73.9 236.5,73.4 237,72.6 237.5,71.5 238,70 238.5,67.9 239,65.3 239.5,62.7 240,60.8 240.5,59.7 241,59.6 241.5,60 242,60.6 242.5,61.2 243,61.7 243.5,62.2 244,63.1 244.5,64.5 245,66.1 245.5,67.7 246,69.1 246.5,70 247,70.3 247.5,70 248,69.3 248.5,68.3 249,67.2 249.5,66.1 250,65.2 250.5,65.2 251,65.9 251.5,67.1 252,68.4 252.5,69.7 253,71 253.5,72.5 254,74.2 254.5,76 255,77.9 255.5,79.7 256,81 256.5,81.2 257,80 257.5,77.6 258,74.6 258.5,71.6 259,69.3 259.5,67.6 260,66.5 260.5,65.8 261,65.3 261.5,64.9 262,64.8 262.5,65.4 263,66.7 263.5,68.6 264,70.6 264.5,72.6 265,75 265.5,77.8 266,80.5 266.5,82.4 267,82.7 267.5,81.1 268,77.9 268.5,74.2 269,70.8 269.5,68 270,65.8 270.5,64.1 271,63 271.6,62.7 272.1,62.8 272.6,63 273.1,63.2 273.6,63.4 274.1,63.7 274.6,63.6 275.1,62.6 275.6,60.9 276.1,59.1 276.6,57.9 277.1,57.7 277.6,58 278.1,58.6 278.6,59.6 279.1,61.3 279.6,63.4 280.1,65.5 280.6,67.1 281.1,68.2 281.6,69 282.1,70.1 282.6,71.2 283.1,72.2 283.6,72.7 284.1,72.3 284.6,70.9 285.1,68.7 285.6,66.5 286.1,65.3 286.6,66.1 287.1,68.4 287.6,70.8 288.1,71.5 288.6,69.9 289.1,66.8 289.6,63.7 290.1,62 290.6,62.3 291.1,64.4 291.6,67.3 292.1,69.8 292.6,71.1 293.1,70.7 293.6,69.1 294.1,67.1 294.6,65.8 295.1,65.5 295.6,66.2 296.1,67.6 296.6,69.6 297.1,72 297.6,74.4 298.1,76.1 298.6,76.7 299.1,76 299.6,74.5 300.1,73.1 300.6,72.6 301.1,73 301.6,73.6 302.1,73.6 302.6,72.5 303.1,70.9 303.6,69.3 304.1,68.3 304.6,67.7 305.1,67.1 305.6,66.3 306.1,65.4 306.6,64.5 307.1,64 307.6,63.7 308.1,63.9 308.6,64.5 309.1,65.4 309.6,66.3 310.1,67.1 310.6,67.7 311.1,68.2 311.6,68.8 312.1,69.6 312.6,70.4 313.1,70.9 313.6,70.6 314.1,69.5 314.6,68.3 315.1,67.6 315.6,67.7 316.1,68.3 316.6,69.1 317.1,69.8 317.6,70.3 318.1,70.7 318.6,70.6 319.2,70.2 319.7,69.3 320.2,68.3 320.7,67.3 321.2,66.6 321.7,66.5 322.2,66.9 322.7,67.7 323.2,68.8 323.7,70 324.2,70.7 324.7,70.4 325.2,69.3 325.7,67.8 326.2,66.4 326.7,65.6 327.2,65.2 327.7,64.9 328.2,64.6 328.7,64.1 329.2,63.4 329.7,62.6 330.2,62.3 330.7,63 331.2,64.6 331.7,66.7 332.2,68.8 332.7,70.5 333.2,71.6 333.7,72 334.2,71.6 334.7,70.3 335.2,68.6 335.7,66.7 336.2,65.4 336.7,65.2 337.2,66.2 337.7,68.1 338.2,69.6 338.7,70.3 339.2,70.3 339.7,70.1 340.2,70.2 340.7,70.3 341.2,70 341.7,69.1 342.2,67.6 342.7,65.9" fill="none" stroke="#e6141e" stroke-width="1.15" stroke-linejoin="round" />
<polyline points="199.9,65.2 200.4,64.9 200.9,64.5 201.4,64.5 201.9,64.4 202.4,63.8 202.9,62.1 203.4,59.5 203.9,56.8 204.4,55 204.9,55.4 205.4,58.1 205.9,61.9 206.4,65.5 206.9,67.8 207.4,68.6 207.9,68.5 208.4,68.4 208.9,68.5 209.4,68.5 209.9,68.1 210.4,67.2 210.9,66.3 211.4,65.9 211.9,66.1 212.4,66.6 212.9,66.7 213.4,66.1 213.9,64.8 214.4,63 214.9,61.5 215.4,61 215.9,62.1 216.4,64.2 216.9,66.2 217.4,67.4 217.9,68 218.4,69.2 218.9,71.7 219.4,74.9 219.9,77.7 220.4,79.2 220.9,79.3 221.4,78.3 221.9,76.9 222.4,75.6 222.9,74.4 223.4,72.8 224,70.3 224.5,67.3 225,64.7 225.5,63.2 226,62.7 226.5,62.5 227,62.1 227.5,61.6 228,61.7 228.5,62.7 229,64.6 229.5,66.8 230,68.4 230.5,68.8 231,68.4 231.5,68.2 232,69 232.5,70.7 233,72 233.5,71.7 234,69.4 234.5,66.2 235,63.8 235.5,63.6 236,65.5 236.5,68.4 237,70.7 237.5,71.6 238,70.7 238.5,68.5 239,65.7 239.5,63.6 240,63.4 240.5,65.1 241,67.4 241.5,68.9 242,68.8 242.5,67.3 243,65.1 243.5,62.5 244,59.9 244.5,58.2 245,58.4 245.5,61.4 246,66.3 246.5,71.2 247,74.7 247.5,76.2 248,76.3 248.5,75.8 249,75 249.5,74 250,72.6 250.5,71.2 251,70 251.5,69.2 252,69.1 252.5,70 253,72 253.5,74.4 254,76.3 254.5,76.7 255,75.6 255.5,73.2 256,70.6 256.5,68.6 257,68.2 257.5,69.2 258,70.7 258.5,71.1 259,69.5 259.5,66.4 260,62.9 260.5,60.3 261,59.1 261.5,59 262,59.4 262.5,59.8 263,60.2 263.5,61.2 264,63.1 264.5,66.1 265,69.8 265.5,73.4 266,76.2 266.5,77.2 267,75.7 267.5,72 268,67.7 268.5,64.7 269,64.1 269.5,65.7 270,68.7 270.5,72 271,74.6 271.6,76.3 272.1,77.3 272.6,77.6 273.1,77.2 273.6,75.9 274.1,73.8 274.6,71.4 275.1,69.3 275.6,67.5 276.1,65.8 276.6,64.4 277.1,63.7 277.6,63.9 278.1,65.3 278.6,67.1 279.1,68.7 279.6,69.2 280.1,68.3 280.6,66.3 281.1,63.9 281.6,62.2 282.1,61.7 282.6,62.2 283.1,62.9 283.6,63.5 284.1,63.9 284.6,64.2 285.1,64.4 285.6,64.5 286.1,64.1 286.6,63 287.1,61.6 287.6,60.5 288.1,60.2 288.6,60.9 289.1,62.3 289.6,63.9 290.1,64.9 290.6,64.8 291.1,63.4 291.6,61.6 292.1,60.3 292.6,60.7 293.1,63.1 293.6,66.7 294.1,70.3 294.6,72.4 295.1,72.3 295.6,70.4 296.1,67.8 296.6,66.1 297.1,65.8 297.6,66.5 298.1,67 298.6,66.6 299.1,65.4 299.6,63.3 300.1,60.9 300.6,59 301.1,58.8 301.6,61.1 302.1,64.9 302.6,68.2 303.1,69.4 303.6,68.6 304.1,66.6 304.6,65 305.1,65.2 305.6,67.4 306.1,71 306.6,74.7 307.1,76.8 307.6,76.4 308.1,73.5 308.6,69.5 309.1,65.7 309.6,63.2 310.1,62 310.6,61.5 311.1,60.9 311.6,59.9 312.1,59.2 312.6,59.4 313.1,60.9 313.6,62.8 314.1,63.9 314.6,63.8 315.1,62.9 315.6,62.3 316.1,62.6 316.6,63.5 317.1,64.3 317.6,64.5 318.1,63.9 318.6,62.8 319.2,61.8 319.7,61.4 320.2,61.5 320.7,61.9 321.2,62.4 321.7,63.1 322.2,64 322.7,64.8 323.2,64.8 323.7,63.5 324.2,61.6 324.7,60.2 325.2,60.5 325.7,62.2 326.2,64.4 326.7,66.4 327.2,67.7 327.7,68.6 328.2,69.1 328.7,69.1 329.2,68.7 329.7,68.1 330.2,67.9 330.7,68.3 331.2,69.5 331.7,70.9 332.2,71.7 332.7,71.2 333.2,69.2 333.7,66.5 334.2,64 334.7,62.5 335.2,62.5 335.7,63.7 336.2,65.7 336.7,68.3 337.2,71.1 337.7,73.5 338.2,74.7 338.7,74.2 339.2,72.8 339.7,71.5 340.2,70.8 340.7,70.5 341.2,69.8 341.7,68.1 342.2,65.8 342.7,64.2" fill="none" stroke="#e6141e" stroke-width="1.15" stroke-linejoin="round" />
<line x1="199.9" y1="67.7" x2="279.87" y2="67.7" stroke="#5a06a6" stroke-width="2.8"/>
<polyline points="279.9,67.3 280.2,67.4 280.5,66 280.9,67.4 281.2,69.3 281.6,69.9 281.9,70.2 282.2,70.6 282.6,68 282.9,66.9 283.3,66.9 283.6,66.7 283.9,66 284.3,67.7 284.6,69.3 285,67.6 285.3,68.7 285.6,66.3 286,64 286.3,67.3 286.6,74 287,71 287.3,67.9 287.7,70 288,74.2 288.3,71.9 288.7,70.6 289,66.4 289.4,62.4 289.7,62.1 290,67.1 290.4,72.9 290.7,71.9 291,68.1 291.4,66 291.7,63.1 292.1,65.8 292.4,67.3 292.7,66.6 293.1,63.3 293.4,65.4 293.8,66.1 294.1,67.7 294.4,71.8 294.8,71.6 295.1,68.8 295.5,70.1 295.8,69.8 296.1,67.7 296.5,68.9 296.8,70.1 297.1,69.3 297.5,68.9 297.8,68.5 298.2,67.4 298.5,66.6 298.8,67.3 299.2,67.4 299.5,67.3 299.9,68.1" fill="none" stroke="#1a7a1a" stroke-width="1.0" stroke-linejoin="round" />
<polyline points="279.9,70.1 280.2,69 280.5,69.3 280.9,69.4 281.2,68.4 281.6,68.7 281.9,70.1 282.2,69.4 282.6,66.6 282.9,69.6 283.3,69.5 283.6,67.6 283.9,66.4 284.3,65.2 284.6,67.1 285,67.7 285.3,64.4 285.6,65.8 286,66.6 286.3,65.8 286.6,64.8 287,63 287.3,69 287.7,66.5 288,64 288.3,70.9 288.7,70.7 289,68.2 289.4,68.6 289.7,70.6 290,72.8 290.4,70.5 290.7,70.5 291,71.8 291.4,70.1 291.7,70.4 292.1,69.3 292.4,69.7 292.7,68.8 293.1,71.3 293.4,68.3 293.8,67.2 294.1,69.2 294.4,68.8 294.8,66.1 295.1,64.7 295.5,66.7 295.8,67.6 296.1,68 296.5,70.6 296.8,69.6 297.1,66.8 297.5,64.9 297.8,65.8 298.2,66.5 298.5,68.2 298.8,67.7 299.2,65.6 299.5,67.9 299.9,70" fill="none" stroke="#1a7a1a" stroke-width="1.0" stroke-linejoin="round" />
<polyline points="279.9,68.4 280.2,67.5 280.5,67.2 280.9,68.4 281.2,67.9 281.6,66.7 281.9,66.2 282.2,68.2 282.6,68.1 282.9,68 283.3,66.1 283.6,66.6 283.9,67.2 284.3,65.6 284.6,66.8 285,69.7 285.3,71.5 285.6,71.1 286,69.5 286.3,71.6 286.6,72.8 287,71.4 287.3,68.5 287.7,69.3 288,66.2 288.3,66.6 288.7,71.3 289,68.6 289.4,67.2 289.7,67.9 290,65.2 290.4,67.7 290.7,70.8 291,71.8 291.4,68.2 291.7,67.4 292.1,71.8 292.4,74 292.7,72.3 293.1,70.3 293.4,68.3 293.8,69 294.1,72 294.4,71.7 294.8,69.5 295.1,68.2 295.5,67.6 295.8,67.9 296.1,68.9 296.5,67.4 296.8,69.4 297.1,71 297.5,69.2 297.8,67.1 298.2,65.2 298.5,64.8 298.8,65.2 299.2,67.2 299.5,68.2 299.9,66.1" fill="none" stroke="#1a7a1a" stroke-width="1.0" stroke-linejoin="round" />
<polyline points="279.9,66.5 280.2,67.4 280.5,68.8 280.9,67.8 281.2,67.4 281.6,69.3 281.9,68.5 282.2,69.3 282.6,66.6 282.9,66.9 283.3,68 283.6,67.5 283.9,67.6 284.3,68.8 284.6,68.4 285,68.4 285.3,66.5 285.6,65.5 286,63.3 286.3,62.5 286.6,63.6 287,68.7 287.3,65.9 287.7,68.3 288,68.5 288.3,67.6 288.7,69.8 289,68.8 289.4,69.5 289.7,71.1 290,69.1 290.4,70.7 290.7,68.1 291,66.4 291.4,68.2 291.7,72 292.1,72.1 292.4,67.1 292.7,63.2 293.1,64.9 293.4,67.7 293.8,66 294.1,64.5 294.4,65.3 294.8,65.4 295.1,66.8 295.5,68.7 295.8,67.2 296.1,66 296.5,68.2 296.8,72.5 297.1,71.6 297.5,66.4 297.8,65.4 298.2,66.9 298.5,67.4 298.8,66 299.2,68.6 299.5,69.6 299.9,67.1" fill="none" stroke="#1a7a1a" stroke-width="1.0" stroke-linejoin="round" />
<polyline points="279.9,65.6 280.2,66.7 280.5,67.5 280.9,67.6 281.2,68.4 281.6,67.7 281.9,66.5 282.2,68.6 282.6,68.4 282.9,68.5 283.3,69.8 283.6,70.8 283.9,72.3 284.3,69.5 284.6,67.7 285,68.8 285.3,67.2 285.6,67.9 286,69 286.3,72 286.6,73 287,71.5 287.3,70.2 287.7,69.3 288,64.3 288.3,64.5 288.7,69.3 289,70.2 289.4,68 289.7,66 290,62.4 290.4,60.9 290.7,63.3 291,66.7 291.4,67.1 291.7,66.3 292.1,67.6 292.4,64.7 292.7,67.2 293.1,70 293.4,64.8 293.8,63.7 294.1,64.5 294.4,68.2 294.8,71 295.1,70 295.5,64.3 295.8,66 296.1,69.7 296.5,70.1 296.8,69.5 297.1,68.4 297.5,68.3 297.8,68.8 298.2,68.7 298.5,68.4 298.8,67.5 299.2,68.6 299.5,68.8 299.9,67.3" fill="none" stroke="#1a7a1a" stroke-width="1.0" stroke-linejoin="round" />
<polyline points="279.9,67.5 280.2,67.2 280.5,66.9 280.9,66.6 281.2,68.1 281.6,69 281.9,68.3 282.2,68.8 282.6,69.5 282.9,67.5 283.3,67.2 283.6,67.7 283.9,67.6 284.3,67.9 284.6,69.8 285,67.3 285.3,68.5 285.6,72 286,75.4 286.3,69.9 286.6,67.2 287,72 287.3,72 287.7,70.4 288,67.2 288.3,59.9 288.7,64.2 289,67.8 289.4,71.6 289.7,72.5 290,68.7 290.4,69.3 290.7,73.2 291,68.1 291.4,65.4 291.7,71 292.1,68.9 292.4,63.3 292.7,64.7 293.1,65.1 293.4,67.9 293.8,68 294.1,69 294.4,67.5 294.8,64.3 295.1,64.8 295.5,67.1 295.8,65.1 296.1,66 296.5,67 296.8,67.3 297.1,67.7 297.5,68.5 297.8,69.6 298.2,70.4 298.5,69.8 298.8,68.5 299.2,68.2 299.5,69 299.9,69.4" fill="none" stroke="#1a7a1a" stroke-width="1.0" stroke-linejoin="round" />
<polyline points="279.9,66.8 280.2,67.1 280.5,66.5 280.9,66.1 281.2,65.5 281.6,66.2 281.9,68.4 282.2,67.8 282.6,68.1 282.9,69.4 283.3,68.9 283.6,66.6 283.9,66.3 284.3,66.4 284.6,67.5 285,66 285.3,68.2 285.6,67.7 286,68.5 286.3,67.3 286.6,68 287,68.1 287.3,68.6 287.7,72 288,78.7 288.3,72.8 288.7,67.5 289,61.8 289.4,61.7 289.7,68 290,71 290.4,67.1 290.7,63.4 291,62.3 291.4,64.6 291.7,65.5 292.1,65.8 292.4,72.5 292.7,69.6 293.1,70.4 293.4,69.9 293.8,69.9 294.1,68.5 294.4,69.4 294.8,70 295.1,65 295.5,67.2 295.8,69 296.1,66.7 296.5,68.1 296.8,68.6 297.1,65.9 297.5,64.5 297.8,66.5 298.2,67.1 298.5,66.7 298.8,66.6 299.2,66.9 299.5,66.4 299.9,67.2" fill="none" stroke="#1a7a1a" stroke-width="1.0" stroke-linejoin="round" />
<polyline points="279.9,66.7 280.2,65.9 280.5,66.9 280.9,67.8 281.2,65.8 281.6,66.5 281.9,67.1 282.2,67.5 282.6,68 282.9,68.2 283.3,67.5 283.6,66.5 283.9,68.5 284.3,68.5 284.6,69.1 285,71.6 285.3,71.7 285.6,72.1 286,68 286.3,66.6 286.6,67.9 287,63.2 287.3,64.7 287.7,68.5 288,68.6 288.3,63.9 288.7,66.6 289,69.5 289.4,70.5 289.7,68.8 290,69.6 290.4,69.6 290.7,69.9 291,67.5 291.4,65.8 291.7,65.9 292.1,66.9 292.4,65 292.7,72.8 293.1,68.4 293.4,65.7 293.8,66.3 294.1,69.5 294.4,70.7 294.8,70.6 295.1,66.6 295.5,68.8 295.8,72.3 296.1,73.1 296.5,70.3 296.8,70.3 297.1,70.2 297.5,68.6 297.8,68.2 298.2,67.2 298.5,67.8 298.8,68.6 299.2,67.9 299.5,67 299.9,66.5" fill="none" stroke="#1a7a1a" stroke-width="1.0" stroke-linejoin="round" />
<polyline points="299.9,71.6 300.2,71.7 300.5,73.2 300.9,73.2 301.2,70.7 301.5,68.1 301.9,68.5 302.2,71.4 302.5,72.1 302.9,71.1 303.2,70.4 303.6,69.9 303.9,70.9 304.2,71.5 304.6,70.4 304.9,69.4 305.2,69.2 305.6,70 305.9,70.2 306.2,70.5 306.6,69.5 306.9,67.3 307.2,67.3 307.6,67.8 307.9,67.9 308.2,69.2 308.6,69.4 308.9,68.6 309.3,69.1 309.6,69.9 309.9,70.3 310.3,71.6 310.6,73.4 310.9,72.5 311.3,68.9 311.6,68.1 311.9,67.4 312.3,65.8 312.6,66.5 312.9,66.9 313.3,65.5 313.6,66.3 313.9,68.3 314.3,67.3 314.6,65 315,65.3 315.3,69 315.6,73.4 316,73.7 316.3,71.4 316.6,70.4 317,71.2 317.3,70.8 317.6,66.7 318,63.1 318.3,64.2 318.6,65.6 319,65.5 319.3,65.8 319.7,65.9 320,67.3 320.3,71.2 320.7,72.5 321,69.8 321.3,66.9 321.7,66.2 322,68.3 322.3,71.1 322.7,71.6 323,70.4 323.3,69.2 323.7,69.6 324,71.8 324.3,72.6 324.7,71.8 325,70.5 325.4,69.8 325.7,71.2 326,72.2 326.4,72.1 326.7,70.9 327,68.8 327.4,70.2 327.7,72.2 328,73.6 328.4,75.2 328.7,74.8 329,71.1 329.4,67.1 329.7,67.1 330.1,70.4 330.4,73.7 330.7,75.8 331.1,74.7 331.4,72.6 331.7,70.3 332.1,67.9 332.4,67.8 332.7,68.6 333.1,68.6 333.4,68.1 333.7,67.9 334.1,68.7 334.4,70 334.7,71.1 335.1,71 335.4,70.2 335.8,68.1 336.1,65.2 336.4,65.7 336.8,68.6 337.1,69.8 337.4,69.2 337.8,69.8 338.1,71.7 338.4,71.7 338.8,68.9 339.1,67.3 339.4,68.9 339.8,68.4 340.1,66.3 340.5,65.4 340.8,64.7 341.1,64.8 341.5,66.7 341.8,68.1 342.1,66.7" fill="none" stroke="#1010ee" stroke-width="1.0" stroke-linejoin="round" />
<polyline points="299.9,70 300.2,68.5 300.5,68.4 300.9,70.3 301.2,74.2 301.5,74.1 301.9,69.6 302.2,66.9 302.5,65.6 302.9,64.6 303.2,66.9 303.6,70.1 303.9,72.4 304.2,72.6 304.6,70.9 304.9,68.9 305.2,67.6 305.6,67.8 305.9,68 306.2,66.7 306.6,64.6 306.9,63.8 307.2,65.3 307.6,68.8 307.9,70.7 308.2,70.9 308.6,72 308.9,72.4 309.3,72.3 309.6,71.9 309.9,71 310.3,69.9 310.6,68.4 310.9,67.4 311.3,67.9 311.6,69.2 311.9,70.7 312.3,71.6 312.6,69.7 312.9,67.1 313.3,68.3 313.6,72.3 313.9,73.7 314.3,72.3 314.6,71.2 315,71 315.3,71.1 315.6,71.8 316,72.3 316.3,71.7 316.6,71.6 317,71.2 317.3,69.8 317.6,69.4 318,69.9 318.3,69.8 318.6,69.5 319,70.3 319.3,70.8 319.7,70.6 320,70.9 320.3,70.6 320.7,69.2 321,68.1 321.3,67.8 321.7,68.9 322,71.9 322.3,74.1 322.7,75.3 323,75.6 323.3,74.2 323.7,72.8 324,71.2 324.3,69.4 324.7,69.4 325,70.2 325.4,71.2 325.7,71 326,68.9 326.4,66.5 326.7,65.8 327,67.8 327.4,69.7 327.7,68.8 328,67.6 328.4,67.7 328.7,67.2 329,67.1 329.4,67.4 329.7,67.7 330.1,68 330.4,67.4 330.7,66.9 331.1,67 331.4,67 331.7,65.8 332.1,62.7 332.4,61.1 332.7,64.3 333.1,69.6 333.4,72 333.7,71.5 334.1,70.7 334.4,69.6 334.7,69.2 335.1,70.2 335.4,71.2 335.8,71.7 336.1,71.9 336.4,71 336.8,70 337.1,70.9 337.4,70.9 337.8,68.8 338.1,66.3 338.4,65.2 338.8,65.8 339.1,67.3 339.4,67.3 339.8,66.8 340.1,66.6 340.5,67.1 340.8,68.7 341.1,69.3 341.5,69.9 341.8,70.5 342.1,69.6" fill="none" stroke="#1010ee" stroke-width="1.0" stroke-linejoin="round" />
<polyline points="299.9,66.9 300.2,66.5 300.5,67.3 300.9,68.2 301.2,68.4 301.5,69.4 301.9,71.3 302.2,72.1 302.5,71.8 302.9,71.1 303.2,69.8 303.6,68.4 303.9,68 304.2,68.5 304.6,69.5 304.9,69.9 305.2,68.3 305.6,67.1 305.9,66.6 306.2,67.3 306.6,68.2 306.9,67.7 307.2,66.7 307.6,65.3 307.9,65.8 308.2,69 308.6,71.5 308.9,71.6 309.3,71.2 309.6,71.9 309.9,72.2 310.3,72.5 310.6,72.1 310.9,68.6 311.3,65.2 311.6,66.3 311.9,69.9 312.3,72.3 312.6,73.6 312.9,73.3 313.3,72.5 313.6,71.8 313.9,70.3 314.3,69.7 314.6,71.6 315,72.9 315.3,72.3 315.6,70.5 316,69.6 316.3,69.8 316.6,68.4 317,67.3 317.3,70.1 317.6,74.3 318,74.5 318.3,72.3 318.6,71.1 319,70.8 319.3,70.7 319.7,70.6 320,69.4 320.3,68 320.7,68.4 321,69.7 321.3,70.6 321.7,69.8 322,68.9 322.3,69 322.7,69.3 323,70.1 323.3,71.3 323.7,73.4 324,74.1 324.3,71.1 324.7,67.6 325,67.1 325.4,67.2 325.7,67 326,68.4 326.4,70.2 326.7,70.5 327,69.6 327.4,69.5 327.7,70.5 328,70.7 328.4,70.6 328.7,72.1 329,73.2 329.4,72.8 329.7,73.1 330.1,72.1 330.4,71 330.7,71.1 331.1,70.4 331.4,68.7 331.7,65.9 332.1,63.6 332.4,63.6 332.7,65.8 333.1,68.6 333.4,71.2 333.7,74.4 334.1,77.5 334.4,77.9 334.7,75.2 335.1,70.9 335.4,68.9 335.8,69.5 336.1,69.5 336.4,69.5 336.8,69.7 337.1,69.1 337.4,67.9 337.8,66.8 338.1,67 338.4,68.4 338.8,69 339.1,68.4 339.4,69.6 339.8,71.2 340.1,70.2 340.5,67.6 340.8,64.7 341.1,64.4 341.5,66.9 341.8,68.7 342.1,68.5" fill="none" stroke="#1010ee" stroke-width="1.0" stroke-linejoin="round" />
<polyline points="299.9,65.2 300.2,65 300.5,66.9 300.9,69 301.2,69 301.5,68.1 301.9,69.1 302.2,70.4 302.5,69.5 302.9,68.7 303.2,67.9 303.6,67.4 303.9,68.2 304.2,69.6 304.6,69.3 304.9,68.6 305.2,69 305.6,68 305.9,67.6 306.2,69.1 306.6,70.3 306.9,71.7 307.2,71.9 307.6,71.3 307.9,70.5 308.2,70.7 308.6,72.6 308.9,72.4 309.3,70.4 309.6,69.3 309.9,69.7 310.3,70.6 310.6,71.7 310.9,71 311.3,69 311.6,70.5 311.9,73.4 312.3,72.5 312.6,70.4 312.9,69.6 313.3,69 313.6,67.8 313.9,66.5 314.3,65.8 314.6,66.3 315,69 315.3,70.8 315.6,70.8 316,71.8 316.3,73.6 316.6,72.6 317,70.2 317.3,68.3 317.6,66.3 318,65.2 318.3,66.5 318.6,68.6 319,68.4 319.3,67.4 319.7,69.1 320,71 320.3,71.4 320.7,71.1 321,71.4 321.3,70.9 321.7,68.6 322,67.2 322.3,67.8 322.7,69.6 323,71.7 323.3,75.1 323.7,77.7 324,76.9 324.3,75.4 324.7,74.8 325,74 325.4,72.9 325.7,70.2 326,67 326.4,65.4 326.7,65.1 327,65.3 327.4,66.9 327.7,69.2 328,69 328.4,66.5 328.7,64.1 329,64.6 329.4,68 329.7,70.1 330.1,71 330.4,72.1 330.7,71 331.1,68.2 331.4,67.6 331.7,70 332.1,72.3 332.4,71.3 332.7,67.7 333.1,66.4 333.4,68.3 333.7,69.3 334.1,69 334.4,68.9 334.7,69 335.1,69.1 335.4,69.2 335.8,69.4 336.1,68.3 336.4,65.9 336.8,63.4 337.1,64 337.4,67.3 337.8,69.5 338.1,69.9 338.4,70.2 338.8,69.7 339.1,68.2 339.4,66.7 339.8,66 340.1,67.2 340.5,70.5 340.8,72 341.1,70.1 341.5,67.7 341.8,67.5 342.1,69.9" fill="none" stroke="#1010ee" stroke-width="1.0" stroke-linejoin="round" />
<polyline points="299.9,71.6 300.2,72.4 300.5,71 300.9,69.4 301.2,69.4 301.5,68.9 301.9,70.9 302.2,74.5 302.5,74 302.9,72.2 303.2,72.7 303.6,73.7 303.9,73.5 304.2,72.3 304.6,71.7 304.9,72.7 305.2,73.6 305.6,74.3 305.9,72.9 306.2,68.1 306.6,64.7 306.9,65.8 307.2,68.8 307.6,70.4 307.9,69.8 308.2,69.2 308.6,70.7 308.9,71.8 309.3,69.9 309.6,67.7 309.9,66.8 310.3,67.2 310.6,69.2 310.9,71.2 311.3,70.2 311.6,67.8 311.9,67.8 312.3,70.6 312.6,73.2 312.9,72.8 313.3,72.1 313.6,72.3 313.9,72 314.3,70.9 314.6,69.3 315,68.6 315.3,69 315.6,71.1 316,72.2 316.3,71.8 316.6,69.7 317,66.6 317.3,64.9 317.6,66.4 318,69.2 318.3,70.2 318.6,69.4 319,67.8 319.3,66 319.7,64.3 320,64.9 320.3,68.1 320.7,69.5 321,68.2 321.3,67.1 321.7,67.3 322,69 322.3,71.4 322.7,72.4 323,72.1 323.3,72 323.7,70.7 324,68.8 324.3,68.2 324.7,68.1 325,68.2 325.4,69.1 325.7,70.2 326,70.6 326.4,72.1 326.7,73 327,70.2 327.4,66.4 327.7,64.8 328,66.2 328.4,68.7 328.7,71.1 329,72.3 329.4,72 329.7,71 330.1,69.3 330.4,68.2 330.7,68.1 331.1,67.1 331.4,66.7 331.7,68 332.1,68.7 332.4,68.8 332.7,69.2 333.1,67.8 333.4,66.7 333.7,69.5 334.1,72.8 334.4,72.1 334.7,69.5 335.1,67.4 335.4,68 335.8,70.8 336.1,71.4 336.4,70 336.8,69.8 337.1,70.2 337.4,69.9 337.8,68.4 338.1,66.9 338.4,66.3 338.8,64.2 339.1,60.7 339.4,62.8 339.8,69.2 340.1,72.8 340.5,72.9 340.8,71.8 341.1,71 341.5,70.8 341.8,70.9 342.1,72.2" fill="none" stroke="#1010ee" stroke-width="1.0" stroke-linejoin="round" />
<polyline points="299.9,69.5 300.2,68.8 300.5,69.4 300.9,70.8 301.2,70.2 301.5,68.3 301.9,67.8 302.2,68.9 302.5,70.6 302.9,72.1 303.2,72.1 303.6,70.2 303.9,68.1 304.2,68.2 304.6,70.4 304.9,71.6 305.2,70.5 305.6,70.1 305.9,69.6 306.2,69.3 306.6,69.5 306.9,68.9 307.2,69 307.6,70.5 307.9,70.4 308.2,67.3 308.6,66.8 308.9,68.1 309.3,69.3 309.6,71.5 309.9,74.1 310.3,74.1 310.6,72.4 310.9,70.6 311.3,67.4 311.6,65.8 311.9,69 312.3,73.6 312.6,76 312.9,75.3 313.3,73.9 313.6,73.3 313.9,70.5 314.3,67.6 314.6,68.4 315,70.5 315.3,70.9 315.6,69.3 316,67.4 316.3,66.5 316.6,67.3 317,69.6 317.3,71.7 317.6,72 318,71.1 318.3,70.5 318.6,70.3 319,71.2 319.3,73.5 319.7,74.5 320,73 320.3,71.1 320.7,70 321,69.3 321.3,69.3 321.7,70.8 322,71.6 322.3,71.3 322.7,72.4 323,73.3 323.3,71.4 323.7,68.9 324,68.6 324.3,69 324.7,70.9 325,73.5 325.4,73.2 325.7,73.1 326,75.6 326.4,76.9 326.7,74.2 327,69.5 327.4,67.2 327.7,66.8 328,64.9 328.4,65.2 328.7,67.3 329,66.7 329.4,64.9 329.7,65.9 330.1,70 330.4,72.1 330.7,70.9 331.1,70.6 331.4,71.2 331.7,70.4 332.1,68.3 332.4,66.7 332.7,67.5 333.1,67.7 333.4,66.8 333.7,66.8 334.1,67.8 334.4,67.3 334.7,67.3 335.1,69.8 335.4,71.7 335.8,72.1 336.1,72.2 336.4,73.5 336.8,74.4 337.1,72.5 337.4,69.6 337.8,68.3 338.1,67.3 338.4,64.5 338.8,63.7 339.1,67.3 339.4,70 339.8,69 340.1,68.3 340.5,69.6 340.8,70.9 341.1,71.3 341.5,71.3 341.8,69.6 342.1,67.3" fill="none" stroke="#1010ee" stroke-width="1.0" stroke-linejoin="round" />
<polyline points="299.9,71.2 300.2,69.6 300.5,69.8 300.9,69.7 301.2,69.3 301.5,68.7 301.9,68.4 302.2,69.8 302.5,72.3 302.9,73.5 303.2,71.2 303.6,68 303.9,68.1 304.2,69.9 304.6,70.7 304.9,70.3 305.2,69.9 305.6,69.7 305.9,68.7 306.2,68.1 306.6,67.2 306.9,66.3 307.2,67.6 307.6,69.3 307.9,70.1 308.2,70.2 308.6,70 308.9,68.3 309.3,66.3 309.6,67.2 309.9,70.6 310.3,73.7 310.6,75.2 310.9,73.1 311.3,70.8 311.6,72.1 311.9,73.6 312.3,72.4 312.6,70.1 312.9,69.5 313.3,70.7 313.6,73.7 313.9,74.9 314.3,72.7 314.6,69.7 315,66.8 315.3,65.4 315.6,66.3 316,68.8 316.3,71.3 316.6,71 317,67.6 317.3,66.5 317.6,67.8 318,68.9 318.3,69 318.6,68.1 319,67.7 319.3,70 319.7,72.8 320,72.8 320.3,69.7 320.7,68.5 321,70.1 321.3,70.7 321.7,69.8 322,69.7 322.3,71.3 322.7,73.3 323,73.6 323.3,72.2 323.7,70.7 324,69.7 324.3,70.1 324.7,69.4 325,67.7 325.4,66.1 325.7,64.8 326,67.6 326.4,72.6 326.7,74.6 327,73.9 327.4,72.7 327.7,72.1 328,71.9 328.4,72 328.7,73.4 329,74.1 329.4,71.8 329.7,70 330.1,72.2 330.4,74.3 330.7,72.1 331.1,66.4 331.4,62.3 331.7,63.3 332.1,65.6 332.4,65.8 332.7,65.6 333.1,64.5 333.4,63.8 333.7,64.8 334.1,67.7 334.4,70.9 334.7,72.2 335.1,71 335.4,70 335.8,69.9 336.1,68.8 336.4,67.7 336.8,67.7 337.1,69.2 337.4,70.1 337.8,68.6 338.1,69.1 338.4,70.7 338.8,70.7 339.1,70.2 339.4,70.3 339.8,70.5 340.1,69.1 340.5,67.9 340.8,69.3 341.1,71.8 341.5,72.4 341.8,71 342.1,69.8" fill="none" stroke="#1010ee" stroke-width="1.0" stroke-linejoin="round" />
<polyline points="299.9,77.3 300.2,78.4 300.5,75.6 300.9,71.5 301.2,68 301.5,67.4 301.9,69.6 302.2,72 302.5,71 302.9,67.6 303.2,68.2 303.6,73 303.9,74.9 304.2,72.7 304.6,72 304.9,72 305.2,69.8 305.6,67.4 305.9,66.5 306.2,65.7 306.6,65.8 306.9,66.5 307.2,66.7 307.6,67.5 307.9,70.1 308.2,73.4 308.6,73.2 308.9,70.5 309.3,69.2 309.6,68.4 309.9,68.2 310.3,69.8 310.6,71.7 310.9,71.6 311.3,69.8 311.6,67.9 311.9,67 312.3,66.4 312.6,66.2 312.9,66.8 313.3,68.3 313.6,71.6 313.9,74.1 314.3,72.7 314.6,70.7 315,70.4 315.3,69.9 315.6,70.4 316,71.8 316.3,73 316.6,73.9 317,72.7 317.3,70.5 317.6,69.4 318,69.4 318.3,69.2 318.6,67.5 319,66 319.3,65.7 319.7,65.7 320,66.8 320.3,68.6 320.7,68.6 321,68.6 321.3,69.8 321.7,71.7 322,72.3 322.3,71.2 322.7,69.3 323,67.9 323.3,68.3 323.7,70.4 324,72.4 324.3,72.6 324.7,70.6 325,68 325.4,66.3 325.7,67.4 326,68.9 326.4,67.7 326.7,67.6 327,68.3 327.4,68.5 327.7,69.6 328,70.3 328.4,70.2 328.7,70.3 329,70.8 329.4,71.1 329.7,71.4 330.1,70.5 330.4,68.5 330.7,68.1 331.1,68.7 331.4,68.9 331.7,70.1 332.1,71.3 332.4,70.4 332.7,68.5 333.1,68.2 333.4,69.1 333.7,70.7 334.1,73.1 334.4,73.6 334.7,71.7 335.1,69.5 335.4,67.9 335.8,68.3 336.1,67.9 336.4,66.8 336.8,65.8 337.1,65.2 337.4,64.7 337.8,64.8 338.1,65.8 338.4,66.9 338.8,67.7 339.1,68.5 339.4,70.5 339.8,73.1 340.1,73.5 340.5,71.2 340.8,70.1 341.1,70.8 341.5,70.8 341.8,69.2 342.1,68" fill="none" stroke="#1010ee" stroke-width="1.0" stroke-linejoin="round" />
<polyline points="299.9,71.4 300.2,72.4 300.5,71.1 300.9,69.6 301.2,67.9 301.5,65.4 301.9,63.9 302.2,64.3 302.5,66.8 302.9,69.3 303.2,68.7 303.6,67.5 303.9,68.5 304.2,67.7 304.6,64.6 304.9,64.2 305.2,66.1 305.6,66.9 305.9,65.9 306.2,65.7 306.6,67.7 306.9,70.5 307.2,71.3 307.6,69.4 307.9,69.5 308.2,72.1 308.6,72 308.9,70 309.3,69.6 309.6,68.8 309.9,67.7 310.3,67.6 310.6,68.2 310.9,69.2 311.3,70.6 311.6,71.8 311.9,72.4 312.3,72.3 312.6,71.6 312.9,70.7 313.3,69.1 313.6,67.7 313.9,67.9 314.3,69.4 314.6,70.9 315,70.7 315.3,68.8 315.6,66.2 316,64.6 316.3,66.5 316.6,70.9 317,73.8 317.3,74.3 317.6,73.8 318,72.9 318.3,70.7 318.6,69 319,68.9 319.3,70.2 319.7,72.2 320,73.4 320.3,72.6 320.7,70.8 321,70.8 321.3,72.1 321.7,72.3 322,71.7 322.3,70 322.7,68.5 323,68.5 323.3,69.2 323.7,69.6 324,70.5 324.3,70.9 324.7,70.8 325,72 325.4,73 325.7,71.4 326,68.6 326.4,66.7 326.7,66.3 327,67.2 327.4,67.1 327.7,66.6 328,68.1 328.4,69.7 328.7,69.7 329,70.9 329.4,70.9 329.7,68.9 330.1,68 330.4,67.3 330.7,66.3 331.1,66.7 331.4,69.4 331.7,71.2 332.1,70.3 332.4,68.4 332.7,68.1 333.1,70.3 333.4,73.4 333.7,74.3 334.1,71.8 334.4,67.8 334.7,66.4 335.1,67.2 335.4,67.3 335.8,67.8 336.1,70.8 336.4,74.5 336.8,75.8 337.1,74.8 337.4,73.5 337.8,74.5 338.1,74.2 338.4,69.5 338.8,65.7 339.1,66.7 339.4,68.4 339.8,69.1 340.1,69.8 340.5,67.8 340.8,66 341.1,67.3 341.5,68.3 341.8,68.1 342.1,68.8" fill="none" stroke="#1010ee" stroke-width="1.0" stroke-linejoin="round" />
<polyline points="299.9,66.1 300.2,67.5 300.5,69.7 300.9,71.3 301.2,71.1 301.5,70.1 301.9,68.6 302.2,67.2 302.5,69.1 302.9,71.8 303.2,71.6 303.6,70.6 303.9,72.2 304.2,73.4 304.6,71.3 304.9,67.5 305.2,65.2 305.6,64.3 305.9,62.6 306.2,61.9 306.6,64.1 306.9,67 307.2,67.9 307.6,68.1 307.9,69.2 308.2,69.7 308.6,69.4 308.9,69.7 309.3,70 309.6,69.4 309.9,67.7 310.3,66.7 310.6,67.5 310.9,68.6 311.3,67.8 311.6,65 311.9,63.1 312.3,64.6 312.6,68.3 312.9,70.9 313.3,69.6 313.6,66.9 313.9,68.5 314.3,72.8 314.6,72.6 315,68.9 315.3,67.3 315.6,68.1 316,68.2 316.3,67 316.6,67.9 317,68.6 317.3,68.6 317.6,68.5 318,68 318.3,68.8 318.6,70.5 319,72.1 319.3,72.5 319.7,71.1 320,70.4 320.3,70.4 320.7,70.3 321,69.6 321.3,68.3 321.7,67.5 322,67.5 322.3,69.2 322.7,71.2 323,71 323.3,70 323.7,69.5 324,70.5 324.3,71.9 324.7,71.9 325,72.5 325.4,74.6 325.7,74.6 326,71.2 326.4,68.3 326.7,68.5 327,68.9 327.4,69.8 327.7,72.2 328,73.5 328.4,72.7 328.7,71.5 329,70.3 329.4,69.1 329.7,68.5 330.1,70.2 330.4,72.7 330.7,72.3 331.1,69.7 331.4,68.5 331.7,68.6 332.1,69.2 332.4,68.9 332.7,67.3 333.1,67.8 333.4,71.3 333.7,72.8 334.1,71.9 334.4,69.9 334.7,67.2 335.1,66 335.4,67.2 335.8,68.4 336.1,68.1 336.4,67 336.8,66.1 337.1,68.1 337.4,72.2 337.8,75.3 338.1,77.1 338.4,78.1 338.8,78.2 339.1,78.5 339.4,79.2 339.8,78.6 340.1,77.2 340.5,75.9 340.8,74.8 341.1,73.4 341.5,71.4 341.8,68.7 342.1,66.5" fill="none" stroke="#1010ee" stroke-width="1.0" stroke-linejoin="round" />
<path d="M28.3 2.6 V112.6 H170.8" fill="none" stroke="#333" stroke-width="0.9"/>
<path d="M199.9 2.6 V112.6 H342.7" fill="none" stroke="#333" stroke-width="0.9"/>
<text x="26.7" y="8.5" font-size="6.9" text-anchor="end" font-weight="normal" fill="#1e1e1e" stroke="#1e1e1e" stroke-width="0.18">15</text>
<text x="26.7" y="29.1" font-size="6.9" text-anchor="end" font-weight="normal" fill="#1e1e1e" stroke="#1e1e1e" stroke-width="0.18">10</text>
<text x="26.7" y="49.7" font-size="6.9" text-anchor="end" font-weight="normal" fill="#1e1e1e" stroke="#1e1e1e" stroke-width="0.18">5</text>
<text x="26.7" y="70.3" font-size="6.9" text-anchor="end" font-weight="normal" fill="#1e1e1e" stroke="#1e1e1e" stroke-width="0.18">0</text>
<text x="26.7" y="90.9" font-size="6.9" text-anchor="end" font-weight="normal" fill="#1e1e1e" stroke="#1e1e1e" stroke-width="0.18">−5</text>
<text x="26.7" y="111.5" font-size="6.9" text-anchor="end" font-weight="normal" fill="#1e1e1e" stroke="#1e1e1e" stroke-width="0.18">−10</text>
<text x="28.3" y="119.8" font-size="6.9" text-anchor="middle" font-weight="normal" fill="#1e1e1e" stroke="#1e1e1e" stroke-width="0.18">0.0</text>
<text x="56.8" y="119.8" font-size="6.9" text-anchor="middle" font-weight="normal" fill="#1e1e1e" stroke="#1e1e1e" stroke-width="0.18">0.2</text>
<text x="85.3" y="119.8" font-size="6.9" text-anchor="middle" font-weight="normal" fill="#1e1e1e" stroke="#1e1e1e" stroke-width="0.18">0.4</text>
<text x="113.8" y="119.8" font-size="6.9" text-anchor="middle" font-weight="normal" fill="#1e1e1e" stroke="#1e1e1e" stroke-width="0.18">0.6</text>
<text x="142.3" y="119.8" font-size="6.9" text-anchor="middle" font-weight="normal" fill="#1e1e1e" stroke="#1e1e1e" stroke-width="0.18">0.8</text>
<text x="170.8" y="119.8" font-size="6.9" text-anchor="middle" font-weight="normal" fill="#1e1e1e" stroke="#1e1e1e" stroke-width="0.18">1.0</text>
<text x="99.55" y="127" font-size="6.9" text-anchor="middle" font-weight="normal" fill="#1e1e1e" stroke="#1e1e1e" stroke-width="0.18" textLength="26.0" lengthAdjust="spacingAndGlyphs">Time (s)</text>
<text x="10.9" y="57" font-size="6.6" text-anchor="middle" font-weight="normal" fill="#1e1e1e" stroke="#1e1e1e" stroke-width="0.18" transform="rotate(-90 10.9 57)" textLength="34.8" lengthAdjust="spacingAndGlyphs">Force (mN)</text>
<text x="198.3" y="8.5" font-size="6.9" text-anchor="end" font-weight="normal" fill="#1e1e1e" stroke="#1e1e1e" stroke-width="0.18">15</text>
<text x="198.3" y="29.1" font-size="6.9" text-anchor="end" font-weight="normal" fill="#1e1e1e" stroke="#1e1e1e" stroke-width="0.18">10</text>
<text x="198.3" y="49.7" font-size="6.9" text-anchor="end" font-weight="normal" fill="#1e1e1e" stroke="#1e1e1e" stroke-width="0.18">5</text>
<text x="198.3" y="70.3" font-size="6.9" text-anchor="end" font-weight="normal" fill="#1e1e1e" stroke="#1e1e1e" stroke-width="0.18">0</text>
<text x="198.3" y="90.9" font-size="6.9" text-anchor="end" font-weight="normal" fill="#1e1e1e" stroke="#1e1e1e" stroke-width="0.18">−5</text>
<text x="198.3" y="111.5" font-size="6.9" text-anchor="end" font-weight="normal" fill="#1e1e1e" stroke="#1e1e1e" stroke-width="0.18">−10</text>
<text x="199.9" y="119.8" font-size="6.9" text-anchor="middle" font-weight="normal" fill="#1e1e1e" stroke="#1e1e1e" stroke-width="0.18">0.0</text>
<text x="228.46" y="119.8" font-size="6.9" text-anchor="middle" font-weight="normal" fill="#1e1e1e" stroke="#1e1e1e" stroke-width="0.18">0.2</text>
<text x="257.02" y="119.8" font-size="6.9" text-anchor="middle" font-weight="normal" fill="#1e1e1e" stroke="#1e1e1e" stroke-width="0.18">0.4</text>
<text x="285.58" y="119.8" font-size="6.9" text-anchor="middle" font-weight="normal" fill="#1e1e1e" stroke="#1e1e1e" stroke-width="0.18">0.6</text>
<text x="314.14" y="119.8" font-size="6.9" text-anchor="middle" font-weight="normal" fill="#1e1e1e" stroke="#1e1e1e" stroke-width="0.18">0.8</text>
<text x="342.7" y="119.8" font-size="6.9" text-anchor="middle" font-weight="normal" fill="#1e1e1e" stroke="#1e1e1e" stroke-width="0.18">1.0</text>
<text x="271.3" y="127" font-size="6.9" text-anchor="middle" font-weight="normal" fill="#1e1e1e" stroke="#1e1e1e" stroke-width="0.18" textLength="26.0" lengthAdjust="spacingAndGlyphs">Time (s)</text>
<text x="6.7" y="7" font-size="7.4" text-anchor="middle" font-weight="bold" fill="#1e1e1e" stroke="#1e1e1e" stroke-width="0.12">A</text>
<text x="185.2" y="7" font-size="7.2" text-anchor="middle" font-weight="bold" fill="#1e1e1e" stroke="#1e1e1e" stroke-width="0.12">B</text>
<path d="M28.3 138.6 V249.3 H170.8" fill="none" stroke="#333" stroke-width="0.9"/>
<text x="26.7" y="140.6" font-size="6.9" text-anchor="end" font-weight="normal" fill="#1e1e1e" stroke="#1e1e1e" stroke-width="0.18">3</text>
<text x="26.7" y="159.2" font-size="6.9" text-anchor="end" font-weight="normal" fill="#1e1e1e" stroke="#1e1e1e" stroke-width="0.18">2</text>
<text x="26.7" y="177.8" font-size="6.9" text-anchor="end" font-weight="normal" fill="#1e1e1e" stroke="#1e1e1e" stroke-width="0.18">1</text>
<text x="26.7" y="196.4" font-size="6.9" text-anchor="end" font-weight="normal" fill="#1e1e1e" stroke="#1e1e1e" stroke-width="0.18">0</text>
<text x="26.7" y="215" font-size="6.9" text-anchor="end" font-weight="normal" fill="#1e1e1e" stroke="#1e1e1e" stroke-width="0.18">−1</text>
<text x="26.7" y="233.6" font-size="6.9" text-anchor="end" font-weight="normal" fill="#1e1e1e" stroke="#1e1e1e" stroke-width="0.18">−2</text>
<text x="26.7" y="252.2" font-size="6.9" text-anchor="end" font-weight="normal" fill="#1e1e1e" stroke="#1e1e1e" stroke-width="0.18">−3</text>
<text x="28.3" y="256.1" font-size="6.9" text-anchor="middle" font-weight="normal" fill="#1e1e1e" stroke="#1e1e1e" stroke-width="0.18">0.0</text>
<text x="56.8" y="256.1" font-size="6.9" text-anchor="middle" font-weight="normal" fill="#1e1e1e" stroke="#1e1e1e" stroke-width="0.18">0.2</text>
<text x="85.3" y="256.1" font-size="6.9" text-anchor="middle" font-weight="normal" fill="#1e1e1e" stroke="#1e1e1e" stroke-width="0.18">0.4</text>
<text x="113.8" y="256.1" font-size="6.9" text-anchor="middle" font-weight="normal" fill="#1e1e1e" stroke="#1e1e1e" stroke-width="0.18">0.6</text>
<text x="142.3" y="256.1" font-size="6.9" text-anchor="middle" font-weight="normal" fill="#1e1e1e" stroke="#1e1e1e" stroke-width="0.18">0.8</text>
<text x="170.8" y="256.1" font-size="6.9" text-anchor="middle" font-weight="normal" fill="#1e1e1e" stroke="#1e1e1e" stroke-width="0.18">1.0</text>
<text x="99.55" y="264" font-size="6.9" text-anchor="middle" font-weight="normal" fill="#1e1e1e" stroke="#1e1e1e" stroke-width="0.18">Time (s)</text>
<text x="16.7" y="193.5" font-size="6.6" text-anchor="middle" font-weight="normal" fill="#1e1e1e" stroke="#1e1e1e" stroke-width="0.18" transform="rotate(-90 16.7 193.5)" textLength="34.8" lengthAdjust="spacingAndGlyphs">Force (mN)</text>
<path d="M200.2 138.6 V249.3 H342.7" fill="none" stroke="#333" stroke-width="0.9"/>
<text x="198.6" y="140.6" font-size="6.9" text-anchor="end" font-weight="normal" fill="#1e1e1e" stroke="#1e1e1e" stroke-width="0.18">3</text>
<text x="198.6" y="159.2" font-size="6.9" text-anchor="end" font-weight="normal" fill="#1e1e1e" stroke="#1e1e1e" stroke-width="0.18">2</text>
<text x="198.6" y="177.8" font-size="6.9" text-anchor="end" font-weight="normal" fill="#1e1e1e" stroke="#1e1e1e" stroke-width="0.18">1</text>
<text x="198.6" y="196.4" font-size="6.9" text-anchor="end" font-weight="normal" fill="#1e1e1e" stroke="#1e1e1e" stroke-width="0.18">0</text>
<text x="198.6" y="215" font-size="6.9" text-anchor="end" font-weight="normal" fill="#1e1e1e" stroke="#1e1e1e" stroke-width="0.18">−1</text>
<text x="198.6" y="233.6" font-size="6.9" text-anchor="end" font-weight="normal" fill="#1e1e1e" stroke="#1e1e1e" stroke-width="0.18">−2</text>
<text x="198.6" y="252.2" font-size="6.9" text-anchor="end" font-weight="normal" fill="#1e1e1e" stroke="#1e1e1e" stroke-width="0.18">−3</text>
<text x="200.2" y="256.1" font-size="6.9" text-anchor="middle" font-weight="normal" fill="#1e1e1e" stroke="#1e1e1e" stroke-width="0.18">0.0</text>
<text x="228.7" y="256.1" font-size="6.9" text-anchor="middle" font-weight="normal" fill="#1e1e1e" stroke="#1e1e1e" stroke-width="0.18">0.2</text>
<text x="257.2" y="256.1" font-size="6.9" text-anchor="middle" font-weight="normal" fill="#1e1e1e" stroke="#1e1e1e" stroke-width="0.18">0.4</text>
<text x="285.7" y="256.1" font-size="6.9" text-anchor="middle" font-weight="normal" fill="#1e1e1e" stroke="#1e1e1e" stroke-width="0.18">0.6</text>
<text x="314.2" y="256.1" font-size="6.9" text-anchor="middle" font-weight="normal" fill="#1e1e1e" stroke="#1e1e1e" stroke-width="0.18">0.8</text>
<text x="342.7" y="256.1" font-size="6.9" text-anchor="middle" font-weight="normal" fill="#1e1e1e" stroke="#1e1e1e" stroke-width="0.18">1.0</text>
<text x="271.45" y="264" font-size="6.9" text-anchor="middle" font-weight="normal" fill="#1e1e1e" stroke="#1e1e1e" stroke-width="0.18">Time (s)</text>
<text x="6.8" y="140.9" font-size="7.2" text-anchor="middle" font-weight="bold" fill="#1e1e1e" stroke="#1e1e1e" stroke-width="0.12">C</text>
<text x="185.4" y="140.9" font-size="7.2" text-anchor="middle" font-weight="bold" fill="#1e1e1e" stroke="#1e1e1e" stroke-width="0.12">D</text>
<path d="M28.75 203.5 C28.84 201.83 29.11 195.35 29.3 193.5 C29.49 191.65 29.58 192.12 29.9 192.4 C30.22 192.68 30.77 195.03 31.2 195.2 C31.63 195.37 31.85 193.71 32.5 193.44 C33.15 193.18 34.23 193.48 35.1 193.61 C35.97 193.74 36.83 194.17 37.7 194.23 C38.57 194.29 39.43 194.12 40.3 193.99 C41.17 193.86 42.03 193.48 42.9 193.45 C43.77 193.43 44.63 193.76 45.5 193.83 C46.37 193.9 47.23 193.93 48.1 193.88 C48.97 193.83 49.83 193.48 50.7 193.53 C51.57 193.57 52.43 194.17 53.3 194.16 C54.17 194.15 55.03 193.54 55.9 193.48 C56.77 193.41 57.63 193.71 58.5 193.78 C59.37 193.85 60.23 193.91 61.1 193.92 C61.97 193.93 62.83 193.81 63.7 193.82 C64.57 193.84 65.43 193.94 66.3 194 C67.17 194.05 68.03 194.09 68.9 194.16 C69.77 194.23 70.63 194.49 71.5 194.4 C72.37 194.32 73.23 193.72 74.1 193.66 C74.97 193.61 75.83 193.99 76.7 194.06 C77.57 194.14 78.43 194.18 79.3 194.12 C80.17 194.05 81.03 193.8 81.9 193.67 C82.77 193.54 83.63 193.23 84.5 193.35 C85.37 193.48 86.23 194.37 87.1 194.42 C87.97 194.48 88.83 193.8 89.7 193.68 C90.57 193.56 91.43 193.59 92.3 193.7 C93.17 193.8 94.03 194.28 94.9 194.33 C95.77 194.38 96.63 194.07 97.5 193.99 C98.37 193.92 99.23 193.83 100.1 193.87 C100.97 193.9 101.83 194.28 102.7 194.2 C103.57 194.12 104.43 193.4 105.3 193.38 C106.17 193.37 107.35 194.12 107.9 194.13 C108.45 194.13 108.33 193.39 108.6 193.4 C108.87 193.41 109.35 194.07 109.5 194.2" fill="none" stroke="#2f2fbf" stroke-width="1.35" stroke-linejoin="round" stroke-linecap="round"/>
<path d="M109.5 194.2 C109.73 193.83 110.47 192.88 110.9 192 C111.33 191.12 111.75 188.32 112.1 188.9 C112.45 189.48 112.65 191.18 113 195.5 C113.35 199.82 113.62 221.5 114.2 214.8 C114.78 208.1 115.77 156.77 116.5 155.3 C117.23 153.83 118.02 199.58 118.6 206 C119.18 212.42 119.47 196.57 120 193.8 C120.53 191.03 121.27 190.42 121.8 189.4 C122.33 188.38 122.77 187.27 123.2 187.7 C123.63 188.13 123.92 189.82 124.4 192 C124.88 194.18 125.52 198.3 126.1 200.8 C126.68 203.3 127.6 205.97 127.9 207" fill="none" stroke="#2e8b2e" stroke-width="1.35" stroke-linejoin="round" stroke-linecap="round"/>
<path d="M127.9 207 C128.23 205.32 129.13 200.73 129.9 196.9 C130.67 193.07 131.75 185.07 132.5 184 C133.25 182.93 133.87 189.53 134.4 190.5 C134.93 191.47 135.3 189.7 135.7 189.8 C136.1 189.9 136.37 189.27 136.8 191.1 C137.23 192.93 137.78 198 138.3 200.8 C138.82 203.6 139.37 207.27 139.9 207.9 C140.43 208.53 140.95 207.08 141.5 204.6 C142.05 202.12 142.6 196.43 143.2 193 C143.8 189.57 144.52 184.63 145.1 184 C145.68 183.37 146.22 187.48 146.7 189.2 C147.18 190.92 147.57 193.55 148 194.3 C148.43 195.05 148.87 193.37 149.3 193.7 C149.73 194.03 150.18 195.45 150.6 196.3 C151.02 197.15 151.38 198.8 151.8 198.8 C152.22 198.8 152.67 197.05 153.1 196.3 C153.53 195.55 153.85 194.63 154.4 194.3 C154.95 193.97 155.75 194.62 156.4 194.3 C157.05 193.98 157.7 192.4 158.3 192.4 C158.9 192.4 159.42 193.77 160 194.3 C160.58 194.83 161.02 195 161.8 195.6 C162.58 196.2 163.88 197.9 164.7 197.9 C165.52 197.9 165.95 195.93 166.7 195.6 C167.45 195.27 168.52 195.8 169.2 195.9 C169.88 196 170.53 196.15 170.8 196.2" fill="none" stroke="#2f2fbf" stroke-width="1.35" stroke-linejoin="round" stroke-linecap="round"/>
<path d="M93.5 154.4 V215.1 M88.6 154.4 H98.6 M88.6 215.1 H98.6" stroke="#111" stroke-width="1.2" fill="none"/>
<path d="M200.6 200.5 C200.7 199.28 201 194.52 201.2 193.2 C201.4 191.88 201.5 192.3 201.8 192.6 C202.1 192.9 202.63 194.71 203 195 C203.37 195.29 203.4 194.45 204 194.34 C204.6 194.23 205.73 194.39 206.6 194.34 C207.47 194.29 208.33 194.11 209.2 194.02 C210.07 193.92 210.93 193.85 211.8 193.76 C212.67 193.68 213.53 193.49 214.4 193.51 C215.27 193.53 216.13 193.81 217 193.87 C217.87 193.94 218.73 193.96 219.6 193.9 C220.47 193.84 221.33 193.57 222.2 193.5 C223.07 193.43 223.93 193.33 224.8 193.5 C225.67 193.68 226.53 194.44 227.4 194.55 C228.27 194.66 229.13 194.31 230 194.17 C230.87 194.03 231.73 193.75 232.6 193.71 C233.47 193.67 234.33 193.79 235.2 193.93 C236.07 194.06 236.93 194.44 237.8 194.52 C238.67 194.61 239.53 194.46 240.4 194.44 C241.27 194.41 242.13 194.47 243 194.38 C243.87 194.29 244.73 193.95 245.6 193.88 C246.47 193.82 247.33 193.94 248.2 193.99 C249.07 194.04 249.93 194.27 250.8 194.19 C251.67 194.12 252.53 193.54 253.4 193.52 C254.27 193.49 255.13 194.02 256 194.06 C256.87 194.1 257.73 193.69 258.6 193.75 C259.47 193.81 260.33 194.46 261.2 194.42 C262.07 194.38 262.93 193.56 263.8 193.52 C264.67 193.48 265.53 194.05 266.4 194.2 C267.27 194.34 268.13 194.49 269 194.41 C269.87 194.32 270.73 193.7 271.6 193.7 C272.47 193.7 273.33 194.32 274.2 194.43 C275.07 194.55 276.17 194.52 276.8 194.41 C277.43 194.3 277.8 193.9 278 193.8" fill="none" stroke="#2f2fbf" stroke-width="1.35" stroke-linejoin="round" stroke-linecap="round"/>
<path d="M278 193.8 C278.57 193.8 280.53 193.88 281.4 193.8 C282.27 193.72 282.7 193.23 283.2 193.3 C283.7 193.37 283.9 194.12 284.4 194.2 C284.9 194.28 285.58 195.05 286.2 193.8 C286.82 192.55 287.53 186.85 288.1 186.7 C288.67 186.55 289.07 190.58 289.6 192.9 C290.13 195.22 290.73 200.03 291.3 200.6 C291.87 201.17 292.42 198.15 293 196.3 C293.58 194.45 294.18 191.18 294.8 189.5 C295.42 187.82 296.13 186.07 296.7 186.2 C297.27 186.33 297.73 188.62 298.2 190.3 C298.67 191.98 299.12 195.15 299.5 196.3 C299.88 197.45 300.33 197.05 300.5 197.2" fill="none" stroke="#2e8b2e" stroke-width="1.35" stroke-linejoin="round" stroke-linecap="round"/>
<path d="M300.5 197.2 C300.85 196.92 301.82 196.48 302.6 195.5 C303.38 194.52 304.45 191.72 305.2 191.3 C305.95 190.88 306.47 192.62 307.1 193 C307.73 193.38 308.3 193.18 309 193.6 C309.7 194.02 310.65 195.28 311.3 195.5 C311.95 195.72 312.32 194.97 312.9 194.9 C313.48 194.83 314.2 195.32 314.8 195.1 C315.4 194.88 315.92 194.23 316.5 193.6 C317.08 192.97 317.62 191.2 318.3 191.3 C318.98 191.4 319.83 193.43 320.6 194.2 C321.37 194.97 322.15 195.9 322.9 195.9 C323.65 195.9 324.4 194.65 325.1 194.2 C325.8 193.75 326.38 193.25 327.1 193.2 C327.82 193.15 328.65 193.62 329.4 193.9 C330.15 194.18 330.82 194.8 331.6 194.9 C332.38 195 333.35 194.62 334.1 194.5 C334.85 194.38 335.38 194.52 336.1 194.2 C336.82 193.88 337.65 192.65 338.4 192.6 C339.15 192.55 339.92 193.63 340.6 193.9 C341.28 194.17 342.18 194.15 342.5 194.2" fill="none" stroke="#2f2fbf" stroke-width="1.35" stroke-linejoin="round" stroke-linecap="round"/>
<path d="M269.6 185.8 V202.3 M264.8 185.8 H274.6 M264.8 202.3 H274.6" stroke="#111" stroke-width="1.2" fill="none"/>
<rect x="45.8" y="321.12" width="5.54" height="58.41" fill="#55a5f5"/>
<rect x="45.8" y="379.53" width="5.54" height="3.07" fill="#1e6edc"/>
<rect x="51.34" y="275.01" width="5.54" height="83" fill="#55a5f5"/>
<rect x="51.34" y="358.01" width="5.54" height="24.59" fill="#1e6edc"/>
<rect x="56.88" y="281.16" width="5.54" height="73.78" fill="#55a5f5"/>
<rect x="56.88" y="354.93" width="5.54" height="27.67" fill="#1e6edc"/>
<rect x="62.42" y="302.68" width="5.54" height="30.74" fill="#55a5f5"/>
<rect x="62.42" y="333.42" width="5.54" height="49.18" fill="#1e6edc"/>
<rect x="67.96" y="342.64" width="5.54" height="9.22" fill="#55a5f5"/>
<rect x="67.96" y="351.86" width="5.54" height="30.74" fill="#1e6edc"/>
<rect x="73.5" y="324.19" width="5.54" height="27.67" fill="#4c44a8"/>
<rect x="73.5" y="351.86" width="5.54" height="30.74" fill="#1e6edc"/>
<rect x="79.04" y="333.42" width="5.54" height="33.81" fill="#4c44a8"/>
<rect x="79.04" y="367.23" width="5.54" height="15.37" fill="#1e6edc"/>
<rect x="84.58" y="327.27" width="5.54" height="46.11" fill="#4c44a8"/>
<rect x="84.58" y="373.38" width="5.54" height="9.22" fill="#1e6edc"/>
<rect x="90.12" y="336.49" width="5.54" height="30.74" fill="#4c44a8"/>
<rect x="90.12" y="367.23" width="5.54" height="15.37" fill="#1e6edc"/>
<rect x="95.66" y="348.79" width="5.54" height="24.59" fill="#4c44a8"/>
<rect x="95.66" y="373.38" width="5.54" height="9.22" fill="#1e6edc"/>
<rect x="101.2" y="376.45" width="5.54" height="3.07" fill="#4c44a8"/>
<rect x="101.2" y="379.53" width="5.54" height="3.07" fill="#1e6edc"/>
<rect x="106.74" y="373.38" width="5.54" height="9.22" fill="#1e6edc"/>
<rect x="112.28" y="370.3" width="5.54" height="9.22" fill="#4c44a8"/>
<rect x="112.28" y="379.53" width="5.54" height="3.07" fill="#1e6edc"/>
<rect x="117.82" y="364.16" width="5.54" height="15.37" fill="#4c44a8"/>
<rect x="117.82" y="379.53" width="5.54" height="3.07" fill="#1e6edc"/>
<rect x="123.36" y="376.45" width="5.54" height="3.07" fill="#4c44a8"/>
<rect x="123.36" y="379.53" width="5.54" height="3.07" fill="#1e6edc"/>
<rect x="128.9" y="358.01" width="5.54" height="21.52" fill="#4c44a8"/>
<rect x="128.9" y="379.53" width="5.54" height="3.07" fill="#1e6edc"/>
<rect x="134.44" y="379.53" width="5.54" height="3.07" fill="#4c44a8"/>
<rect x="139.98" y="376.45" width="5.54" height="6.15" fill="#4c44a8"/>
<rect x="145.52" y="373.38" width="5.54" height="9.22" fill="#4c44a8"/>
<rect x="151.06" y="379.53" width="5.54" height="3.07" fill="#55a5f5"/>
<rect x="156.6" y="379.53" width="5.54" height="3.07" fill="#4c44a8"/>
<rect x="162.14" y="379.53" width="5.54" height="3.07" fill="#4c44a8"/>
<rect x="173.22" y="376.45" width="5.54" height="6.15" fill="#4c44a8"/>
<rect x="178.76" y="379.53" width="5.54" height="3.07" fill="#4c44a8"/>
<rect x="189.84" y="373.38" width="5.54" height="9.22" fill="#4c44a8"/>
<rect x="195.38" y="376.45" width="5.54" height="6.15" fill="#4c44a8"/>
<rect x="200.92" y="379.53" width="5.54" height="3.07" fill="#55a5f5"/>
<rect x="212" y="379.53" width="5.54" height="3.07" fill="#55a5f5"/>
<rect x="217.54" y="379.53" width="5.54" height="3.07" fill="#4c44a8"/>
<rect x="228.62" y="379.53" width="5.54" height="3.07" fill="#4c44a8"/>
<rect x="239.7" y="379.53" width="5.54" height="3.07" fill="#55a5f5"/>
<rect x="289.56" y="379.53" width="5.54" height="3.07" fill="#4c44a8"/>
<rect x="300.64" y="379.53" width="5.54" height="3.07" fill="#55a5f5"/>
<rect x="46.05" y="321.37" width="5.04" height="61.23" fill="none" stroke="#2a5aa0" stroke-width="0.5" stroke-opacity="0.75"/>
<line x1="45.8" y1="379.53" x2="51.34" y2="379.53" stroke="#2a5aa0" stroke-width="0.4" stroke-opacity="0.5"/>
<rect x="51.59" y="275.26" width="5.04" height="107.34" fill="none" stroke="#2a5aa0" stroke-width="0.5" stroke-opacity="0.75"/>
<line x1="51.34" y1="358.01" x2="56.88" y2="358.01" stroke="#2a5aa0" stroke-width="0.4" stroke-opacity="0.5"/>
<rect x="57.13" y="281.41" width="5.04" height="101.19" fill="none" stroke="#2a5aa0" stroke-width="0.5" stroke-opacity="0.75"/>
<line x1="56.88" y1="354.93" x2="62.42" y2="354.93" stroke="#2a5aa0" stroke-width="0.4" stroke-opacity="0.5"/>
<rect x="62.67" y="302.93" width="5.04" height="79.67" fill="none" stroke="#2a5aa0" stroke-width="0.5" stroke-opacity="0.75"/>
<line x1="62.42" y1="333.42" x2="67.96" y2="333.42" stroke="#2a5aa0" stroke-width="0.4" stroke-opacity="0.5"/>
<rect x="68.21" y="342.89" width="5.04" height="39.71" fill="none" stroke="#2a5aa0" stroke-width="0.5" stroke-opacity="0.75"/>
<line x1="67.96" y1="351.86" x2="73.5" y2="351.86" stroke="#2a5aa0" stroke-width="0.4" stroke-opacity="0.5"/>
<rect x="73.75" y="324.44" width="5.04" height="58.16" fill="none" stroke="#23306e" stroke-width="0.5" stroke-opacity="0.75"/>
<line x1="73.5" y1="351.86" x2="79.04" y2="351.86" stroke="#23306e" stroke-width="0.4" stroke-opacity="0.5"/>
<rect x="79.29" y="333.67" width="5.04" height="48.93" fill="none" stroke="#23306e" stroke-width="0.5" stroke-opacity="0.75"/>
<line x1="79.04" y1="367.23" x2="84.58" y2="367.23" stroke="#23306e" stroke-width="0.4" stroke-opacity="0.5"/>
<rect x="84.83" y="327.52" width="5.04" height="55.08" fill="none" stroke="#23306e" stroke-width="0.5" stroke-opacity="0.75"/>
<line x1="84.58" y1="373.38" x2="90.12" y2="373.38" stroke="#23306e" stroke-width="0.4" stroke-opacity="0.5"/>
<rect x="90.37" y="336.74" width="5.04" height="45.86" fill="none" stroke="#23306e" stroke-width="0.5" stroke-opacity="0.75"/>
<line x1="90.12" y1="367.23" x2="95.66" y2="367.23" stroke="#23306e" stroke-width="0.4" stroke-opacity="0.5"/>
<rect x="95.91" y="349.04" width="5.04" height="33.56" fill="none" stroke="#23306e" stroke-width="0.5" stroke-opacity="0.75"/>
<line x1="95.66" y1="373.38" x2="101.2" y2="373.38" stroke="#23306e" stroke-width="0.4" stroke-opacity="0.5"/>
<rect x="101.45" y="376.7" width="5.04" height="5.9" fill="none" stroke="#23306e" stroke-width="0.5" stroke-opacity="0.75"/>
<line x1="101.2" y1="379.53" x2="106.74" y2="379.53" stroke="#23306e" stroke-width="0.4" stroke-opacity="0.5"/>
<rect x="106.99" y="373.63" width="5.04" height="8.97" fill="none" stroke="#23306e" stroke-width="0.5" stroke-opacity="0.75"/>
<rect x="112.53" y="370.55" width="5.04" height="12.05" fill="none" stroke="#23306e" stroke-width="0.5" stroke-opacity="0.75"/>
<line x1="112.28" y1="379.53" x2="117.82" y2="379.53" stroke="#23306e" stroke-width="0.4" stroke-opacity="0.5"/>
<rect x="118.07" y="364.41" width="5.04" height="18.19" fill="none" stroke="#23306e" stroke-width="0.5" stroke-opacity="0.75"/>
<line x1="117.82" y1="379.53" x2="123.36" y2="379.53" stroke="#23306e" stroke-width="0.4" stroke-opacity="0.5"/>
<rect x="123.61" y="376.7" width="5.04" height="5.9" fill="none" stroke="#23306e" stroke-width="0.5" stroke-opacity="0.75"/>
<line x1="123.36" y1="379.53" x2="128.9" y2="379.53" stroke="#23306e" stroke-width="0.4" stroke-opacity="0.5"/>
<rect x="129.15" y="358.26" width="5.04" height="24.34" fill="none" stroke="#23306e" stroke-width="0.5" stroke-opacity="0.75"/>
<line x1="128.9" y1="379.53" x2="134.44" y2="379.53" stroke="#23306e" stroke-width="0.4" stroke-opacity="0.5"/>
<rect x="134.69" y="379.78" width="5.04" height="2.82" fill="none" stroke="#23306e" stroke-width="0.5" stroke-opacity="0.75"/>
<rect x="140.23" y="376.7" width="5.04" height="5.9" fill="none" stroke="#23306e" stroke-width="0.5" stroke-opacity="0.75"/>
<rect x="145.77" y="373.63" width="5.04" height="8.97" fill="none" stroke="#23306e" stroke-width="0.5" stroke-opacity="0.75"/>
<rect x="151.31" y="379.78" width="5.04" height="2.82" fill="none" stroke="#2a5aa0" stroke-width="0.5" stroke-opacity="0.75"/>
<rect x="156.85" y="379.78" width="5.04" height="2.82" fill="none" stroke="#23306e" stroke-width="0.5" stroke-opacity="0.75"/>
<rect x="162.39" y="379.78" width="5.04" height="2.82" fill="none" stroke="#23306e" stroke-width="0.5" stroke-opacity="0.75"/>
<rect x="173.47" y="376.7" width="5.04" height="5.9" fill="none" stroke="#23306e" stroke-width="0.5" stroke-opacity="0.75"/>
<rect x="179.01" y="379.78" width="5.04" height="2.82" fill="none" stroke="#23306e" stroke-width="0.5" stroke-opacity="0.75"/>
<rect x="190.09" y="373.63" width="5.04" height="8.97" fill="none" stroke="#23306e" stroke-width="0.5" stroke-opacity="0.75"/>
<rect x="195.63" y="376.7" width="5.04" height="5.9" fill="none" stroke="#23306e" stroke-width="0.5" stroke-opacity="0.75"/>
<rect x="201.17" y="379.78" width="5.04" height="2.82" fill="none" stroke="#2a5aa0" stroke-width="0.5" stroke-opacity="0.75"/>
<rect x="212.25" y="379.78" width="5.04" height="2.82" fill="none" stroke="#2a5aa0" stroke-width="0.5" stroke-opacity="0.75"/>
<rect x="217.79" y="379.78" width="5.04" height="2.82" fill="none" stroke="#23306e" stroke-width="0.5" stroke-opacity="0.75"/>
<rect x="228.87" y="379.78" width="5.04" height="2.82" fill="none" stroke="#23306e" stroke-width="0.5" stroke-opacity="0.75"/>
<rect x="239.95" y="379.78" width="5.04" height="2.82" fill="none" stroke="#2a5aa0" stroke-width="0.5" stroke-opacity="0.75"/>
<rect x="289.81" y="379.78" width="5.04" height="2.82" fill="none" stroke="#23306e" stroke-width="0.5" stroke-opacity="0.75"/>
<rect x="300.89" y="379.78" width="5.04" height="2.82" fill="none" stroke="#2a5aa0" stroke-width="0.5" stroke-opacity="0.75"/>
<line x1="61.7" y1="273" x2="61.7" y2="281.16" stroke="#e82020" stroke-width="1.1" stroke-dasharray="1.4 2.0"/>
<line x1="61.7" y1="281.16" x2="61.7" y2="382.6" stroke="#2a3070" stroke-width="1.1" stroke-dasharray="1.4 2.0" stroke-dashoffset="1.36"/>
<line x1="70.7" y1="273" x2="70.7" y2="342.64" stroke="#111" stroke-width="1.1" stroke-dasharray="1.4 2.0"/>
<line x1="70.7" y1="342.64" x2="70.7" y2="382.6" stroke="#142040" stroke-width="1.1" stroke-dasharray="1.4 2.0" stroke-dashoffset="1.64"/>
<line x1="86.5" y1="273" x2="86.5" y2="327.27" stroke="#e82020" stroke-width="1.1" stroke-dasharray="1.4 2.0"/>
<line x1="86.5" y1="327.27" x2="86.5" y2="382.6" stroke="#9a3aa0" stroke-width="0.9"/>
<line x1="99.1" y1="273" x2="99.1" y2="348.79" stroke="#111" stroke-width="1.1" stroke-dasharray="1.4 2.0"/>
<line x1="99.1" y1="348.79" x2="99.1" y2="382.6" stroke="#141838" stroke-width="1.1" stroke-dasharray="1.4 2.0" stroke-dashoffset="0.99"/>
<path d="M45.8 271.7 V382.6 H323.5" fill="none" stroke="#333" stroke-width="0.9"/>
<text x="44.2" y="277.41" font-size="6.9" text-anchor="end" font-weight="normal" fill="#1e1e1e" stroke="#1e1e1e" stroke-width="0.18">35</text>
<text x="44.2" y="292.78" font-size="6.9" text-anchor="end" font-weight="normal" fill="#1e1e1e" stroke="#1e1e1e" stroke-width="0.18">30</text>
<text x="44.2" y="308.15" font-size="6.9" text-anchor="end" font-weight="normal" fill="#1e1e1e" stroke="#1e1e1e" stroke-width="0.18">25</text>
<text x="44.2" y="323.52" font-size="6.9" text-anchor="end" font-weight="normal" fill="#1e1e1e" stroke="#1e1e1e" stroke-width="0.18">20</text>
<text x="44.2" y="338.89" font-size="6.9" text-anchor="end" font-weight="normal" fill="#1e1e1e" stroke="#1e1e1e" stroke-width="0.18">15</text>
<text x="44.2" y="354.26" font-size="6.9" text-anchor="end" font-weight="normal" fill="#1e1e1e" stroke="#1e1e1e" stroke-width="0.18">10</text>
<text x="44.2" y="369.63" font-size="6.9" text-anchor="end" font-weight="normal" fill="#1e1e1e" stroke="#1e1e1e" stroke-width="0.18">5</text>
<text x="45.8" y="389" font-size="6.9" text-anchor="middle" font-weight="normal" fill="#1e1e1e" stroke="#1e1e1e" stroke-width="0.18">0</text>
<text x="101.2" y="389" font-size="6.9" text-anchor="middle" font-weight="normal" fill="#1e1e1e" stroke="#1e1e1e" stroke-width="0.18">2</text>
<text x="156.6" y="389" font-size="6.9" text-anchor="middle" font-weight="normal" fill="#1e1e1e" stroke="#1e1e1e" stroke-width="0.18">4</text>
<text x="212" y="389" font-size="6.9" text-anchor="middle" font-weight="normal" fill="#1e1e1e" stroke="#1e1e1e" stroke-width="0.18">6</text>
<text x="267.4" y="389" font-size="6.9" text-anchor="middle" font-weight="normal" fill="#1e1e1e" stroke="#1e1e1e" stroke-width="0.18">8</text>
<text x="322.8" y="389" font-size="6.9" text-anchor="middle" font-weight="normal" fill="#1e1e1e" stroke="#1e1e1e" stroke-width="0.18">10</text>
<text x="184.7" y="397" font-size="6.9" text-anchor="middle" font-weight="normal" fill="#1e1e1e" stroke="#1e1e1e" stroke-width="0.18" textLength="49.5" lengthAdjust="spacingAndGlyphs">Amplitude (mN)</text>
<text x="32.9" y="327.5" font-size="6.6" text-anchor="middle" font-weight="normal" fill="#1e1e1e" stroke="#1e1e1e" stroke-width="0.18" transform="rotate(-90 32.9 327.5)" textLength="77" lengthAdjust="spacingAndGlyphs">Frequency of Occurence</text>
<text x="6.75" y="273" font-size="7.4" text-anchor="middle" font-weight="bold" fill="#1e1e1e" stroke="#1e1e1e" stroke-width="0.12" textLength="4.4" lengthAdjust="spacingAndGlyphs">E</text>
<line x1="116.8" y1="276" x2="123.9" y2="276" stroke="#111" stroke-width="1" stroke-dasharray="2.4 2.2"/>
<line x1="116.8" y1="282.9" x2="123.9" y2="282.9" stroke="#e02020" stroke-width="1" stroke-dasharray="2.4 2.2"/>
<rect x="115.6" y="288.6" width="9.7" height="2.9" fill="#4c44a8" stroke="#23306e" stroke-width="0.4"/>
<rect x="115.6" y="294.8" width="9.7" height="2.9" fill="#55a5f5" stroke="#23306e" stroke-width="0.4"/>
<text x="128.3" y="278" font-size="5.6" text-anchor="start" font-weight="normal" fill="#1e1e1e" stroke="#1e1e1e" stroke-width="0.1">mean</text>
<text x="128.3" y="284.9" font-size="5.6" text-anchor="start" font-weight="normal" fill="#1e1e1e" stroke="#1e1e1e" stroke-width="0.1">median</text>
<text x="128.3" y="292" font-size="5.6" text-anchor="start" font-weight="normal" fill="#1e1e1e" stroke="#1e1e1e" stroke-width="0.1">NoGap</text>
<text x="128.3" y="298.3" font-size="5.6" text-anchor="start" font-weight="normal" fill="#1e1e1e" stroke="#1e1e1e" stroke-width="0.1">Gap</text>
<rect x="215.5" y="355.87" width="3" height="0.93" fill="#f05a40" stroke="#8a2a1a" stroke-width="0.35"/>
<rect x="218.5" y="351.7" width="4.1" height="5.1" fill="#f05a40" stroke="#8a2a1a" stroke-width="0.35"/>
<rect x="222.6" y="347.68" width="3" height="9.12" fill="#f05a40" stroke="#8a2a1a" stroke-width="0.35"/>
<rect x="225.6" y="342.42" width="3.3" height="14.38" fill="#f05a40" stroke="#8a2a1a" stroke-width="0.35"/>
<rect x="228.9" y="335" width="3.3" height="21.8" fill="#f05a40" stroke="#8a2a1a" stroke-width="0.35"/>
<rect x="232.2" y="279.81" width="3.7" height="76.99" fill="#f05a40" stroke="#8a2a1a" stroke-width="0.35"/>
<rect x="235.9" y="343.35" width="3.3" height="13.45" fill="#f05a40" stroke="#8a2a1a" stroke-width="0.35"/>
<rect x="239.2" y="350.15" width="3.1" height="6.65" fill="#f05a40" stroke="#8a2a1a" stroke-width="0.35"/>
<rect x="242.3" y="353.55" width="3" height="3.25" fill="#f05a40" stroke="#8a2a1a" stroke-width="0.35"/>
<rect x="245.3" y="355.25" width="3" height="1.55" fill="#f05a40" stroke="#8a2a1a" stroke-width="0.35"/>
<rect x="248.3" y="356.03" width="3" height="0.77" fill="#f05a40" stroke="#8a2a1a" stroke-width="0.35"/>
<rect x="246.5" y="355.87" width="3.5" height="0.93" fill="#4050f0" stroke="#1a2080" stroke-width="0.35"/>
<rect x="250" y="350.15" width="3.5" height="6.65" fill="#4050f0" stroke="#1a2080" stroke-width="0.35"/>
<rect x="253.5" y="344.12" width="3.5" height="12.68" fill="#4050f0" stroke="#1a2080" stroke-width="0.35"/>
<rect x="257" y="339.95" width="3.4" height="16.85" fill="#4050f0" stroke="#1a2080" stroke-width="0.35"/>
<rect x="260.4" y="336.24" width="3.4" height="20.56" fill="#4050f0" stroke="#1a2080" stroke-width="0.35"/>
<rect x="263.8" y="335" width="3.4" height="21.8" fill="#4050f0" stroke="#1a2080" stroke-width="0.35"/>
<rect x="267.2" y="335.77" width="3.5" height="21.03" fill="#4050f0" stroke="#1a2080" stroke-width="0.35"/>
<rect x="270.7" y="339.18" width="3.4" height="17.62" fill="#4050f0" stroke="#1a2080" stroke-width="0.35"/>
<rect x="274.1" y="343.35" width="3.4" height="13.45" fill="#4050f0" stroke="#1a2080" stroke-width="0.35"/>
<rect x="277.5" y="346.91" width="3.4" height="9.89" fill="#4050f0" stroke="#1a2080" stroke-width="0.35"/>
<rect x="280.9" y="350.31" width="3.4" height="6.49" fill="#4050f0" stroke="#1a2080" stroke-width="0.35"/>
<rect x="284.3" y="352.94" width="3.4" height="3.87" fill="#4050f0" stroke="#1a2080" stroke-width="0.35"/>
<rect x="287.7" y="354.94" width="3.4" height="1.86" fill="#4050f0" stroke="#1a2080" stroke-width="0.35"/>
<rect x="291.1" y="356.03" width="3.4" height="0.77" fill="#4050f0" stroke="#1a2080" stroke-width="0.35"/>
<rect x="294.5" y="356.49" width="3.4" height="0.31" fill="#4050f0" stroke="#1a2080" stroke-width="0.35"/>
<path d="M199.8 271.5 V357 H307.7" fill="none" stroke="#777" stroke-width="0.9"/>
<text x="198.9" y="350.87" font-size="5.0" text-anchor="end" font-weight="normal" fill="#1e1e1e" stroke="#1e1e1e" stroke-width="0.1">500</text>
<text x="198.9" y="343.14" font-size="5.0" text-anchor="end" font-weight="normal" fill="#1e1e1e" stroke="#1e1e1e" stroke-width="0.1">1000</text>
<text x="198.9" y="335.41" font-size="5.0" text-anchor="end" font-weight="normal" fill="#1e1e1e" stroke="#1e1e1e" stroke-width="0.1">1500</text>
<text x="198.9" y="327.68" font-size="5.0" text-anchor="end" font-weight="normal" fill="#1e1e1e" stroke="#1e1e1e" stroke-width="0.1">2000</text>
<text x="198.9" y="319.95" font-size="5.0" text-anchor="end" font-weight="normal" fill="#1e1e1e" stroke="#1e1e1e" stroke-width="0.1">2500</text>
<text x="198.9" y="312.22" font-size="5.0" text-anchor="end" font-weight="normal" fill="#1e1e1e" stroke="#1e1e1e" stroke-width="0.1">3000</text>
<text x="198.9" y="304.49" font-size="5.0" text-anchor="end" font-weight="normal" fill="#1e1e1e" stroke="#1e1e1e" stroke-width="0.1">3500</text>
<text x="198.9" y="296.76" font-size="5.0" text-anchor="end" font-weight="normal" fill="#1e1e1e" stroke="#1e1e1e" stroke-width="0.1">4000</text>
<text x="198.9" y="289.03" font-size="5.0" text-anchor="end" font-weight="normal" fill="#1e1e1e" stroke="#1e1e1e" stroke-width="0.1">4500</text>
<text x="198.9" y="281.3" font-size="5.0" text-anchor="end" font-weight="normal" fill="#1e1e1e" stroke="#1e1e1e" stroke-width="0.1">5000</text>
<text x="200.5" y="363.3" font-size="5.0" text-anchor="middle" font-weight="normal" fill="#1e1e1e" stroke="#1e1e1e" stroke-width="0.1">1.0</text>
<text x="214.8" y="363.3" font-size="5.0" text-anchor="middle" font-weight="normal" fill="#1e1e1e" stroke="#1e1e1e" stroke-width="0.1">1.2</text>
<text x="229.1" y="363.3" font-size="5.0" text-anchor="middle" font-weight="normal" fill="#1e1e1e" stroke="#1e1e1e" stroke-width="0.1">1.4</text>
<text x="243.4" y="363.3" font-size="5.0" text-anchor="middle" font-weight="normal" fill="#1e1e1e" stroke="#1e1e1e" stroke-width="0.1">1.6</text>
<text x="257.7" y="363.3" font-size="5.0" text-anchor="middle" font-weight="normal" fill="#1e1e1e" stroke="#1e1e1e" stroke-width="0.1">1.8</text>
<text x="272" y="363.3" font-size="5.0" text-anchor="middle" font-weight="normal" fill="#1e1e1e" stroke="#1e1e1e" stroke-width="0.1">2.0</text>
<text x="286.3" y="363.3" font-size="5.0" text-anchor="middle" font-weight="normal" fill="#1e1e1e" stroke="#1e1e1e" stroke-width="0.1">2.2</text>
<text x="300.6" y="363.3" font-size="5.0" text-anchor="middle" font-weight="normal" fill="#1e1e1e" stroke="#1e1e1e" stroke-width="0.1">2.4</text>
<text x="253.3" y="368.6" font-size="5.0" text-anchor="middle" font-weight="normal" fill="#1e1e1e" stroke="#1e1e1e" stroke-width="0.1" textLength="36.8" lengthAdjust="spacingAndGlyphs">Amplitude (mN)</text>
<text x="183.8" y="315.3" font-size="5.0" text-anchor="middle" font-weight="normal" fill="#1e1e1e" stroke="#1e1e1e" stroke-width="0.1" transform="rotate(-90 183.8 315.3)" textLength="56" lengthAdjust="spacingAndGlyphs">Frequency of occurrence</text>
<text x="184.9" y="272.7" font-size="6.8" text-anchor="middle" font-weight="bold" fill="#1e1e1e" stroke="#1e1e1e" stroke-width="0.12" textLength="3.9" lengthAdjust="spacingAndGlyphs">F</text>
<line x1="208" y1="274.2" x2="219.5" y2="274.2" stroke="#f07060" stroke-width="0.8" stroke-dasharray="0.9 1.3" stroke-opacity="0.7"/>
<line x1="220" y1="274.2" x2="228.5" y2="274.2" stroke="#c03020" stroke-width="1" stroke-dasharray="1.1 1.0"/>
<line x1="237.5" y1="274.2" x2="253" y2="274.2" stroke="#e05040" stroke-width="0.9" stroke-dasharray="0.9 1.2" stroke-opacity="0.8"/>
<ellipse cx="232.9" cy="274.2" rx="3.9" ry="1.35" fill="#f05a40" stroke="#c02818" stroke-width="0.3"/>
<line x1="234" y1="277.4" x2="239" y2="277.4" stroke="#6070f0" stroke-width="0.8" stroke-dasharray="0.8 1.0" stroke-opacity="0.8"/>
<line x1="239.2" y1="277.4" x2="251.8" y2="277.4" stroke="#2828c8" stroke-width="1.2"/>
<line x1="252" y1="277.4" x2="258" y2="277.4" stroke="#3040d0" stroke-width="0.9" stroke-dasharray="1 1.2"/>
<ellipse cx="266.2" cy="277.4" rx="7.5" ry="1.35" fill="#6070e8" stroke="#2830c0" stroke-width="0.4"/>
<line x1="274.5" y1="277.4" x2="282" y2="277.4" stroke="#3040d0" stroke-width="0.9" stroke-dasharray="1 1.3"/>
<line x1="282.3" y1="277.4" x2="296.4" y2="277.4" stroke="#2020c0" stroke-width="1.3"/>
<line x1="296.6" y1="277.4" x2="303.3" y2="277.4" stroke="#5060e0" stroke-width="0.9" stroke-dasharray="0.9 1.3" stroke-opacity="0.8"/>
<circle cx="307.6" cy="277.4" r="0.6" fill="#bbb"/>
<rect x="267.9" y="310.2" width="7.7" height="2.6" fill="#4050f0"/>
<rect x="267.9" y="315.2" width="7.7" height="2.6" fill="#f05a40"/>
<text x="278.2" y="313.1" font-size="4.7" text-anchor="start" font-weight="normal" fill="#1e1e1e" stroke="#1e1e1e" stroke-width="0.12" textLength="23.5" lengthAdjust="spacingAndGlyphs">mean(nogap)</text>
<text x="278.2" y="318.1" font-size="4.7" text-anchor="start" font-weight="normal" fill="#1e1e1e" stroke="#1e1e1e" stroke-width="0.12" textLength="26.6" lengthAdjust="spacingAndGlyphs">median(nogap)</text>
</svg></body></html>
